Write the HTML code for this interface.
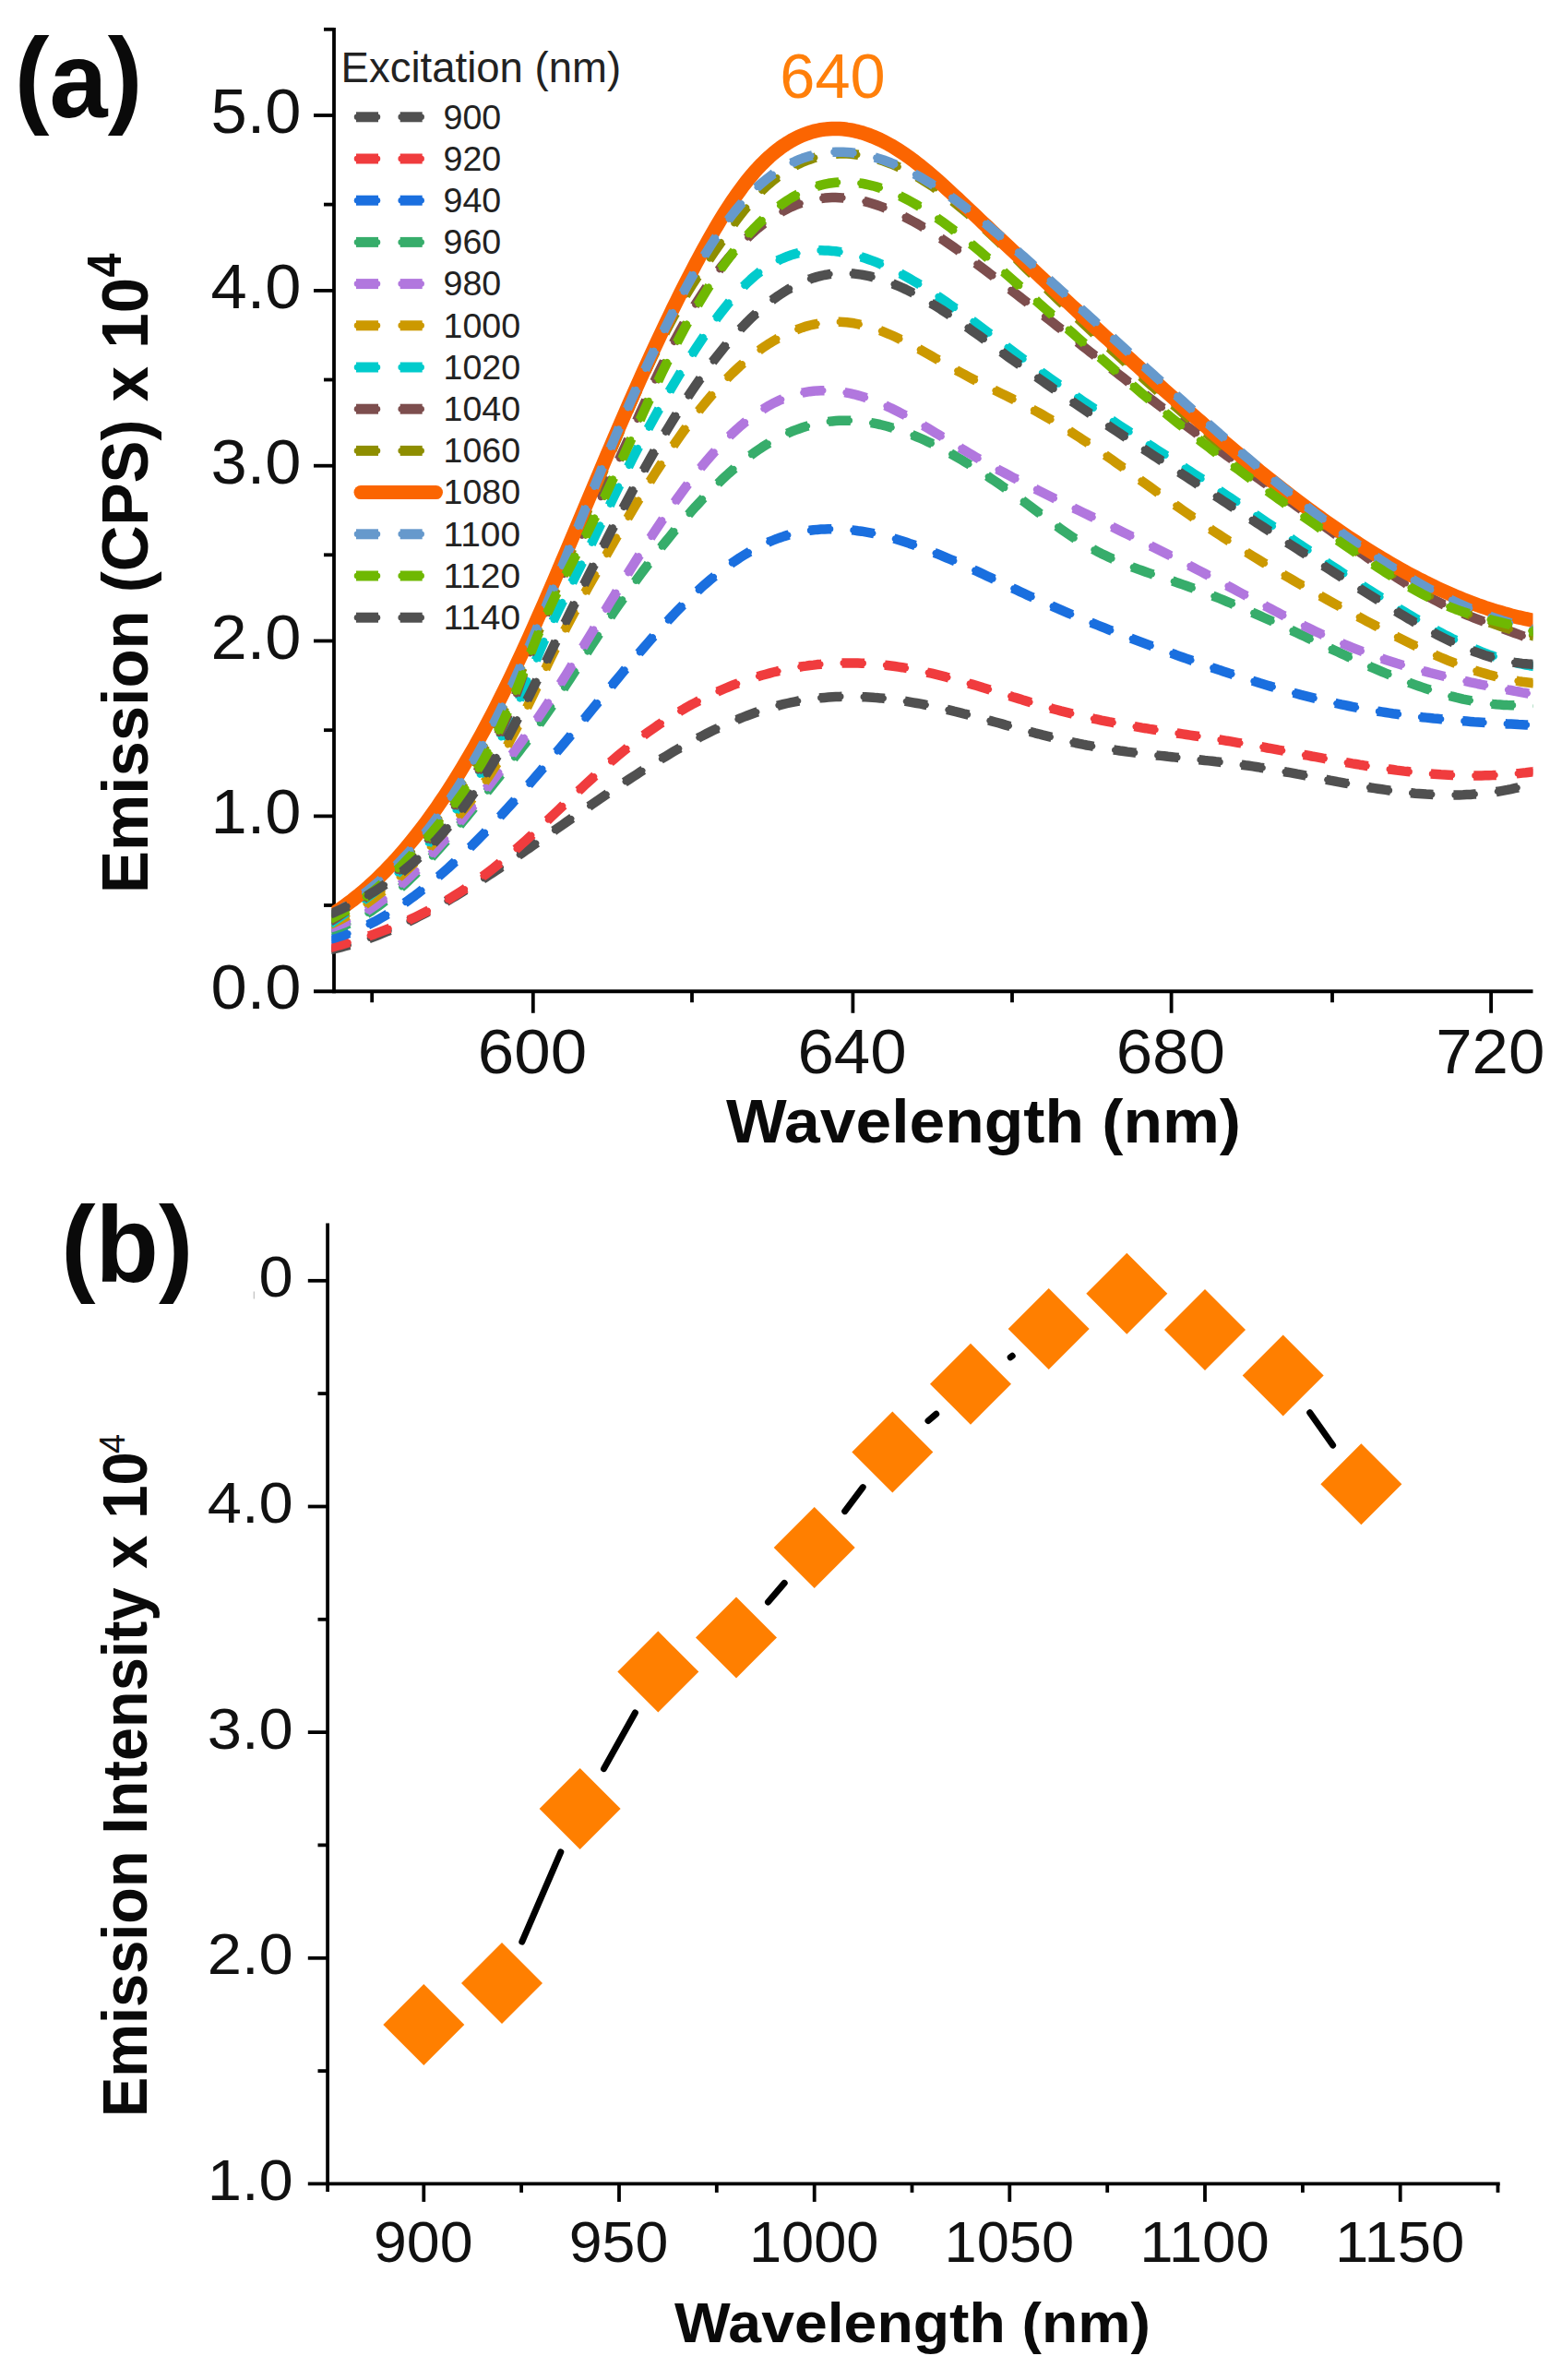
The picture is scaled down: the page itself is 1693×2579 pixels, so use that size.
<!DOCTYPE html>
<html lang="en">
<head>
<meta charset="utf-8">
<title>Emission spectra and excitation dependence</title>
<style>
html,body{margin:0;padding:0;background:#fff;}
body{width:1693px;height:2579px;overflow:hidden;}
svg{display:block;}
text{font-family:"Liberation Sans", sans-serif;}
.tk{font-size:69px;fill:#111;}
.tkb{font-size:63px;fill:#111;}
.lg{font-size:36px;fill:#222;}
.b{font-weight:bold;fill:#0a0a0a;}
.ax{stroke:#000;stroke-width:3.8;fill:none;stroke-linecap:butt;}
</style>
</head>
<body>
<svg width="1693" height="2579" viewBox="0 0 1693 2579">
<rect x="0" y="0" width="1693" height="2579" fill="#ffffff"/>

<defs><clipPath id="clipA"><rect x="359.4" y="20" width="1302.1" height="1055"/></clipPath></defs>
<path class="ax" d="M362.0 29.9 V1076.15"/>
<path class="ax" d="M340 1074.25 H1661.5"/>
<text class="tk" x="326.5" y="1093.2" text-anchor="end" textLength="98" lengthAdjust="spacingAndGlyphs">0.0</text>
<path class="ax" d="M340 884.4 H362.0"/>
<text class="tk" x="326.5" y="903.4" text-anchor="end" textLength="98" lengthAdjust="spacingAndGlyphs">1.0</text>
<path class="ax" d="M340 694.5 H362.0"/>
<text class="tk" x="326.5" y="713.5" text-anchor="end" textLength="98" lengthAdjust="spacingAndGlyphs">2.0</text>
<path class="ax" d="M340 504.7 H362.0"/>
<text class="tk" x="326.5" y="523.7" text-anchor="end" textLength="98" lengthAdjust="spacingAndGlyphs">3.0</text>
<path class="ax" d="M340 314.9 H362.0"/>
<text class="tk" x="326.5" y="333.9" text-anchor="end" textLength="98" lengthAdjust="spacingAndGlyphs">4.0</text>
<path class="ax" d="M340 125.0 H362.0"/>
<text class="tk" x="326.5" y="144.0" text-anchor="end" textLength="98" lengthAdjust="spacingAndGlyphs">5.0</text>
<path class="ax" d="M351 981.0 H362.0"/>
<path class="ax" d="M351 791.2 H362.0"/>
<path class="ax" d="M351 601.3 H362.0"/>
<path class="ax" d="M351 411.5 H362.0"/>
<path class="ax" d="M351 221.6 H362.0"/>
<path class="ax" d="M351 31.8 H362.0"/>
<path class="ax" d="M577.8 1074.25 V1097.75"/>
<text class="tk" x="577.0" y="1162.6" text-anchor="middle" textLength="118.3" lengthAdjust="spacingAndGlyphs">600</text>
<path class="ax" d="M924.4 1074.25 V1097.75"/>
<text class="tk" x="923.6" y="1162.6" text-anchor="middle" textLength="118.3" lengthAdjust="spacingAndGlyphs">640</text>
<path class="ax" d="M1269.6 1074.25 V1097.75"/>
<text class="tk" x="1268.8" y="1162.6" text-anchor="middle" textLength="118.3" lengthAdjust="spacingAndGlyphs">680</text>
<path class="ax" d="M1616.1 1074.25 V1097.75"/>
<text class="tk" x="1615.3" y="1162.6" text-anchor="middle" textLength="118.3" lengthAdjust="spacingAndGlyphs">720</text>
<path class="ax" d="M403.2 1074.25 V1086.25"/>
<path class="ax" d="M750.0 1074.25 V1086.25"/>
<path class="ax" d="M1097.0 1074.25 V1086.25"/>
<path class="ax" d="M1444.0 1074.25 V1086.25"/>
<g clip-path="url(#clipA)" fill="none" stroke-linejoin="round">
<path d="M357.8 1029.2 L361.8 1028.3 L365.8 1027.4 L369.8 1026.4 L373.8 1025.3 L377.8 1024.2 L381.8 1023.0 L385.8 1021.8 L389.8 1020.5 L393.8 1019.2 L397.8 1017.8 L401.8 1016.3 L405.8 1014.8 L409.8 1013.3 L413.8 1011.7 L417.8 1010.0 L421.8 1008.4 L425.8 1006.6 L429.8 1004.8 L433.8 1003.0 L437.8 1001.1 L441.8 999.2 L445.8 997.3 L449.8 995.3 L453.8 993.2 L457.8 991.1 L461.8 989.0 L465.8 986.9 L469.8 984.7 L473.8 982.5 L477.8 980.2 L481.8 977.9 L485.8 975.6 L489.8 973.3 L493.8 970.9 L497.8 968.5 L501.8 966.1 L505.8 963.6 L509.8 961.1 L513.8 958.6 L517.8 956.1 L521.8 953.5 L525.8 951.0 L529.8 948.4 L533.8 945.8 L537.8 943.1 L541.8 940.5 L545.8 937.8 L549.8 935.1 L553.8 932.4 L557.8 929.7 L561.8 927.0 L565.8 924.3 L569.8 921.5 L573.8 918.8 L577.8 916.0 L581.8 913.2 L585.8 910.4 L589.8 907.7 L593.8 904.9 L597.8 902.1 L601.8 899.3 L605.8 896.5 L609.8 893.7 L613.8 890.9 L617.8 888.1 L621.8 885.3 L625.8 882.5 L629.8 879.8 L633.8 877.0 L637.8 874.2 L641.8 871.5 L645.8 868.7 L649.8 866.0 L653.8 863.2 L657.8 860.5 L661.8 857.8 L665.8 855.1 L669.8 852.4 L673.8 849.8 L677.8 847.1 L681.8 844.5 L685.8 841.9 L689.8 839.3 L693.8 836.7 L697.8 834.1 L701.8 831.6 L705.8 829.1 L709.8 826.6 L713.8 824.2 L717.8 821.8 L721.8 819.4 L725.8 817.0 L729.8 814.6 L733.8 812.3 L737.8 810.0 L741.8 807.8 L745.8 805.6 L749.8 803.4 L753.8 801.3 L757.8 799.1 L761.8 797.1 L765.8 795.0 L769.8 793.0 L773.8 791.1 L777.8 789.2 L781.8 787.3 L785.8 785.5 L789.8 783.7 L793.8 782.0 L797.8 780.3 L801.8 778.6 L805.8 777.0 L809.8 775.5 L813.8 774.0 L817.8 772.5 L821.8 771.1 L825.8 769.8 L829.8 768.5 L833.8 767.3 L837.8 766.1 L841.8 765.0 L845.8 763.9 L849.8 762.9 L853.8 762.0 L857.8 761.1 L861.8 760.3 L865.8 759.5 L869.8 758.8 L873.8 758.2 L877.8 757.6 L881.8 757.1 L885.8 756.6 L889.8 756.2 L893.8 755.9 L897.8 755.6 L901.8 755.3 L905.8 755.1 L909.8 754.9 L913.8 754.8 L917.8 754.8 L921.8 754.8 L925.8 754.8 L929.8 754.9 L933.8 755.1 L937.8 755.3 L941.8 755.5 L945.8 755.7 L949.8 756.1 L953.8 756.4 L957.8 756.8 L961.8 757.2 L965.8 757.7 L969.8 758.2 L973.8 758.8 L977.8 759.3 L981.8 759.9 L985.8 760.6 L989.8 761.3 L993.8 762.0 L997.8 762.7 L1001.8 763.5 L1005.8 764.3 L1009.8 765.2 L1013.8 766.0 L1017.8 766.9 L1021.8 767.8 L1025.8 768.7 L1029.8 769.7 L1033.8 770.7 L1037.8 771.6 L1041.8 772.6 L1045.8 773.7 L1049.8 774.7 L1053.8 775.8 L1057.8 776.8 L1061.8 777.9 L1065.8 779.0 L1069.8 780.1 L1073.8 781.1 L1077.8 782.2 L1081.8 783.3 L1085.8 784.4 L1089.8 785.6 L1093.8 786.7 L1097.8 787.8 L1101.8 788.9 L1105.8 790.0 L1109.8 791.1 L1113.8 792.1 L1117.8 793.2 L1121.8 794.3 L1125.8 795.3 L1129.8 796.4 L1133.8 797.4 L1137.8 798.4 L1141.8 799.4 L1145.8 800.4 L1149.8 801.4 L1153.8 802.3 L1157.8 803.2 L1161.8 804.1 L1165.8 805.0 L1169.8 805.8 L1173.8 806.7 L1177.8 807.5 L1181.8 808.2 L1185.8 809.0 L1189.8 809.7 L1193.8 810.4 L1197.8 811.0 L1201.8 811.7 L1205.8 812.3 L1209.8 812.9 L1213.8 813.5 L1217.8 814.0 L1221.8 814.6 L1225.8 815.1 L1229.8 815.6 L1233.8 816.1 L1237.8 816.6 L1241.8 817.1 L1245.8 817.6 L1249.8 818.0 L1253.8 818.5 L1257.8 818.9 L1261.8 819.3 L1265.8 819.8 L1269.8 820.2 L1273.8 820.6 L1277.8 821.0 L1281.8 821.4 L1285.8 821.9 L1289.8 822.3 L1293.8 822.7 L1297.8 823.1 L1301.8 823.5 L1305.8 824.0 L1309.8 824.4 L1313.8 824.8 L1317.8 825.3 L1321.8 825.7 L1325.8 826.2 L1329.8 826.7 L1333.8 827.2 L1337.8 827.7 L1341.8 828.2 L1345.8 828.7 L1349.8 829.3 L1353.8 829.8 L1357.8 830.4 L1361.8 831.0 L1365.8 831.7 L1369.8 832.3 L1373.8 833.0 L1377.8 833.6 L1381.8 834.3 L1385.8 835.0 L1389.8 835.7 L1393.8 836.5 L1397.8 837.2 L1401.8 837.9 L1405.8 838.7 L1409.8 839.4 L1413.8 840.2 L1417.8 841.0 L1421.8 841.7 L1425.8 842.5 L1429.8 843.3 L1433.8 844.0 L1437.8 844.8 L1441.8 845.6 L1445.8 846.3 L1449.8 847.1 L1453.8 847.8 L1457.8 848.6 L1461.8 849.3 L1465.8 850.0 L1469.8 850.7 L1473.8 851.4 L1477.8 852.1 L1481.8 852.8 L1485.8 853.5 L1489.8 854.1 L1493.8 854.7 L1497.8 855.3 L1501.8 855.9 L1505.8 856.5 L1509.8 857.0 L1513.8 857.5 L1517.8 858.0 L1521.8 858.4 L1525.8 858.9 L1529.8 859.3 L1533.8 859.7 L1537.8 860.0 L1541.8 860.3 L1545.8 860.6 L1549.8 860.8 L1553.8 861.0 L1557.8 861.2 L1561.8 861.3 L1565.8 861.4 L1569.8 861.5 L1573.8 861.5 L1577.8 861.5 L1581.8 861.4 L1585.8 861.3 L1589.8 861.1 L1593.8 860.9 L1597.8 860.6 L1601.8 860.3 L1605.8 859.9 L1609.8 859.5 L1613.8 859.1 L1617.8 858.5 L1621.8 858.0 L1625.8 857.3 L1629.8 856.6 L1633.8 855.9 L1637.8 855.1 L1641.8 854.2 L1645.8 853.3 L1649.8 852.3 L1653.8 851.2 L1657.8 850.1 L1661.8 848.9 L1665.8 847.6" stroke="#505050" stroke-width="10.5" stroke-dasharray="24.4 22.1" stroke-dashoffset="2.7"/>
<path d="M357.8 1029.2 L361.8 1028.3 L365.8 1027.4 L369.8 1026.4 L373.8 1025.3 L377.8 1024.2 L381.8 1023.0 L385.8 1021.8 L389.8 1020.5 L393.8 1019.2 L397.8 1017.8 L401.8 1016.3 L405.8 1014.8 L409.8 1013.3 L413.8 1011.7 L417.8 1010.0 L421.8 1008.4 L425.8 1006.6 L429.8 1004.8 L433.8 1003.0 L437.8 1001.1 L441.8 999.2 L445.8 997.3 L449.8 995.3 L453.8 993.2 L457.8 991.1 L461.8 989.0 L465.8 986.9 L469.8 984.7 L473.8 982.5 L477.8 980.2 L481.8 977.9 L485.8 975.6 L489.8 973.3 L493.8 970.9 L497.8 968.5 L501.8 966.1 L505.8 963.6 L509.8 961.1 L513.8 958.6 L517.8 956.1 L521.8 953.5 L525.8 951.0 L529.8 948.4 L533.8 945.8 L537.8 943.1 L541.8 940.5 L545.8 937.8 L549.8 935.1 L553.8 932.4 L557.8 929.7 L561.8 927.0 L565.8 924.3 L569.8 921.5 L573.8 918.8 L577.8 916.0 L581.8 913.2 L585.8 910.4 L589.8 907.7 L593.8 904.9 L597.8 902.1 L601.8 899.3 L605.8 896.5 L609.8 893.7 L613.8 890.9 L617.8 888.1 L621.8 885.3 L625.8 882.5 L629.8 879.8 L633.8 877.0 L637.8 874.2 L641.8 871.5 L645.8 868.7 L649.8 866.0 L653.8 863.2 L657.8 860.5 L661.8 857.8 L665.8 855.1 L669.8 852.4 L673.8 849.8 L677.8 847.1 L681.8 844.5 L685.8 841.9 L689.8 839.3 L693.8 836.7 L697.8 834.1 L701.8 831.6 L705.8 829.1 L709.8 826.6 L713.8 824.2 L717.8 821.8 L721.8 819.4 L725.8 817.0 L729.8 814.6 L733.8 812.3 L737.8 810.0 L741.8 807.8 L745.8 805.6 L749.8 803.4 L753.8 801.3 L757.8 799.1 L761.8 797.1 L765.8 795.0 L769.8 793.0 L773.8 791.1 L777.8 789.2 L781.8 787.3 L785.8 785.5 L789.8 783.7 L793.8 782.0 L797.8 780.3 L801.8 778.6 L805.8 777.0 L809.8 775.5 L813.8 774.0 L817.8 772.5 L821.8 771.1 L825.8 769.8 L829.8 768.5 L833.8 767.3 L837.8 766.1 L841.8 765.0 L845.8 763.9 L849.8 762.9 L853.8 762.0 L857.8 761.1 L861.8 760.3 L865.8 759.5 L869.8 758.8 L873.8 758.2 L877.8 757.6 L881.8 757.1 L885.8 756.6 L889.8 756.2 L893.8 755.9 L897.8 755.6 L901.8 755.3 L905.8 755.1 L909.8 754.9 L913.8 754.8 L917.8 754.8 L921.8 754.8 L925.8 754.8 L929.8 754.9 L933.8 755.1 L937.8 755.3 L941.8 755.5 L945.8 755.7 L949.8 756.1 L953.8 756.4 L957.8 756.8 L961.8 757.2 L965.8 757.7 L969.8 758.2 L973.8 758.8 L977.8 759.3 L981.8 759.9 L985.8 760.6 L989.8 761.3 L993.8 762.0 L997.8 762.7 L1001.8 763.5 L1005.8 764.3 L1009.8 765.2 L1013.8 766.0 L1017.8 766.9 L1021.8 767.8 L1025.8 768.7 L1029.8 769.7 L1033.8 770.7 L1037.8 771.6 L1041.8 772.6 L1045.8 773.7 L1049.8 774.7 L1053.8 775.8 L1057.8 776.8 L1061.8 777.9 L1065.8 779.0 L1069.8 780.1 L1073.8 781.1 L1077.8 782.2 L1081.8 783.3 L1085.8 784.4 L1089.8 785.6 L1093.8 786.7 L1097.8 787.8 L1101.8 788.9 L1105.8 790.0 L1109.8 791.1 L1113.8 792.1 L1117.8 793.2 L1121.8 794.3 L1125.8 795.3 L1129.8 796.4 L1133.8 797.4 L1137.8 798.4 L1141.8 799.4 L1145.8 800.4 L1149.8 801.4 L1153.8 802.3 L1157.8 803.2 L1161.8 804.1 L1165.8 805.0 L1169.8 805.8 L1173.8 806.7 L1177.8 807.5 L1181.8 808.2 L1185.8 809.0 L1189.8 809.7 L1193.8 810.4 L1197.8 811.0 L1201.8 811.7 L1205.8 812.3 L1209.8 812.9 L1213.8 813.5 L1217.8 814.0 L1221.8 814.6 L1225.8 815.1 L1229.8 815.6 L1233.8 816.1 L1237.8 816.6 L1241.8 817.1 L1245.8 817.6 L1249.8 818.0 L1253.8 818.5 L1257.8 818.9 L1261.8 819.3 L1265.8 819.8 L1269.8 820.2 L1273.8 820.6 L1277.8 821.0 L1281.8 821.4 L1285.8 821.9 L1289.8 822.3 L1293.8 822.7 L1297.8 823.1 L1301.8 823.5 L1305.8 824.0 L1309.8 824.4 L1313.8 824.8 L1317.8 825.3 L1321.8 825.7 L1325.8 826.2 L1329.8 826.7 L1333.8 827.2 L1337.8 827.7 L1341.8 828.2 L1345.8 828.7 L1349.8 829.3 L1353.8 829.8 L1357.8 830.4 L1361.8 831.0 L1365.8 831.7 L1369.8 832.3 L1373.8 833.0 L1377.8 833.6 L1381.8 834.3 L1385.8 835.0 L1389.8 835.7 L1393.8 836.5 L1397.8 837.2 L1401.8 837.9 L1405.8 838.7 L1409.8 839.4 L1413.8 840.2 L1417.8 841.0 L1421.8 841.7 L1425.8 842.5 L1429.8 843.3 L1433.8 844.0 L1437.8 844.8 L1441.8 845.6 L1445.8 846.3 L1449.8 847.1 L1453.8 847.8 L1457.8 848.6 L1461.8 849.3 L1465.8 850.0 L1469.8 850.7 L1473.8 851.4 L1477.8 852.1 L1481.8 852.8 L1485.8 853.5 L1489.8 854.1 L1493.8 854.7 L1497.8 855.3 L1501.8 855.9 L1505.8 856.5 L1509.8 857.0 L1513.8 857.5 L1517.8 858.0 L1521.8 858.4 L1525.8 858.9 L1529.8 859.3 L1533.8 859.7 L1537.8 860.0 L1541.8 860.3 L1545.8 860.6 L1549.8 860.8 L1553.8 861.0 L1557.8 861.2 L1561.8 861.3 L1565.8 861.4 L1569.8 861.5 L1573.8 861.5 L1577.8 861.5 L1581.8 861.4 L1585.8 861.3 L1589.8 861.1 L1593.8 860.9 L1597.8 860.6 L1601.8 860.3 L1605.8 859.9 L1609.8 859.5 L1613.8 859.1 L1617.8 858.5 L1621.8 858.0 L1625.8 857.3 L1629.8 856.6 L1633.8 855.9 L1637.8 855.1 L1641.8 854.2 L1645.8 853.3 L1649.8 852.3 L1653.8 851.2 L1657.8 850.1 L1661.8 848.9 L1665.8 847.6" stroke="#505050" stroke-width="6.5" stroke-linecap="round" stroke-dasharray="22 24.5" stroke-dashoffset="1.5"/>
<path d="M357.8 1026.9 L361.8 1025.9 L365.8 1024.8 L369.8 1023.6 L373.8 1022.5 L377.8 1021.3 L381.8 1020.1 L385.8 1018.9 L389.8 1017.6 L393.8 1016.3 L397.8 1015.0 L401.8 1013.6 L405.8 1012.2 L409.8 1010.7 L413.8 1009.2 L417.8 1007.7 L421.8 1006.1 L425.8 1004.5 L429.8 1002.9 L433.8 1001.2 L437.8 999.4 L441.8 997.7 L445.8 995.8 L449.8 993.9 L453.8 992.0 L457.8 990.0 L461.8 988.0 L465.8 985.9 L469.8 983.8 L473.8 981.6 L477.8 979.4 L481.8 977.1 L485.8 974.7 L489.8 972.3 L493.8 969.8 L497.8 967.3 L501.8 964.7 L505.8 962.0 L509.8 959.3 L513.8 956.5 L517.8 953.7 L521.8 950.7 L525.8 947.7 L529.8 944.7 L533.8 941.6 L537.8 938.4 L541.8 935.1 L545.8 931.8 L549.8 928.4 L553.8 925.0 L557.8 921.5 L561.8 918.0 L565.8 914.4 L569.8 910.8 L573.8 907.2 L577.8 903.5 L581.8 899.8 L585.8 896.1 L589.8 892.3 L593.8 888.6 L597.8 884.8 L601.8 881.0 L605.8 877.2 L609.8 873.4 L613.8 869.6 L617.8 865.9 L621.8 862.1 L625.8 858.3 L629.8 854.6 L633.8 850.8 L637.8 847.1 L641.8 843.5 L645.8 839.8 L649.8 836.2 L653.8 832.6 L657.8 829.1 L661.8 825.6 L665.8 822.2 L669.8 818.8 L673.8 815.5 L677.8 812.2 L681.8 809.0 L685.8 805.8 L689.8 802.7 L693.8 799.7 L697.8 796.7 L701.8 793.8 L705.8 791.0 L709.8 788.2 L713.8 785.4 L717.8 782.8 L721.8 780.2 L725.8 777.6 L729.8 775.1 L733.8 772.7 L737.8 770.3 L741.8 767.9 L745.8 765.7 L749.8 763.4 L753.8 761.3 L757.8 759.2 L761.8 757.1 L765.8 755.1 L769.8 753.2 L773.8 751.3 L777.8 749.5 L781.8 747.7 L785.8 746.0 L789.8 744.3 L793.8 742.7 L797.8 741.2 L801.8 739.7 L805.8 738.2 L809.8 736.8 L813.8 735.5 L817.8 734.2 L821.8 733.0 L825.8 731.8 L829.8 730.7 L833.8 729.6 L837.8 728.5 L841.8 727.6 L845.8 726.6 L849.8 725.8 L853.8 724.9 L857.8 724.2 L861.8 723.4 L865.8 722.8 L869.8 722.1 L873.8 721.6 L877.8 721.0 L881.8 720.6 L885.8 720.1 L889.8 719.8 L893.8 719.4 L897.8 719.1 L901.8 718.9 L905.8 718.7 L909.8 718.6 L913.8 718.5 L917.8 718.4 L921.8 718.4 L925.8 718.5 L929.8 718.6 L933.8 718.7 L937.8 718.9 L941.8 719.1 L945.8 719.4 L949.8 719.7 L953.8 720.1 L957.8 720.5 L961.8 721.0 L965.8 721.5 L969.8 722.0 L973.8 722.6 L977.8 723.2 L981.8 723.9 L985.8 724.6 L989.8 725.4 L993.8 726.2 L997.8 727.0 L1001.8 727.9 L1005.8 728.8 L1009.8 729.7 L1013.8 730.7 L1017.8 731.7 L1021.8 732.7 L1025.8 733.7 L1029.8 734.8 L1033.8 735.9 L1037.8 737.0 L1041.8 738.1 L1045.8 739.3 L1049.8 740.5 L1053.8 741.6 L1057.8 742.8 L1061.8 744.0 L1065.8 745.3 L1069.8 746.5 L1073.8 747.7 L1077.8 748.9 L1081.8 750.2 L1085.8 751.4 L1089.8 752.7 L1093.8 753.9 L1097.8 755.2 L1101.8 756.4 L1105.8 757.6 L1109.8 758.9 L1113.8 760.1 L1117.8 761.3 L1121.8 762.5 L1125.8 763.7 L1129.8 764.8 L1133.8 766.0 L1137.8 767.1 L1141.8 768.2 L1145.8 769.3 L1149.8 770.4 L1153.8 771.4 L1157.8 772.4 L1161.8 773.4 L1165.8 774.4 L1169.8 775.3 L1173.8 776.3 L1177.8 777.2 L1181.8 778.0 L1185.8 778.9 L1189.8 779.7 L1193.8 780.6 L1197.8 781.4 L1201.8 782.2 L1205.8 782.9 L1209.8 783.7 L1213.8 784.4 L1217.8 785.1 L1221.8 785.8 L1225.8 786.5 L1229.8 787.2 L1233.8 787.9 L1237.8 788.6 L1241.8 789.2 L1245.8 789.9 L1249.8 790.5 L1253.8 791.1 L1257.8 791.7 L1261.8 792.4 L1265.8 793.0 L1269.8 793.6 L1273.8 794.2 L1277.8 794.8 L1281.8 795.4 L1285.8 796.0 L1289.8 796.6 L1293.8 797.2 L1297.8 797.8 L1301.8 798.4 L1305.8 799.0 L1309.8 799.6 L1313.8 800.3 L1317.8 800.9 L1321.8 801.5 L1325.8 802.1 L1329.8 802.8 L1333.8 803.4 L1337.8 804.1 L1341.8 804.8 L1345.8 805.5 L1349.8 806.2 L1353.8 806.9 L1357.8 807.6 L1361.8 808.3 L1365.8 809.0 L1369.8 809.7 L1373.8 810.5 L1377.8 811.2 L1381.8 811.9 L1385.8 812.7 L1389.8 813.4 L1393.8 814.2 L1397.8 814.9 L1401.8 815.7 L1405.8 816.5 L1409.8 817.2 L1413.8 818.0 L1417.8 818.7 L1421.8 819.5 L1425.8 820.2 L1429.8 820.9 L1433.8 821.7 L1437.8 822.4 L1441.8 823.1 L1445.8 823.9 L1449.8 824.6 L1453.8 825.3 L1457.8 826.0 L1461.8 826.7 L1465.8 827.4 L1469.8 828.0 L1473.8 828.7 L1477.8 829.3 L1481.8 830.0 L1485.8 830.6 L1489.8 831.2 L1493.8 831.8 L1497.8 832.4 L1501.8 833.0 L1505.8 833.5 L1509.8 834.0 L1513.8 834.6 L1517.8 835.1 L1521.8 835.6 L1525.8 836.0 L1529.8 836.5 L1533.8 836.9 L1537.8 837.3 L1541.8 837.7 L1545.8 838.0 L1549.8 838.4 L1553.8 838.7 L1557.8 839.0 L1561.8 839.3 L1565.8 839.5 L1569.8 839.7 L1573.8 839.9 L1577.8 840.1 L1581.8 840.2 L1585.8 840.3 L1589.8 840.4 L1593.8 840.4 L1597.8 840.5 L1601.8 840.4 L1605.8 840.4 L1609.8 840.3 L1613.8 840.2 L1617.8 840.1 L1621.8 839.9 L1625.8 839.7 L1629.8 839.4 L1633.8 839.2 L1637.8 838.8 L1641.8 838.5 L1645.8 838.1 L1649.8 837.6 L1653.8 837.2 L1657.8 836.7 L1661.8 836.2 L1665.8 835.6" stroke="#f03c3e" stroke-width="10.5" stroke-dasharray="24.4 22.1" stroke-dashoffset="2.7"/>
<path d="M357.8 1026.9 L361.8 1025.9 L365.8 1024.8 L369.8 1023.6 L373.8 1022.5 L377.8 1021.3 L381.8 1020.1 L385.8 1018.9 L389.8 1017.6 L393.8 1016.3 L397.8 1015.0 L401.8 1013.6 L405.8 1012.2 L409.8 1010.7 L413.8 1009.2 L417.8 1007.7 L421.8 1006.1 L425.8 1004.5 L429.8 1002.9 L433.8 1001.2 L437.8 999.4 L441.8 997.7 L445.8 995.8 L449.8 993.9 L453.8 992.0 L457.8 990.0 L461.8 988.0 L465.8 985.9 L469.8 983.8 L473.8 981.6 L477.8 979.4 L481.8 977.1 L485.8 974.7 L489.8 972.3 L493.8 969.8 L497.8 967.3 L501.8 964.7 L505.8 962.0 L509.8 959.3 L513.8 956.5 L517.8 953.7 L521.8 950.7 L525.8 947.7 L529.8 944.7 L533.8 941.6 L537.8 938.4 L541.8 935.1 L545.8 931.8 L549.8 928.4 L553.8 925.0 L557.8 921.5 L561.8 918.0 L565.8 914.4 L569.8 910.8 L573.8 907.2 L577.8 903.5 L581.8 899.8 L585.8 896.1 L589.8 892.3 L593.8 888.6 L597.8 884.8 L601.8 881.0 L605.8 877.2 L609.8 873.4 L613.8 869.6 L617.8 865.9 L621.8 862.1 L625.8 858.3 L629.8 854.6 L633.8 850.8 L637.8 847.1 L641.8 843.5 L645.8 839.8 L649.8 836.2 L653.8 832.6 L657.8 829.1 L661.8 825.6 L665.8 822.2 L669.8 818.8 L673.8 815.5 L677.8 812.2 L681.8 809.0 L685.8 805.8 L689.8 802.7 L693.8 799.7 L697.8 796.7 L701.8 793.8 L705.8 791.0 L709.8 788.2 L713.8 785.4 L717.8 782.8 L721.8 780.2 L725.8 777.6 L729.8 775.1 L733.8 772.7 L737.8 770.3 L741.8 767.9 L745.8 765.7 L749.8 763.4 L753.8 761.3 L757.8 759.2 L761.8 757.1 L765.8 755.1 L769.8 753.2 L773.8 751.3 L777.8 749.5 L781.8 747.7 L785.8 746.0 L789.8 744.3 L793.8 742.7 L797.8 741.2 L801.8 739.7 L805.8 738.2 L809.8 736.8 L813.8 735.5 L817.8 734.2 L821.8 733.0 L825.8 731.8 L829.8 730.7 L833.8 729.6 L837.8 728.5 L841.8 727.6 L845.8 726.6 L849.8 725.8 L853.8 724.9 L857.8 724.2 L861.8 723.4 L865.8 722.8 L869.8 722.1 L873.8 721.6 L877.8 721.0 L881.8 720.6 L885.8 720.1 L889.8 719.8 L893.8 719.4 L897.8 719.1 L901.8 718.9 L905.8 718.7 L909.8 718.6 L913.8 718.5 L917.8 718.4 L921.8 718.4 L925.8 718.5 L929.8 718.6 L933.8 718.7 L937.8 718.9 L941.8 719.1 L945.8 719.4 L949.8 719.7 L953.8 720.1 L957.8 720.5 L961.8 721.0 L965.8 721.5 L969.8 722.0 L973.8 722.6 L977.8 723.2 L981.8 723.9 L985.8 724.6 L989.8 725.4 L993.8 726.2 L997.8 727.0 L1001.8 727.9 L1005.8 728.8 L1009.8 729.7 L1013.8 730.7 L1017.8 731.7 L1021.8 732.7 L1025.8 733.7 L1029.8 734.8 L1033.8 735.9 L1037.8 737.0 L1041.8 738.1 L1045.8 739.3 L1049.8 740.5 L1053.8 741.6 L1057.8 742.8 L1061.8 744.0 L1065.8 745.3 L1069.8 746.5 L1073.8 747.7 L1077.8 748.9 L1081.8 750.2 L1085.8 751.4 L1089.8 752.7 L1093.8 753.9 L1097.8 755.2 L1101.8 756.4 L1105.8 757.6 L1109.8 758.9 L1113.8 760.1 L1117.8 761.3 L1121.8 762.5 L1125.8 763.7 L1129.8 764.8 L1133.8 766.0 L1137.8 767.1 L1141.8 768.2 L1145.8 769.3 L1149.8 770.4 L1153.8 771.4 L1157.8 772.4 L1161.8 773.4 L1165.8 774.4 L1169.8 775.3 L1173.8 776.3 L1177.8 777.2 L1181.8 778.0 L1185.8 778.9 L1189.8 779.7 L1193.8 780.6 L1197.8 781.4 L1201.8 782.2 L1205.8 782.9 L1209.8 783.7 L1213.8 784.4 L1217.8 785.1 L1221.8 785.8 L1225.8 786.5 L1229.8 787.2 L1233.8 787.9 L1237.8 788.6 L1241.8 789.2 L1245.8 789.9 L1249.8 790.5 L1253.8 791.1 L1257.8 791.7 L1261.8 792.4 L1265.8 793.0 L1269.8 793.6 L1273.8 794.2 L1277.8 794.8 L1281.8 795.4 L1285.8 796.0 L1289.8 796.6 L1293.8 797.2 L1297.8 797.8 L1301.8 798.4 L1305.8 799.0 L1309.8 799.6 L1313.8 800.3 L1317.8 800.9 L1321.8 801.5 L1325.8 802.1 L1329.8 802.8 L1333.8 803.4 L1337.8 804.1 L1341.8 804.8 L1345.8 805.5 L1349.8 806.2 L1353.8 806.9 L1357.8 807.6 L1361.8 808.3 L1365.8 809.0 L1369.8 809.7 L1373.8 810.5 L1377.8 811.2 L1381.8 811.9 L1385.8 812.7 L1389.8 813.4 L1393.8 814.2 L1397.8 814.9 L1401.8 815.7 L1405.8 816.5 L1409.8 817.2 L1413.8 818.0 L1417.8 818.7 L1421.8 819.5 L1425.8 820.2 L1429.8 820.9 L1433.8 821.7 L1437.8 822.4 L1441.8 823.1 L1445.8 823.9 L1449.8 824.6 L1453.8 825.3 L1457.8 826.0 L1461.8 826.7 L1465.8 827.4 L1469.8 828.0 L1473.8 828.7 L1477.8 829.3 L1481.8 830.0 L1485.8 830.6 L1489.8 831.2 L1493.8 831.8 L1497.8 832.4 L1501.8 833.0 L1505.8 833.5 L1509.8 834.0 L1513.8 834.6 L1517.8 835.1 L1521.8 835.6 L1525.8 836.0 L1529.8 836.5 L1533.8 836.9 L1537.8 837.3 L1541.8 837.7 L1545.8 838.0 L1549.8 838.4 L1553.8 838.7 L1557.8 839.0 L1561.8 839.3 L1565.8 839.5 L1569.8 839.7 L1573.8 839.9 L1577.8 840.1 L1581.8 840.2 L1585.8 840.3 L1589.8 840.4 L1593.8 840.4 L1597.8 840.5 L1601.8 840.4 L1605.8 840.4 L1609.8 840.3 L1613.8 840.2 L1617.8 840.1 L1621.8 839.9 L1625.8 839.7 L1629.8 839.4 L1633.8 839.2 L1637.8 838.8 L1641.8 838.5 L1645.8 838.1 L1649.8 837.6 L1653.8 837.2 L1657.8 836.7 L1661.8 836.2 L1665.8 835.6" stroke="#f03c3e" stroke-width="6.5" stroke-linecap="round" stroke-dasharray="22 24.5" stroke-dashoffset="1.5"/>
<path d="M357.8 1017.7 L361.8 1016.6 L365.8 1015.4 L369.8 1014.2 L373.8 1012.9 L377.8 1011.4 L381.8 1009.9 L385.8 1008.3 L389.8 1006.6 L393.8 1004.7 L397.8 1002.8 L401.8 1000.8 L405.8 998.8 L409.8 996.6 L413.8 994.3 L417.8 992.0 L421.8 989.6 L425.8 987.1 L429.8 984.5 L433.8 981.8 L437.8 979.1 L441.8 976.2 L445.8 973.3 L449.8 970.4 L453.8 967.3 L457.8 964.2 L461.8 961.0 L465.8 957.8 L469.8 954.5 L473.8 951.1 L477.8 947.6 L481.8 944.1 L485.8 940.6 L489.8 936.9 L493.8 933.2 L497.8 929.5 L501.8 925.7 L505.8 921.9 L509.8 918.0 L513.8 914.0 L517.8 910.0 L521.8 905.9 L525.8 901.8 L529.8 897.7 L533.8 893.5 L537.8 889.3 L541.8 885.0 L545.8 880.7 L549.8 876.3 L553.8 871.9 L557.8 867.5 L561.8 863.0 L565.8 858.6 L569.8 854.0 L573.8 849.5 L577.8 844.9 L581.8 840.3 L585.8 835.6 L589.8 831.0 L593.8 826.3 L597.8 821.6 L601.8 816.8 L605.8 812.1 L609.8 807.3 L613.8 802.6 L617.8 797.8 L621.8 792.9 L625.8 788.1 L629.8 783.3 L633.8 778.5 L637.8 773.6 L641.8 768.7 L645.8 763.9 L649.8 759.0 L653.8 754.2 L657.8 749.3 L661.8 744.5 L665.8 739.6 L669.8 734.8 L673.8 730.0 L677.8 725.2 L681.8 720.4 L685.8 715.7 L689.8 711.0 L693.8 706.3 L697.8 701.7 L701.8 697.1 L705.8 692.6 L709.8 688.1 L713.8 683.6 L717.8 679.2 L721.8 674.9 L725.8 670.6 L729.8 666.3 L733.8 662.2 L737.8 658.1 L741.8 654.1 L745.8 650.1 L749.8 646.3 L753.8 642.5 L757.8 638.8 L761.8 635.2 L765.8 631.7 L769.8 628.3 L773.8 625.0 L777.8 621.7 L781.8 618.6 L785.8 615.6 L789.8 612.6 L793.8 609.8 L797.8 607.1 L801.8 604.4 L805.8 601.9 L809.8 599.5 L813.8 597.1 L817.8 594.9 L821.8 592.8 L825.8 590.8 L829.8 588.9 L833.8 587.1 L837.8 585.5 L841.8 583.9 L845.8 582.5 L849.8 581.1 L853.8 579.9 L857.8 578.8 L861.8 577.8 L865.8 576.9 L869.8 576.1 L873.8 575.4 L877.8 574.8 L881.8 574.3 L885.8 573.9 L889.8 573.6 L893.8 573.4 L897.8 573.2 L901.8 573.2 L905.8 573.2 L909.8 573.4 L913.8 573.6 L917.8 573.8 L921.8 574.2 L925.8 574.6 L929.8 575.2 L933.8 575.7 L937.8 576.4 L941.8 577.1 L945.8 577.9 L949.8 578.7 L953.8 579.6 L957.8 580.6 L961.8 581.6 L965.8 582.7 L969.8 583.8 L973.8 585.0 L977.8 586.2 L981.8 587.5 L985.8 588.9 L989.8 590.2 L993.8 591.6 L997.8 593.1 L1001.8 594.6 L1005.8 596.1 L1009.8 597.7 L1013.8 599.3 L1017.8 600.9 L1021.8 602.6 L1025.8 604.3 L1029.8 606.0 L1033.8 607.7 L1037.8 609.5 L1041.8 611.3 L1045.8 613.1 L1049.8 614.9 L1053.8 616.7 L1057.8 618.6 L1061.8 620.4 L1065.8 622.3 L1069.8 624.2 L1073.8 626.1 L1077.8 628.0 L1081.8 629.9 L1085.8 631.8 L1089.8 633.6 L1093.8 635.5 L1097.8 637.4 L1101.8 639.3 L1105.8 641.2 L1109.8 643.0 L1113.8 644.9 L1117.8 646.7 L1121.8 648.5 L1125.8 650.3 L1129.8 652.1 L1133.8 653.9 L1137.8 655.6 L1141.8 657.4 L1145.8 659.1 L1149.8 660.9 L1153.8 662.6 L1157.8 664.3 L1161.8 666.0 L1165.8 667.6 L1169.8 669.3 L1173.8 671.0 L1177.8 672.6 L1181.8 674.3 L1185.8 675.9 L1189.8 677.5 L1193.8 679.1 L1197.8 680.7 L1201.8 682.3 L1205.8 683.9 L1209.8 685.4 L1213.8 687.0 L1217.8 688.5 L1221.8 690.1 L1225.8 691.6 L1229.8 693.1 L1233.8 694.6 L1237.8 696.1 L1241.8 697.6 L1245.8 699.1 L1249.8 700.6 L1253.8 702.1 L1257.8 703.5 L1261.8 705.0 L1265.8 706.4 L1269.8 707.9 L1273.8 709.3 L1277.8 710.8 L1281.8 712.2 L1285.8 713.6 L1289.8 715.0 L1293.8 716.4 L1297.8 717.8 L1301.8 719.2 L1305.8 720.6 L1309.8 722.0 L1313.8 723.4 L1317.8 724.7 L1321.8 726.1 L1325.8 727.4 L1329.8 728.7 L1333.8 730.1 L1337.8 731.4 L1341.8 732.7 L1345.8 734.0 L1349.8 735.3 L1353.8 736.5 L1357.8 737.8 L1361.8 739.0 L1365.8 740.3 L1369.8 741.5 L1373.8 742.7 L1377.8 743.9 L1381.8 745.0 L1385.8 746.2 L1389.8 747.4 L1393.8 748.5 L1397.8 749.6 L1401.8 750.7 L1405.8 751.8 L1409.8 752.9 L1413.8 753.9 L1417.8 754.9 L1421.8 755.9 L1425.8 756.9 L1429.8 757.9 L1433.8 758.9 L1437.8 759.8 L1441.8 760.7 L1445.8 761.6 L1449.8 762.5 L1453.8 763.4 L1457.8 764.2 L1461.8 765.0 L1465.8 765.8 L1469.8 766.6 L1473.8 767.3 L1477.8 768.1 L1481.8 768.8 L1485.8 769.5 L1489.8 770.1 L1493.8 770.8 L1497.8 771.4 L1501.8 772.0 L1505.8 772.6 L1509.8 773.2 L1513.8 773.7 L1517.8 774.3 L1521.8 774.8 L1525.8 775.3 L1529.8 775.8 L1533.8 776.3 L1537.8 776.7 L1541.8 777.2 L1545.8 777.6 L1549.8 778.0 L1553.8 778.5 L1557.8 778.8 L1561.8 779.2 L1565.8 779.6 L1569.8 780.0 L1573.8 780.3 L1577.8 780.6 L1581.8 781.0 L1585.8 781.3 L1589.8 781.6 L1593.8 781.9 L1597.8 782.2 L1601.8 782.4 L1605.8 782.7 L1609.8 783.0 L1613.8 783.2 L1617.8 783.5 L1621.8 783.7 L1625.8 784.0 L1629.8 784.2 L1633.8 784.4 L1637.8 784.6 L1641.8 784.8 L1645.8 785.1 L1649.8 785.3 L1653.8 785.5 L1657.8 785.7 L1661.8 785.9 L1665.8 786.1" stroke="#1a6fdf" stroke-width="10.5" stroke-dasharray="24.4 22.1" stroke-dashoffset="2.7"/>
<path d="M357.8 1017.7 L361.8 1016.6 L365.8 1015.4 L369.8 1014.2 L373.8 1012.9 L377.8 1011.4 L381.8 1009.9 L385.8 1008.3 L389.8 1006.6 L393.8 1004.7 L397.8 1002.8 L401.8 1000.8 L405.8 998.8 L409.8 996.6 L413.8 994.3 L417.8 992.0 L421.8 989.6 L425.8 987.1 L429.8 984.5 L433.8 981.8 L437.8 979.1 L441.8 976.2 L445.8 973.3 L449.8 970.4 L453.8 967.3 L457.8 964.2 L461.8 961.0 L465.8 957.8 L469.8 954.5 L473.8 951.1 L477.8 947.6 L481.8 944.1 L485.8 940.6 L489.8 936.9 L493.8 933.2 L497.8 929.5 L501.8 925.7 L505.8 921.9 L509.8 918.0 L513.8 914.0 L517.8 910.0 L521.8 905.9 L525.8 901.8 L529.8 897.7 L533.8 893.5 L537.8 889.3 L541.8 885.0 L545.8 880.7 L549.8 876.3 L553.8 871.9 L557.8 867.5 L561.8 863.0 L565.8 858.6 L569.8 854.0 L573.8 849.5 L577.8 844.9 L581.8 840.3 L585.8 835.6 L589.8 831.0 L593.8 826.3 L597.8 821.6 L601.8 816.8 L605.8 812.1 L609.8 807.3 L613.8 802.6 L617.8 797.8 L621.8 792.9 L625.8 788.1 L629.8 783.3 L633.8 778.5 L637.8 773.6 L641.8 768.7 L645.8 763.9 L649.8 759.0 L653.8 754.2 L657.8 749.3 L661.8 744.5 L665.8 739.6 L669.8 734.8 L673.8 730.0 L677.8 725.2 L681.8 720.4 L685.8 715.7 L689.8 711.0 L693.8 706.3 L697.8 701.7 L701.8 697.1 L705.8 692.6 L709.8 688.1 L713.8 683.6 L717.8 679.2 L721.8 674.9 L725.8 670.6 L729.8 666.3 L733.8 662.2 L737.8 658.1 L741.8 654.1 L745.8 650.1 L749.8 646.3 L753.8 642.5 L757.8 638.8 L761.8 635.2 L765.8 631.7 L769.8 628.3 L773.8 625.0 L777.8 621.7 L781.8 618.6 L785.8 615.6 L789.8 612.6 L793.8 609.8 L797.8 607.1 L801.8 604.4 L805.8 601.9 L809.8 599.5 L813.8 597.1 L817.8 594.9 L821.8 592.8 L825.8 590.8 L829.8 588.9 L833.8 587.1 L837.8 585.5 L841.8 583.9 L845.8 582.5 L849.8 581.1 L853.8 579.9 L857.8 578.8 L861.8 577.8 L865.8 576.9 L869.8 576.1 L873.8 575.4 L877.8 574.8 L881.8 574.3 L885.8 573.9 L889.8 573.6 L893.8 573.4 L897.8 573.2 L901.8 573.2 L905.8 573.2 L909.8 573.4 L913.8 573.6 L917.8 573.8 L921.8 574.2 L925.8 574.6 L929.8 575.2 L933.8 575.7 L937.8 576.4 L941.8 577.1 L945.8 577.9 L949.8 578.7 L953.8 579.6 L957.8 580.6 L961.8 581.6 L965.8 582.7 L969.8 583.8 L973.8 585.0 L977.8 586.2 L981.8 587.5 L985.8 588.9 L989.8 590.2 L993.8 591.6 L997.8 593.1 L1001.8 594.6 L1005.8 596.1 L1009.8 597.7 L1013.8 599.3 L1017.8 600.9 L1021.8 602.6 L1025.8 604.3 L1029.8 606.0 L1033.8 607.7 L1037.8 609.5 L1041.8 611.3 L1045.8 613.1 L1049.8 614.9 L1053.8 616.7 L1057.8 618.6 L1061.8 620.4 L1065.8 622.3 L1069.8 624.2 L1073.8 626.1 L1077.8 628.0 L1081.8 629.9 L1085.8 631.8 L1089.8 633.6 L1093.8 635.5 L1097.8 637.4 L1101.8 639.3 L1105.8 641.2 L1109.8 643.0 L1113.8 644.9 L1117.8 646.7 L1121.8 648.5 L1125.8 650.3 L1129.8 652.1 L1133.8 653.9 L1137.8 655.6 L1141.8 657.4 L1145.8 659.1 L1149.8 660.9 L1153.8 662.6 L1157.8 664.3 L1161.8 666.0 L1165.8 667.6 L1169.8 669.3 L1173.8 671.0 L1177.8 672.6 L1181.8 674.3 L1185.8 675.9 L1189.8 677.5 L1193.8 679.1 L1197.8 680.7 L1201.8 682.3 L1205.8 683.9 L1209.8 685.4 L1213.8 687.0 L1217.8 688.5 L1221.8 690.1 L1225.8 691.6 L1229.8 693.1 L1233.8 694.6 L1237.8 696.1 L1241.8 697.6 L1245.8 699.1 L1249.8 700.6 L1253.8 702.1 L1257.8 703.5 L1261.8 705.0 L1265.8 706.4 L1269.8 707.9 L1273.8 709.3 L1277.8 710.8 L1281.8 712.2 L1285.8 713.6 L1289.8 715.0 L1293.8 716.4 L1297.8 717.8 L1301.8 719.2 L1305.8 720.6 L1309.8 722.0 L1313.8 723.4 L1317.8 724.7 L1321.8 726.1 L1325.8 727.4 L1329.8 728.7 L1333.8 730.1 L1337.8 731.4 L1341.8 732.7 L1345.8 734.0 L1349.8 735.3 L1353.8 736.5 L1357.8 737.8 L1361.8 739.0 L1365.8 740.3 L1369.8 741.5 L1373.8 742.7 L1377.8 743.9 L1381.8 745.0 L1385.8 746.2 L1389.8 747.4 L1393.8 748.5 L1397.8 749.6 L1401.8 750.7 L1405.8 751.8 L1409.8 752.9 L1413.8 753.9 L1417.8 754.9 L1421.8 755.9 L1425.8 756.9 L1429.8 757.9 L1433.8 758.9 L1437.8 759.8 L1441.8 760.7 L1445.8 761.6 L1449.8 762.5 L1453.8 763.4 L1457.8 764.2 L1461.8 765.0 L1465.8 765.8 L1469.8 766.6 L1473.8 767.3 L1477.8 768.1 L1481.8 768.8 L1485.8 769.5 L1489.8 770.1 L1493.8 770.8 L1497.8 771.4 L1501.8 772.0 L1505.8 772.6 L1509.8 773.2 L1513.8 773.7 L1517.8 774.3 L1521.8 774.8 L1525.8 775.3 L1529.8 775.8 L1533.8 776.3 L1537.8 776.7 L1541.8 777.2 L1545.8 777.6 L1549.8 778.0 L1553.8 778.5 L1557.8 778.8 L1561.8 779.2 L1565.8 779.6 L1569.8 780.0 L1573.8 780.3 L1577.8 780.6 L1581.8 781.0 L1585.8 781.3 L1589.8 781.6 L1593.8 781.9 L1597.8 782.2 L1601.8 782.4 L1605.8 782.7 L1609.8 783.0 L1613.8 783.2 L1617.8 783.5 L1621.8 783.7 L1625.8 784.0 L1629.8 784.2 L1633.8 784.4 L1637.8 784.6 L1641.8 784.8 L1645.8 785.1 L1649.8 785.3 L1653.8 785.5 L1657.8 785.7 L1661.8 785.9 L1665.8 786.1" stroke="#1a6fdf" stroke-width="6.5" stroke-linecap="round" stroke-dasharray="22 24.5" stroke-dashoffset="1.5"/>
<path d="M357.8 1008.0 L361.8 1006.9 L365.8 1005.6 L369.8 1004.2 L373.8 1002.7 L377.8 1001.0 L381.8 999.1 L385.8 997.1 L389.8 994.9 L393.8 992.6 L397.8 990.1 L401.8 987.6 L405.8 984.8 L409.8 982.0 L413.8 979.0 L417.8 976.0 L421.8 972.8 L425.8 969.4 L429.8 966.0 L433.8 962.5 L437.8 958.9 L441.8 955.1 L445.8 951.3 L449.8 947.4 L453.8 943.4 L457.8 939.3 L461.8 935.2 L465.8 930.9 L469.8 926.6 L473.8 922.2 L477.8 917.8 L481.8 913.3 L485.8 908.7 L489.8 904.1 L493.8 899.4 L497.8 894.7 L501.8 889.9 L505.8 885.1 L509.8 880.2 L513.8 875.4 L517.8 870.5 L521.8 865.5 L525.8 860.6 L529.8 855.6 L533.8 850.6 L537.8 845.6 L541.8 840.6 L545.8 835.6 L549.8 830.5 L553.8 825.4 L557.8 820.3 L561.8 815.2 L565.8 809.9 L569.8 804.7 L573.8 799.4 L577.8 794.0 L581.8 788.5 L585.8 783.0 L589.8 777.3 L593.8 771.6 L597.8 765.8 L601.8 759.9 L605.8 753.9 L609.8 747.8 L613.8 741.7 L617.8 735.6 L621.8 729.4 L625.8 723.2 L629.8 717.0 L633.8 710.7 L637.8 704.6 L641.8 698.4 L645.8 692.3 L649.8 686.2 L653.8 680.2 L657.8 674.2 L661.8 668.3 L665.8 662.4 L669.8 656.6 L673.8 650.9 L677.8 645.2 L681.8 639.5 L685.8 634.0 L689.8 628.5 L693.8 623.0 L697.8 617.6 L701.8 612.3 L705.8 607.0 L709.8 601.8 L713.8 596.7 L717.8 591.6 L721.8 586.6 L725.8 581.7 L729.8 576.8 L733.8 572.0 L737.8 567.3 L741.8 562.6 L745.8 558.1 L749.8 553.6 L753.8 549.1 L757.8 544.8 L761.8 540.5 L765.8 536.3 L769.8 532.2 L773.8 528.2 L777.8 524.3 L781.8 520.4 L785.8 516.7 L789.8 513.0 L793.8 509.5 L797.8 506.0 L801.8 502.6 L805.8 499.4 L809.8 496.3 L813.8 493.2 L817.8 490.3 L821.8 487.5 L825.8 484.8 L829.8 482.3 L833.8 479.9 L837.8 477.5 L841.8 475.3 L845.8 473.3 L849.8 471.3 L853.8 469.5 L857.8 467.7 L861.8 466.1 L865.8 464.7 L869.8 463.3 L873.8 462.0 L877.8 460.9 L881.8 459.9 L885.8 458.9 L889.8 458.1 L893.8 457.5 L897.8 456.9 L901.8 456.4 L905.8 456.1 L909.8 455.8 L913.8 455.7 L917.8 455.7 L921.8 455.7 L925.8 455.9 L929.8 456.2 L933.8 456.6 L937.8 457.1 L941.8 457.7 L945.8 458.4 L949.8 459.2 L953.8 460.0 L957.8 461.0 L961.8 462.0 L965.8 463.2 L969.8 464.4 L973.8 465.7 L977.8 467.0 L981.8 468.5 L985.8 470.0 L989.8 471.6 L993.8 473.3 L997.8 475.0 L1001.8 476.8 L1005.8 478.7 L1009.8 480.6 L1013.8 482.6 L1017.8 484.6 L1021.8 486.7 L1025.8 488.9 L1029.8 491.1 L1033.8 493.4 L1037.8 495.7 L1041.8 498.0 L1045.8 500.4 L1049.8 502.9 L1053.8 505.3 L1057.8 507.9 L1061.8 510.4 L1065.8 513.0 L1069.8 515.6 L1073.8 518.3 L1077.8 521.0 L1081.8 523.7 L1085.8 526.5 L1089.8 529.3 L1093.8 532.1 L1097.8 534.9 L1101.8 537.8 L1105.8 540.7 L1109.8 543.6 L1113.8 546.5 L1117.8 549.5 L1121.8 552.5 L1125.8 555.5 L1129.8 558.5 L1133.8 561.5 L1137.8 564.5 L1141.8 567.4 L1145.8 570.3 L1149.8 573.2 L1153.8 576.0 L1157.8 578.8 L1161.8 581.5 L1165.8 584.1 L1169.8 586.6 L1173.8 589.0 L1177.8 591.3 L1181.8 593.6 L1185.8 595.7 L1189.8 597.8 L1193.8 599.9 L1197.8 601.8 L1201.8 603.7 L1205.8 605.6 L1209.8 607.3 L1213.8 609.0 L1217.8 610.7 L1221.8 612.3 L1225.8 613.9 L1229.8 615.4 L1233.8 616.9 L1237.8 618.3 L1241.8 619.7 L1245.8 621.1 L1249.8 622.5 L1253.8 623.9 L1257.8 625.2 L1261.8 626.6 L1265.8 627.9 L1269.8 629.3 L1273.8 630.6 L1277.8 632.0 L1281.8 633.4 L1285.8 634.8 L1289.8 636.2 L1293.8 637.7 L1297.8 639.1 L1301.8 640.6 L1305.8 642.2 L1309.8 643.7 L1313.8 645.3 L1317.8 646.9 L1321.8 648.5 L1325.8 650.1 L1329.8 651.8 L1333.8 653.5 L1337.8 655.2 L1341.8 656.9 L1345.8 658.6 L1349.8 660.3 L1353.8 662.1 L1357.8 663.8 L1361.8 665.6 L1365.8 667.4 L1369.8 669.2 L1373.8 671.0 L1377.8 672.8 L1381.8 674.7 L1385.8 676.5 L1389.8 678.4 L1393.8 680.2 L1397.8 682.1 L1401.8 683.9 L1405.8 685.8 L1409.8 687.7 L1413.8 689.5 L1417.8 691.4 L1421.8 693.3 L1425.8 695.2 L1429.8 697.0 L1433.8 698.9 L1437.8 700.8 L1441.8 702.6 L1445.8 704.5 L1449.8 706.3 L1453.8 708.2 L1457.8 710.0 L1461.8 711.9 L1465.8 713.7 L1469.8 715.5 L1473.8 717.3 L1477.8 719.1 L1481.8 720.9 L1485.8 722.7 L1489.8 724.4 L1493.8 726.1 L1497.8 727.8 L1501.8 729.5 L1505.8 731.2 L1509.8 732.8 L1513.8 734.4 L1517.8 736.0 L1521.8 737.6 L1525.8 739.1 L1529.8 740.6 L1533.8 742.1 L1537.8 743.5 L1541.8 744.9 L1545.8 746.3 L1549.8 747.6 L1553.8 748.9 L1557.8 750.1 L1561.8 751.3 L1565.8 752.5 L1569.8 753.6 L1573.8 754.7 L1577.8 755.7 L1581.8 756.6 L1585.8 757.6 L1589.8 758.4 L1593.8 759.2 L1597.8 760.0 L1601.8 760.7 L1605.8 761.3 L1609.8 761.9 L1613.8 762.4 L1617.8 762.9 L1621.8 763.3 L1625.8 763.6 L1629.8 763.9 L1633.8 764.1 L1637.8 764.2 L1641.8 764.4 L1645.8 764.5 L1649.8 764.6 L1653.8 764.8 L1657.8 764.9 L1661.8 765.0 L1665.8 765.1" stroke="#37ad6b" stroke-width="10.5" stroke-dasharray="24.4 22.1" stroke-dashoffset="2.7"/>
<path d="M357.8 1008.0 L361.8 1006.9 L365.8 1005.6 L369.8 1004.2 L373.8 1002.7 L377.8 1001.0 L381.8 999.1 L385.8 997.1 L389.8 994.9 L393.8 992.6 L397.8 990.1 L401.8 987.6 L405.8 984.8 L409.8 982.0 L413.8 979.0 L417.8 976.0 L421.8 972.8 L425.8 969.4 L429.8 966.0 L433.8 962.5 L437.8 958.9 L441.8 955.1 L445.8 951.3 L449.8 947.4 L453.8 943.4 L457.8 939.3 L461.8 935.2 L465.8 930.9 L469.8 926.6 L473.8 922.2 L477.8 917.8 L481.8 913.3 L485.8 908.7 L489.8 904.1 L493.8 899.4 L497.8 894.7 L501.8 889.9 L505.8 885.1 L509.8 880.2 L513.8 875.4 L517.8 870.5 L521.8 865.5 L525.8 860.6 L529.8 855.6 L533.8 850.6 L537.8 845.6 L541.8 840.6 L545.8 835.6 L549.8 830.5 L553.8 825.4 L557.8 820.3 L561.8 815.2 L565.8 809.9 L569.8 804.7 L573.8 799.4 L577.8 794.0 L581.8 788.5 L585.8 783.0 L589.8 777.3 L593.8 771.6 L597.8 765.8 L601.8 759.9 L605.8 753.9 L609.8 747.8 L613.8 741.7 L617.8 735.6 L621.8 729.4 L625.8 723.2 L629.8 717.0 L633.8 710.7 L637.8 704.6 L641.8 698.4 L645.8 692.3 L649.8 686.2 L653.8 680.2 L657.8 674.2 L661.8 668.3 L665.8 662.4 L669.8 656.6 L673.8 650.9 L677.8 645.2 L681.8 639.5 L685.8 634.0 L689.8 628.5 L693.8 623.0 L697.8 617.6 L701.8 612.3 L705.8 607.0 L709.8 601.8 L713.8 596.7 L717.8 591.6 L721.8 586.6 L725.8 581.7 L729.8 576.8 L733.8 572.0 L737.8 567.3 L741.8 562.6 L745.8 558.1 L749.8 553.6 L753.8 549.1 L757.8 544.8 L761.8 540.5 L765.8 536.3 L769.8 532.2 L773.8 528.2 L777.8 524.3 L781.8 520.4 L785.8 516.7 L789.8 513.0 L793.8 509.5 L797.8 506.0 L801.8 502.6 L805.8 499.4 L809.8 496.3 L813.8 493.2 L817.8 490.3 L821.8 487.5 L825.8 484.8 L829.8 482.3 L833.8 479.9 L837.8 477.5 L841.8 475.3 L845.8 473.3 L849.8 471.3 L853.8 469.5 L857.8 467.7 L861.8 466.1 L865.8 464.7 L869.8 463.3 L873.8 462.0 L877.8 460.9 L881.8 459.9 L885.8 458.9 L889.8 458.1 L893.8 457.5 L897.8 456.9 L901.8 456.4 L905.8 456.1 L909.8 455.8 L913.8 455.7 L917.8 455.7 L921.8 455.7 L925.8 455.9 L929.8 456.2 L933.8 456.6 L937.8 457.1 L941.8 457.7 L945.8 458.4 L949.8 459.2 L953.8 460.0 L957.8 461.0 L961.8 462.0 L965.8 463.2 L969.8 464.4 L973.8 465.7 L977.8 467.0 L981.8 468.5 L985.8 470.0 L989.8 471.6 L993.8 473.3 L997.8 475.0 L1001.8 476.8 L1005.8 478.7 L1009.8 480.6 L1013.8 482.6 L1017.8 484.6 L1021.8 486.7 L1025.8 488.9 L1029.8 491.1 L1033.8 493.4 L1037.8 495.7 L1041.8 498.0 L1045.8 500.4 L1049.8 502.9 L1053.8 505.3 L1057.8 507.9 L1061.8 510.4 L1065.8 513.0 L1069.8 515.6 L1073.8 518.3 L1077.8 521.0 L1081.8 523.7 L1085.8 526.5 L1089.8 529.3 L1093.8 532.1 L1097.8 534.9 L1101.8 537.8 L1105.8 540.7 L1109.8 543.6 L1113.8 546.5 L1117.8 549.5 L1121.8 552.5 L1125.8 555.5 L1129.8 558.5 L1133.8 561.5 L1137.8 564.5 L1141.8 567.4 L1145.8 570.3 L1149.8 573.2 L1153.8 576.0 L1157.8 578.8 L1161.8 581.5 L1165.8 584.1 L1169.8 586.6 L1173.8 589.0 L1177.8 591.3 L1181.8 593.6 L1185.8 595.7 L1189.8 597.8 L1193.8 599.9 L1197.8 601.8 L1201.8 603.7 L1205.8 605.6 L1209.8 607.3 L1213.8 609.0 L1217.8 610.7 L1221.8 612.3 L1225.8 613.9 L1229.8 615.4 L1233.8 616.9 L1237.8 618.3 L1241.8 619.7 L1245.8 621.1 L1249.8 622.5 L1253.8 623.9 L1257.8 625.2 L1261.8 626.6 L1265.8 627.9 L1269.8 629.3 L1273.8 630.6 L1277.8 632.0 L1281.8 633.4 L1285.8 634.8 L1289.8 636.2 L1293.8 637.7 L1297.8 639.1 L1301.8 640.6 L1305.8 642.2 L1309.8 643.7 L1313.8 645.3 L1317.8 646.9 L1321.8 648.5 L1325.8 650.1 L1329.8 651.8 L1333.8 653.5 L1337.8 655.2 L1341.8 656.9 L1345.8 658.6 L1349.8 660.3 L1353.8 662.1 L1357.8 663.8 L1361.8 665.6 L1365.8 667.4 L1369.8 669.2 L1373.8 671.0 L1377.8 672.8 L1381.8 674.7 L1385.8 676.5 L1389.8 678.4 L1393.8 680.2 L1397.8 682.1 L1401.8 683.9 L1405.8 685.8 L1409.8 687.7 L1413.8 689.5 L1417.8 691.4 L1421.8 693.3 L1425.8 695.2 L1429.8 697.0 L1433.8 698.9 L1437.8 700.8 L1441.8 702.6 L1445.8 704.5 L1449.8 706.3 L1453.8 708.2 L1457.8 710.0 L1461.8 711.9 L1465.8 713.7 L1469.8 715.5 L1473.8 717.3 L1477.8 719.1 L1481.8 720.9 L1485.8 722.7 L1489.8 724.4 L1493.8 726.1 L1497.8 727.8 L1501.8 729.5 L1505.8 731.2 L1509.8 732.8 L1513.8 734.4 L1517.8 736.0 L1521.8 737.6 L1525.8 739.1 L1529.8 740.6 L1533.8 742.1 L1537.8 743.5 L1541.8 744.9 L1545.8 746.3 L1549.8 747.6 L1553.8 748.9 L1557.8 750.1 L1561.8 751.3 L1565.8 752.5 L1569.8 753.6 L1573.8 754.7 L1577.8 755.7 L1581.8 756.6 L1585.8 757.6 L1589.8 758.4 L1593.8 759.2 L1597.8 760.0 L1601.8 760.7 L1605.8 761.3 L1609.8 761.9 L1613.8 762.4 L1617.8 762.9 L1621.8 763.3 L1625.8 763.6 L1629.8 763.9 L1633.8 764.1 L1637.8 764.2 L1641.8 764.4 L1645.8 764.5 L1649.8 764.6 L1653.8 764.8 L1657.8 764.9 L1661.8 765.0 L1665.8 765.1" stroke="#37ad6b" stroke-width="6.5" stroke-linecap="round" stroke-dasharray="22 24.5" stroke-dashoffset="1.5"/>
<path d="M357.8 1005.5 L361.8 1004.3 L365.8 1002.9 L369.8 1001.4 L373.8 999.8 L377.8 998.0 L381.8 996.1 L385.8 994.0 L389.8 991.8 L393.8 989.5 L397.8 987.0 L401.8 984.4 L405.8 981.7 L409.8 978.9 L413.8 975.9 L417.8 972.9 L421.8 969.7 L425.8 966.4 L429.8 963.0 L433.8 959.5 L437.8 955.9 L441.8 952.2 L445.8 948.4 L449.8 944.5 L453.8 940.5 L457.8 936.4 L461.8 932.3 L465.8 928.0 L469.8 923.7 L473.8 919.3 L477.8 914.8 L481.8 910.3 L485.8 905.7 L489.8 901.0 L493.8 896.3 L497.8 891.5 L501.8 886.6 L505.8 881.7 L509.8 876.7 L513.8 871.7 L517.8 866.7 L521.8 861.6 L525.8 856.4 L529.8 851.2 L533.8 846.0 L537.8 840.8 L541.8 835.5 L545.8 830.2 L549.8 824.8 L553.8 819.4 L557.8 813.9 L561.8 808.4 L565.8 802.9 L569.8 797.3 L573.8 791.6 L577.8 785.8 L581.8 780.0 L585.8 774.1 L589.8 768.1 L593.8 762.1 L597.8 755.9 L601.8 749.7 L605.8 743.4 L609.8 737.1 L613.8 730.7 L617.8 724.2 L621.8 717.7 L625.8 711.2 L629.8 704.6 L633.8 698.1 L637.8 691.5 L641.8 684.9 L645.8 678.3 L649.8 671.7 L653.8 665.1 L657.8 658.5 L661.8 651.9 L665.8 645.4 L669.8 638.8 L673.8 632.3 L677.8 625.8 L681.8 619.4 L685.8 613.0 L689.8 606.6 L693.8 600.3 L697.8 594.0 L701.8 587.8 L705.8 581.7 L709.8 575.6 L713.8 569.6 L717.8 563.6 L721.8 557.8 L725.8 552.0 L729.8 546.2 L733.8 540.6 L737.8 535.1 L741.8 529.7 L745.8 524.3 L749.8 519.1 L753.8 514.0 L757.8 509.0 L761.8 504.1 L765.8 499.3 L769.8 494.7 L773.8 490.2 L777.8 485.8 L781.8 481.5 L785.8 477.4 L789.8 473.4 L793.8 469.6 L797.8 465.9 L801.8 462.3 L805.8 458.9 L809.8 455.7 L813.8 452.6 L817.8 449.6 L821.8 446.8 L825.8 444.1 L829.8 441.7 L833.8 439.3 L837.8 437.2 L841.8 435.2 L845.8 433.3 L849.8 431.6 L853.8 430.1 L857.8 428.8 L861.8 427.6 L865.8 426.5 L869.8 425.6 L873.8 424.9 L877.8 424.2 L881.8 423.8 L885.8 423.4 L889.8 423.3 L893.8 423.2 L897.8 423.3 L901.8 423.5 L905.8 423.8 L909.8 424.3 L913.8 424.9 L917.8 425.6 L921.8 426.4 L925.8 427.3 L929.8 428.4 L933.8 429.5 L937.8 430.8 L941.8 432.2 L945.8 433.6 L949.8 435.2 L953.8 436.8 L957.8 438.5 L961.8 440.4 L965.8 442.2 L969.8 444.2 L973.8 446.2 L977.8 448.3 L981.8 450.4 L985.8 452.6 L989.8 454.8 L993.8 457.1 L997.8 459.4 L1001.8 461.7 L1005.8 464.1 L1009.8 466.5 L1013.8 468.9 L1017.8 471.3 L1021.8 473.8 L1025.8 476.2 L1029.8 478.6 L1033.8 481.1 L1037.8 483.5 L1041.8 485.9 L1045.8 488.3 L1049.8 490.7 L1053.8 493.0 L1057.8 495.4 L1061.8 497.7 L1065.8 499.9 L1069.8 502.2 L1073.8 504.4 L1077.8 506.6 L1081.8 508.8 L1085.8 510.9 L1089.8 513.0 L1093.8 515.2 L1097.8 517.3 L1101.8 519.3 L1105.8 521.4 L1109.8 523.5 L1113.8 525.5 L1117.8 527.6 L1121.8 529.6 L1125.8 531.6 L1129.8 533.6 L1133.8 535.6 L1137.8 537.6 L1141.8 539.6 L1145.8 541.6 L1149.8 543.5 L1153.8 545.5 L1157.8 547.5 L1161.8 549.5 L1165.8 551.4 L1169.8 553.4 L1173.8 555.4 L1177.8 557.3 L1181.8 559.3 L1185.8 561.2 L1189.8 563.2 L1193.8 565.2 L1197.8 567.1 L1201.8 569.1 L1205.8 571.0 L1209.8 573.0 L1213.8 575.0 L1217.8 576.9 L1221.8 578.9 L1225.8 580.9 L1229.8 582.8 L1233.8 584.8 L1237.8 586.8 L1241.8 588.8 L1245.8 590.8 L1249.8 592.8 L1253.8 594.8 L1257.8 596.8 L1261.8 598.8 L1265.8 600.8 L1269.8 602.9 L1273.8 604.9 L1277.8 607.0 L1281.8 609.0 L1285.8 611.1 L1289.8 613.2 L1293.8 615.2 L1297.8 617.3 L1301.8 619.4 L1305.8 621.5 L1309.8 623.7 L1313.8 625.8 L1317.8 627.9 L1321.8 630.1 L1325.8 632.2 L1329.8 634.4 L1333.8 636.5 L1337.8 638.7 L1341.8 640.8 L1345.8 643.0 L1349.8 645.1 L1353.8 647.3 L1357.8 649.4 L1361.8 651.5 L1365.8 653.7 L1369.8 655.8 L1373.8 657.9 L1377.8 660.0 L1381.8 662.1 L1385.8 664.2 L1389.8 666.3 L1393.8 668.3 L1397.8 670.4 L1401.8 672.4 L1405.8 674.4 L1409.8 676.4 L1413.8 678.4 L1417.8 680.3 L1421.8 682.3 L1425.8 684.2 L1429.8 686.0 L1433.8 687.9 L1437.8 689.7 L1441.8 691.5 L1445.8 693.3 L1449.8 695.1 L1453.8 696.8 L1457.8 698.5 L1461.8 700.1 L1465.8 701.8 L1469.8 703.4 L1473.8 704.9 L1477.8 706.4 L1481.8 707.9 L1485.8 709.4 L1489.8 710.8 L1493.8 712.2 L1497.8 713.6 L1501.8 714.9 L1505.8 716.2 L1509.8 717.5 L1513.8 718.8 L1517.8 720.0 L1521.8 721.2 L1525.8 722.4 L1529.8 723.5 L1533.8 724.7 L1537.8 725.8 L1541.8 726.9 L1545.8 727.9 L1549.8 729.0 L1553.8 730.0 L1557.8 731.0 L1561.8 732.0 L1565.8 733.0 L1569.8 733.9 L1573.8 734.8 L1577.8 735.8 L1581.8 736.7 L1585.8 737.5 L1589.8 738.4 L1593.8 739.3 L1597.8 740.1 L1601.8 741.0 L1605.8 741.8 L1609.8 742.6 L1613.8 743.4 L1617.8 744.2 L1621.8 745.0 L1625.8 745.8 L1629.8 746.5 L1633.8 747.3 L1637.8 748.0 L1641.8 748.8 L1645.8 749.5 L1649.8 750.3 L1653.8 751.0 L1657.8 751.8 L1661.8 752.5 L1665.8 753.3" stroke="#b177de" stroke-width="10.5" stroke-dasharray="24.4 22.1" stroke-dashoffset="2.7"/>
<path d="M357.8 1005.5 L361.8 1004.3 L365.8 1002.9 L369.8 1001.4 L373.8 999.8 L377.8 998.0 L381.8 996.1 L385.8 994.0 L389.8 991.8 L393.8 989.5 L397.8 987.0 L401.8 984.4 L405.8 981.7 L409.8 978.9 L413.8 975.9 L417.8 972.9 L421.8 969.7 L425.8 966.4 L429.8 963.0 L433.8 959.5 L437.8 955.9 L441.8 952.2 L445.8 948.4 L449.8 944.5 L453.8 940.5 L457.8 936.4 L461.8 932.3 L465.8 928.0 L469.8 923.7 L473.8 919.3 L477.8 914.8 L481.8 910.3 L485.8 905.7 L489.8 901.0 L493.8 896.3 L497.8 891.5 L501.8 886.6 L505.8 881.7 L509.8 876.7 L513.8 871.7 L517.8 866.7 L521.8 861.6 L525.8 856.4 L529.8 851.2 L533.8 846.0 L537.8 840.8 L541.8 835.5 L545.8 830.2 L549.8 824.8 L553.8 819.4 L557.8 813.9 L561.8 808.4 L565.8 802.9 L569.8 797.3 L573.8 791.6 L577.8 785.8 L581.8 780.0 L585.8 774.1 L589.8 768.1 L593.8 762.1 L597.8 755.9 L601.8 749.7 L605.8 743.4 L609.8 737.1 L613.8 730.7 L617.8 724.2 L621.8 717.7 L625.8 711.2 L629.8 704.6 L633.8 698.1 L637.8 691.5 L641.8 684.9 L645.8 678.3 L649.8 671.7 L653.8 665.1 L657.8 658.5 L661.8 651.9 L665.8 645.4 L669.8 638.8 L673.8 632.3 L677.8 625.8 L681.8 619.4 L685.8 613.0 L689.8 606.6 L693.8 600.3 L697.8 594.0 L701.8 587.8 L705.8 581.7 L709.8 575.6 L713.8 569.6 L717.8 563.6 L721.8 557.8 L725.8 552.0 L729.8 546.2 L733.8 540.6 L737.8 535.1 L741.8 529.7 L745.8 524.3 L749.8 519.1 L753.8 514.0 L757.8 509.0 L761.8 504.1 L765.8 499.3 L769.8 494.7 L773.8 490.2 L777.8 485.8 L781.8 481.5 L785.8 477.4 L789.8 473.4 L793.8 469.6 L797.8 465.9 L801.8 462.3 L805.8 458.9 L809.8 455.7 L813.8 452.6 L817.8 449.6 L821.8 446.8 L825.8 444.1 L829.8 441.7 L833.8 439.3 L837.8 437.2 L841.8 435.2 L845.8 433.3 L849.8 431.6 L853.8 430.1 L857.8 428.8 L861.8 427.6 L865.8 426.5 L869.8 425.6 L873.8 424.9 L877.8 424.2 L881.8 423.8 L885.8 423.4 L889.8 423.3 L893.8 423.2 L897.8 423.3 L901.8 423.5 L905.8 423.8 L909.8 424.3 L913.8 424.9 L917.8 425.6 L921.8 426.4 L925.8 427.3 L929.8 428.4 L933.8 429.5 L937.8 430.8 L941.8 432.2 L945.8 433.6 L949.8 435.2 L953.8 436.8 L957.8 438.5 L961.8 440.4 L965.8 442.2 L969.8 444.2 L973.8 446.2 L977.8 448.3 L981.8 450.4 L985.8 452.6 L989.8 454.8 L993.8 457.1 L997.8 459.4 L1001.8 461.7 L1005.8 464.1 L1009.8 466.5 L1013.8 468.9 L1017.8 471.3 L1021.8 473.8 L1025.8 476.2 L1029.8 478.6 L1033.8 481.1 L1037.8 483.5 L1041.8 485.9 L1045.8 488.3 L1049.8 490.7 L1053.8 493.0 L1057.8 495.4 L1061.8 497.7 L1065.8 499.9 L1069.8 502.2 L1073.8 504.4 L1077.8 506.6 L1081.8 508.8 L1085.8 510.9 L1089.8 513.0 L1093.8 515.2 L1097.8 517.3 L1101.8 519.3 L1105.8 521.4 L1109.8 523.5 L1113.8 525.5 L1117.8 527.6 L1121.8 529.6 L1125.8 531.6 L1129.8 533.6 L1133.8 535.6 L1137.8 537.6 L1141.8 539.6 L1145.8 541.6 L1149.8 543.5 L1153.8 545.5 L1157.8 547.5 L1161.8 549.5 L1165.8 551.4 L1169.8 553.4 L1173.8 555.4 L1177.8 557.3 L1181.8 559.3 L1185.8 561.2 L1189.8 563.2 L1193.8 565.2 L1197.8 567.1 L1201.8 569.1 L1205.8 571.0 L1209.8 573.0 L1213.8 575.0 L1217.8 576.9 L1221.8 578.9 L1225.8 580.9 L1229.8 582.8 L1233.8 584.8 L1237.8 586.8 L1241.8 588.8 L1245.8 590.8 L1249.8 592.8 L1253.8 594.8 L1257.8 596.8 L1261.8 598.8 L1265.8 600.8 L1269.8 602.9 L1273.8 604.9 L1277.8 607.0 L1281.8 609.0 L1285.8 611.1 L1289.8 613.2 L1293.8 615.2 L1297.8 617.3 L1301.8 619.4 L1305.8 621.5 L1309.8 623.7 L1313.8 625.8 L1317.8 627.9 L1321.8 630.1 L1325.8 632.2 L1329.8 634.4 L1333.8 636.5 L1337.8 638.7 L1341.8 640.8 L1345.8 643.0 L1349.8 645.1 L1353.8 647.3 L1357.8 649.4 L1361.8 651.5 L1365.8 653.7 L1369.8 655.8 L1373.8 657.9 L1377.8 660.0 L1381.8 662.1 L1385.8 664.2 L1389.8 666.3 L1393.8 668.3 L1397.8 670.4 L1401.8 672.4 L1405.8 674.4 L1409.8 676.4 L1413.8 678.4 L1417.8 680.3 L1421.8 682.3 L1425.8 684.2 L1429.8 686.0 L1433.8 687.9 L1437.8 689.7 L1441.8 691.5 L1445.8 693.3 L1449.8 695.1 L1453.8 696.8 L1457.8 698.5 L1461.8 700.1 L1465.8 701.8 L1469.8 703.4 L1473.8 704.9 L1477.8 706.4 L1481.8 707.9 L1485.8 709.4 L1489.8 710.8 L1493.8 712.2 L1497.8 713.6 L1501.8 714.9 L1505.8 716.2 L1509.8 717.5 L1513.8 718.8 L1517.8 720.0 L1521.8 721.2 L1525.8 722.4 L1529.8 723.5 L1533.8 724.7 L1537.8 725.8 L1541.8 726.9 L1545.8 727.9 L1549.8 729.0 L1553.8 730.0 L1557.8 731.0 L1561.8 732.0 L1565.8 733.0 L1569.8 733.9 L1573.8 734.8 L1577.8 735.8 L1581.8 736.7 L1585.8 737.5 L1589.8 738.4 L1593.8 739.3 L1597.8 740.1 L1601.8 741.0 L1605.8 741.8 L1609.8 742.6 L1613.8 743.4 L1617.8 744.2 L1621.8 745.0 L1625.8 745.8 L1629.8 746.5 L1633.8 747.3 L1637.8 748.0 L1641.8 748.8 L1645.8 749.5 L1649.8 750.3 L1653.8 751.0 L1657.8 751.8 L1661.8 752.5 L1665.8 753.3" stroke="#b177de" stroke-width="6.5" stroke-linecap="round" stroke-dasharray="22 24.5" stroke-dashoffset="1.5"/>
<path d="M357.8 1001.8 L361.8 999.9 L365.8 998.0 L369.8 996.0 L373.8 993.9 L377.8 991.6 L381.8 989.3 L385.8 986.8 L389.8 984.2 L393.8 981.5 L397.8 978.7 L401.8 975.8 L405.8 972.8 L409.8 969.7 L413.8 966.6 L417.8 963.3 L421.8 959.9 L425.8 956.5 L429.8 953.0 L433.8 949.3 L437.8 945.7 L441.8 941.9 L445.8 938.1 L449.8 934.2 L453.8 930.2 L457.8 926.2 L461.8 922.1 L465.8 917.9 L469.8 913.7 L473.8 909.5 L477.8 905.2 L481.8 900.8 L485.8 896.4 L489.8 892.0 L493.8 887.5 L497.8 882.8 L501.8 878.1 L505.8 873.3 L509.8 868.3 L513.8 863.2 L517.8 858.0 L521.8 852.5 L525.8 846.9 L529.8 841.0 L533.8 834.9 L537.8 828.6 L541.8 822.0 L545.8 815.1 L549.8 808.0 L553.8 800.6 L557.8 793.1 L561.8 785.3 L565.8 777.4 L569.8 769.4 L573.8 761.2 L577.8 752.9 L581.8 744.6 L585.8 736.2 L589.8 727.8 L593.8 719.5 L597.8 711.3 L601.8 703.2 L605.8 695.3 L609.8 687.5 L613.8 679.8 L617.8 672.3 L621.8 664.8 L625.8 657.5 L629.8 650.2 L633.8 643.0 L637.8 635.8 L641.8 628.7 L645.8 621.6 L649.8 614.5 L653.8 607.4 L657.8 600.4 L661.8 593.4 L665.8 586.4 L669.8 579.5 L673.8 572.6 L677.8 565.8 L681.8 559.0 L685.8 552.3 L689.8 545.6 L693.8 539.0 L697.8 532.5 L701.8 526.0 L705.8 519.6 L709.8 513.3 L713.8 507.1 L717.8 500.9 L721.8 494.8 L725.8 488.9 L729.8 483.0 L733.8 477.2 L737.8 471.5 L741.8 465.9 L745.8 460.5 L749.8 455.1 L753.8 449.9 L757.8 444.7 L761.8 439.7 L765.8 434.9 L769.8 430.1 L773.8 425.5 L777.8 421.0 L781.8 416.7 L785.8 412.5 L789.8 408.4 L793.8 404.4 L797.8 400.6 L801.8 396.9 L805.8 393.4 L809.8 389.9 L813.8 386.6 L817.8 383.5 L821.8 380.5 L825.8 377.6 L829.8 374.8 L833.8 372.2 L837.8 369.8 L841.8 367.4 L845.8 365.2 L849.8 363.1 L853.8 361.2 L857.8 359.4 L861.8 357.8 L865.8 356.3 L869.8 354.9 L873.8 353.6 L877.8 352.5 L881.8 351.6 L885.8 350.8 L889.8 350.1 L893.8 349.5 L897.8 349.2 L901.8 348.9 L905.8 348.8 L909.8 348.8 L913.8 349.0 L917.8 349.3 L921.8 349.7 L925.8 350.3 L929.8 351.1 L933.8 352.0 L937.8 353.0 L941.8 354.1 L945.8 355.3 L949.8 356.7 L953.8 358.1 L957.8 359.7 L961.8 361.3 L965.8 363.0 L969.8 364.8 L973.8 366.7 L977.8 368.6 L981.8 370.6 L985.8 372.7 L989.8 374.8 L993.8 377.0 L997.8 379.2 L1001.8 381.4 L1005.8 383.6 L1009.8 385.9 L1013.8 388.2 L1017.8 390.5 L1021.8 392.8 L1025.8 395.1 L1029.8 397.3 L1033.8 399.6 L1037.8 401.8 L1041.8 404.0 L1045.8 406.2 L1049.8 408.4 L1053.8 410.5 L1057.8 412.5 L1061.8 414.6 L1065.8 416.6 L1069.8 418.6 L1073.8 420.6 L1077.8 422.6 L1081.8 424.6 L1085.8 426.6 L1089.8 428.5 L1093.8 430.5 L1097.8 432.5 L1101.8 434.5 L1105.8 436.6 L1109.8 438.6 L1113.8 440.7 L1117.8 442.8 L1121.8 445.0 L1125.8 447.1 L1129.8 449.4 L1133.8 451.7 L1137.8 454.0 L1141.8 456.3 L1145.8 458.7 L1149.8 461.2 L1153.8 463.7 L1157.8 466.2 L1161.8 468.7 L1165.8 471.3 L1169.8 473.9 L1173.8 476.6 L1177.8 479.2 L1181.8 481.9 L1185.8 484.6 L1189.8 487.4 L1193.8 490.1 L1197.8 492.9 L1201.8 495.7 L1205.8 498.5 L1209.8 501.4 L1213.8 504.2 L1217.8 507.0 L1221.8 509.9 L1225.8 512.8 L1229.8 515.6 L1233.8 518.5 L1237.8 521.4 L1241.8 524.3 L1245.8 527.1 L1249.8 530.0 L1253.8 532.9 L1257.8 535.8 L1261.8 538.6 L1265.8 541.5 L1269.8 544.3 L1273.8 547.1 L1277.8 549.9 L1281.8 552.7 L1285.8 555.5 L1289.8 558.3 L1293.8 561.0 L1297.8 563.7 L1301.8 566.4 L1305.8 569.1 L1309.8 571.8 L1313.8 574.5 L1317.8 577.1 L1321.8 579.7 L1325.8 582.3 L1329.8 584.9 L1333.8 587.5 L1337.8 590.0 L1341.8 592.6 L1345.8 595.1 L1349.8 597.6 L1353.8 600.1 L1357.8 602.6 L1361.8 605.0 L1365.8 607.5 L1369.8 609.9 L1373.8 612.3 L1377.8 614.7 L1381.8 617.1 L1385.8 619.5 L1389.8 621.9 L1393.8 624.2 L1397.8 626.6 L1401.8 628.9 L1405.8 631.2 L1409.8 633.5 L1413.8 635.8 L1417.8 638.1 L1421.8 640.4 L1425.8 642.7 L1429.8 644.9 L1433.8 647.1 L1437.8 649.4 L1441.8 651.6 L1445.8 653.8 L1449.8 656.0 L1453.8 658.2 L1457.8 660.4 L1461.8 662.5 L1465.8 664.7 L1469.8 666.9 L1473.8 669.0 L1477.8 671.1 L1481.8 673.3 L1485.8 675.4 L1489.8 677.5 L1493.8 679.6 L1497.8 681.7 L1501.8 683.8 L1505.8 685.8 L1509.8 687.9 L1513.8 689.9 L1517.8 691.9 L1521.8 693.9 L1525.8 695.9 L1529.8 697.9 L1533.8 699.8 L1537.8 701.7 L1541.8 703.6 L1545.8 705.4 L1549.8 707.2 L1553.8 709.0 L1557.8 710.8 L1561.8 712.5 L1565.8 714.2 L1569.8 715.8 L1573.8 717.4 L1577.8 719.0 L1581.8 720.5 L1585.8 722.0 L1589.8 723.4 L1593.8 724.8 L1597.8 726.2 L1601.8 727.5 L1605.8 728.7 L1609.8 729.9 L1613.8 731.1 L1617.8 732.1 L1621.8 733.2 L1625.8 734.2 L1629.8 735.1 L1633.8 735.9 L1637.8 736.7 L1641.8 737.4 L1645.8 738.1 L1649.8 738.7 L1653.8 739.2 L1657.8 739.7 L1661.8 740.3 L1665.8 740.8" stroke="#cc9900" stroke-width="10.5" stroke-dasharray="24.4 22.1" stroke-dashoffset="2.7"/>
<path d="M357.8 1001.8 L361.8 999.9 L365.8 998.0 L369.8 996.0 L373.8 993.9 L377.8 991.6 L381.8 989.3 L385.8 986.8 L389.8 984.2 L393.8 981.5 L397.8 978.7 L401.8 975.8 L405.8 972.8 L409.8 969.7 L413.8 966.6 L417.8 963.3 L421.8 959.9 L425.8 956.5 L429.8 953.0 L433.8 949.3 L437.8 945.7 L441.8 941.9 L445.8 938.1 L449.8 934.2 L453.8 930.2 L457.8 926.2 L461.8 922.1 L465.8 917.9 L469.8 913.7 L473.8 909.5 L477.8 905.2 L481.8 900.8 L485.8 896.4 L489.8 892.0 L493.8 887.5 L497.8 882.8 L501.8 878.1 L505.8 873.3 L509.8 868.3 L513.8 863.2 L517.8 858.0 L521.8 852.5 L525.8 846.9 L529.8 841.0 L533.8 834.9 L537.8 828.6 L541.8 822.0 L545.8 815.1 L549.8 808.0 L553.8 800.6 L557.8 793.1 L561.8 785.3 L565.8 777.4 L569.8 769.4 L573.8 761.2 L577.8 752.9 L581.8 744.6 L585.8 736.2 L589.8 727.8 L593.8 719.5 L597.8 711.3 L601.8 703.2 L605.8 695.3 L609.8 687.5 L613.8 679.8 L617.8 672.3 L621.8 664.8 L625.8 657.5 L629.8 650.2 L633.8 643.0 L637.8 635.8 L641.8 628.7 L645.8 621.6 L649.8 614.5 L653.8 607.4 L657.8 600.4 L661.8 593.4 L665.8 586.4 L669.8 579.5 L673.8 572.6 L677.8 565.8 L681.8 559.0 L685.8 552.3 L689.8 545.6 L693.8 539.0 L697.8 532.5 L701.8 526.0 L705.8 519.6 L709.8 513.3 L713.8 507.1 L717.8 500.9 L721.8 494.8 L725.8 488.9 L729.8 483.0 L733.8 477.2 L737.8 471.5 L741.8 465.9 L745.8 460.5 L749.8 455.1 L753.8 449.9 L757.8 444.7 L761.8 439.7 L765.8 434.9 L769.8 430.1 L773.8 425.5 L777.8 421.0 L781.8 416.7 L785.8 412.5 L789.8 408.4 L793.8 404.4 L797.8 400.6 L801.8 396.9 L805.8 393.4 L809.8 389.9 L813.8 386.6 L817.8 383.5 L821.8 380.5 L825.8 377.6 L829.8 374.8 L833.8 372.2 L837.8 369.8 L841.8 367.4 L845.8 365.2 L849.8 363.1 L853.8 361.2 L857.8 359.4 L861.8 357.8 L865.8 356.3 L869.8 354.9 L873.8 353.6 L877.8 352.5 L881.8 351.6 L885.8 350.8 L889.8 350.1 L893.8 349.5 L897.8 349.2 L901.8 348.9 L905.8 348.8 L909.8 348.8 L913.8 349.0 L917.8 349.3 L921.8 349.7 L925.8 350.3 L929.8 351.1 L933.8 352.0 L937.8 353.0 L941.8 354.1 L945.8 355.3 L949.8 356.7 L953.8 358.1 L957.8 359.7 L961.8 361.3 L965.8 363.0 L969.8 364.8 L973.8 366.7 L977.8 368.6 L981.8 370.6 L985.8 372.7 L989.8 374.8 L993.8 377.0 L997.8 379.2 L1001.8 381.4 L1005.8 383.6 L1009.8 385.9 L1013.8 388.2 L1017.8 390.5 L1021.8 392.8 L1025.8 395.1 L1029.8 397.3 L1033.8 399.6 L1037.8 401.8 L1041.8 404.0 L1045.8 406.2 L1049.8 408.4 L1053.8 410.5 L1057.8 412.5 L1061.8 414.6 L1065.8 416.6 L1069.8 418.6 L1073.8 420.6 L1077.8 422.6 L1081.8 424.6 L1085.8 426.6 L1089.8 428.5 L1093.8 430.5 L1097.8 432.5 L1101.8 434.5 L1105.8 436.6 L1109.8 438.6 L1113.8 440.7 L1117.8 442.8 L1121.8 445.0 L1125.8 447.1 L1129.8 449.4 L1133.8 451.7 L1137.8 454.0 L1141.8 456.3 L1145.8 458.7 L1149.8 461.2 L1153.8 463.7 L1157.8 466.2 L1161.8 468.7 L1165.8 471.3 L1169.8 473.9 L1173.8 476.6 L1177.8 479.2 L1181.8 481.9 L1185.8 484.6 L1189.8 487.4 L1193.8 490.1 L1197.8 492.9 L1201.8 495.7 L1205.8 498.5 L1209.8 501.4 L1213.8 504.2 L1217.8 507.0 L1221.8 509.9 L1225.8 512.8 L1229.8 515.6 L1233.8 518.5 L1237.8 521.4 L1241.8 524.3 L1245.8 527.1 L1249.8 530.0 L1253.8 532.9 L1257.8 535.8 L1261.8 538.6 L1265.8 541.5 L1269.8 544.3 L1273.8 547.1 L1277.8 549.9 L1281.8 552.7 L1285.8 555.5 L1289.8 558.3 L1293.8 561.0 L1297.8 563.7 L1301.8 566.4 L1305.8 569.1 L1309.8 571.8 L1313.8 574.5 L1317.8 577.1 L1321.8 579.7 L1325.8 582.3 L1329.8 584.9 L1333.8 587.5 L1337.8 590.0 L1341.8 592.6 L1345.8 595.1 L1349.8 597.6 L1353.8 600.1 L1357.8 602.6 L1361.8 605.0 L1365.8 607.5 L1369.8 609.9 L1373.8 612.3 L1377.8 614.7 L1381.8 617.1 L1385.8 619.5 L1389.8 621.9 L1393.8 624.2 L1397.8 626.6 L1401.8 628.9 L1405.8 631.2 L1409.8 633.5 L1413.8 635.8 L1417.8 638.1 L1421.8 640.4 L1425.8 642.7 L1429.8 644.9 L1433.8 647.1 L1437.8 649.4 L1441.8 651.6 L1445.8 653.8 L1449.8 656.0 L1453.8 658.2 L1457.8 660.4 L1461.8 662.5 L1465.8 664.7 L1469.8 666.9 L1473.8 669.0 L1477.8 671.1 L1481.8 673.3 L1485.8 675.4 L1489.8 677.5 L1493.8 679.6 L1497.8 681.7 L1501.8 683.8 L1505.8 685.8 L1509.8 687.9 L1513.8 689.9 L1517.8 691.9 L1521.8 693.9 L1525.8 695.9 L1529.8 697.9 L1533.8 699.8 L1537.8 701.7 L1541.8 703.6 L1545.8 705.4 L1549.8 707.2 L1553.8 709.0 L1557.8 710.8 L1561.8 712.5 L1565.8 714.2 L1569.8 715.8 L1573.8 717.4 L1577.8 719.0 L1581.8 720.5 L1585.8 722.0 L1589.8 723.4 L1593.8 724.8 L1597.8 726.2 L1601.8 727.5 L1605.8 728.7 L1609.8 729.9 L1613.8 731.1 L1617.8 732.1 L1621.8 733.2 L1625.8 734.2 L1629.8 735.1 L1633.8 735.9 L1637.8 736.7 L1641.8 737.4 L1645.8 738.1 L1649.8 738.7 L1653.8 739.2 L1657.8 739.7 L1661.8 740.3 L1665.8 740.8" stroke="#cc9900" stroke-width="6.5" stroke-linecap="round" stroke-dasharray="22 24.5" stroke-dashoffset="1.5"/>
<path d="M357.8 1001.2 L361.8 998.3 L365.8 995.5 L369.8 992.7 L373.8 989.9 L377.8 987.0 L381.8 984.2 L385.8 981.3 L389.8 978.4 L393.8 975.5 L397.8 972.5 L401.8 969.5 L405.8 966.4 L409.8 963.3 L413.8 960.2 L417.8 956.9 L421.8 953.7 L425.8 950.3 L429.8 946.9 L433.8 943.4 L437.8 939.8 L441.8 936.1 L445.8 932.3 L449.8 928.4 L453.8 924.5 L457.8 920.4 L461.8 916.2 L465.8 911.9 L469.8 907.5 L473.8 902.9 L477.8 898.2 L481.8 893.4 L485.8 888.4 L489.8 883.3 L493.8 878.1 L497.8 872.7 L501.8 867.1 L505.8 861.3 L509.8 855.4 L513.8 849.4 L517.8 843.1 L521.8 836.7 L525.8 830.0 L529.8 823.2 L533.8 816.2 L537.8 809.0 L541.8 801.6 L545.8 793.9 L549.8 786.0 L553.8 777.8 L557.8 769.4 L561.8 760.7 L565.8 751.7 L569.8 742.5 L573.8 732.9 L577.8 723.1 L581.8 713.3 L585.8 703.6 L589.8 694.3 L593.8 685.3 L597.8 676.6 L601.8 668.2 L605.8 659.9 L609.8 651.9 L613.8 643.9 L617.8 636.0 L621.8 628.1 L625.8 620.1 L629.8 612.1 L633.8 604.0 L637.8 595.7 L641.8 587.5 L645.8 579.1 L649.8 570.7 L653.8 562.3 L657.8 553.9 L661.8 545.5 L665.8 537.2 L669.8 528.9 L673.8 520.6 L677.8 512.4 L681.8 504.4 L685.8 496.4 L689.8 488.6 L693.8 480.9 L697.8 473.3 L701.8 465.9 L705.8 458.5 L709.8 451.3 L713.8 444.2 L717.8 437.2 L721.8 430.3 L725.8 423.5 L729.8 416.8 L733.8 410.1 L737.8 403.6 L741.8 397.1 L745.8 390.7 L749.8 384.4 L753.8 378.2 L757.8 372.1 L761.8 366.1 L765.8 360.2 L769.8 354.5 L773.8 349.0 L777.8 343.5 L781.8 338.3 L785.8 333.2 L789.8 328.2 L793.8 323.5 L797.8 318.9 L801.8 314.6 L805.8 310.4 L809.8 306.5 L813.8 302.8 L817.8 299.3 L821.8 296.0 L825.8 293.0 L829.8 290.1 L833.8 287.6 L837.8 285.2 L841.8 283.0 L845.8 281.0 L849.8 279.3 L853.8 277.7 L857.8 276.3 L861.8 275.1 L865.8 274.1 L869.8 273.2 L873.8 272.5 L877.8 272.0 L881.8 271.6 L885.8 271.4 L889.8 271.3 L893.8 271.4 L897.8 271.6 L901.8 271.9 L905.8 272.3 L909.8 272.9 L913.8 273.6 L917.8 274.3 L921.8 275.2 L925.8 276.2 L929.8 277.3 L933.8 278.5 L937.8 279.8 L941.8 281.2 L945.8 282.6 L949.8 284.2 L953.8 285.9 L957.8 287.6 L961.8 289.4 L965.8 291.3 L969.8 293.3 L973.8 295.3 L977.8 297.4 L981.8 299.6 L985.8 301.9 L989.8 304.2 L993.8 306.6 L997.8 309.0 L1001.8 311.5 L1005.8 314.0 L1009.8 316.6 L1013.8 319.2 L1017.8 321.9 L1021.8 324.6 L1025.8 327.4 L1029.8 330.2 L1033.8 333.0 L1037.8 335.8 L1041.8 338.7 L1045.8 341.6 L1049.8 344.6 L1053.8 347.5 L1057.8 350.5 L1061.8 353.5 L1065.8 356.5 L1069.8 359.5 L1073.8 362.5 L1077.8 365.5 L1081.8 368.6 L1085.8 371.6 L1089.8 374.6 L1093.8 377.6 L1097.8 380.6 L1101.8 383.6 L1105.8 386.6 L1109.8 389.6 L1113.8 392.5 L1117.8 395.4 L1121.8 398.3 L1125.8 401.2 L1129.8 404.1 L1133.8 406.9 L1137.8 409.8 L1141.8 412.6 L1145.8 415.4 L1149.8 418.2 L1153.8 421.0 L1157.8 423.7 L1161.8 426.5 L1165.8 429.2 L1169.8 431.9 L1173.8 434.7 L1177.8 437.4 L1181.8 440.1 L1185.8 442.7 L1189.8 445.4 L1193.8 448.1 L1197.8 450.7 L1201.8 453.4 L1205.8 456.0 L1209.8 458.6 L1213.8 461.3 L1217.8 463.9 L1221.8 466.5 L1225.8 469.1 L1229.8 471.7 L1233.8 474.3 L1237.8 476.9 L1241.8 479.5 L1245.8 482.1 L1249.8 484.7 L1253.8 487.3 L1257.8 489.9 L1261.8 492.5 L1265.8 495.1 L1269.8 497.7 L1273.8 500.3 L1277.8 502.9 L1281.8 505.5 L1285.8 508.1 L1289.8 510.7 L1293.8 513.3 L1297.8 515.9 L1301.8 518.5 L1305.8 521.1 L1309.8 523.8 L1313.8 526.4 L1317.8 529.0 L1321.8 531.7 L1325.8 534.3 L1329.8 537.0 L1333.8 539.7 L1337.8 542.3 L1341.8 545.0 L1345.8 547.7 L1349.8 550.4 L1353.8 553.1 L1357.8 555.7 L1361.8 558.4 L1365.8 561.1 L1369.8 563.8 L1373.8 566.5 L1377.8 569.2 L1381.8 571.9 L1385.8 574.6 L1389.8 577.3 L1393.8 580.0 L1397.8 582.6 L1401.8 585.3 L1405.8 588.0 L1409.8 590.7 L1413.8 593.4 L1417.8 596.0 L1421.8 598.7 L1425.8 601.4 L1429.8 604.0 L1433.8 606.7 L1437.8 609.3 L1441.8 612.0 L1445.8 614.6 L1449.8 617.2 L1453.8 619.8 L1457.8 622.5 L1461.8 625.1 L1465.8 627.7 L1469.8 630.2 L1473.8 632.8 L1477.8 635.4 L1481.8 637.9 L1485.8 640.5 L1489.8 643.0 L1493.8 645.5 L1497.8 648.0 L1501.8 650.5 L1505.8 653.0 L1509.8 655.5 L1513.8 657.9 L1517.8 660.4 L1521.8 662.8 L1525.8 665.2 L1529.8 667.6 L1533.8 670.0 L1537.8 672.3 L1541.8 674.6 L1545.8 676.9 L1549.8 679.1 L1553.8 681.3 L1557.8 683.5 L1561.8 685.7 L1565.8 687.8 L1569.8 689.8 L1573.8 691.9 L1577.8 693.8 L1581.8 695.8 L1585.8 697.7 L1589.8 699.5 L1593.8 701.3 L1597.8 703.0 L1601.8 704.7 L1605.8 706.3 L1609.8 707.9 L1613.8 709.4 L1617.8 710.8 L1621.8 712.2 L1625.8 713.5 L1629.8 714.7 L1633.8 715.8 L1637.8 716.9 L1641.8 717.9 L1645.8 718.9 L1649.8 719.7 L1653.8 720.5 L1657.8 721.2 L1661.8 721.8 L1665.8 722.4" stroke="#00cbcc" stroke-width="10.5" stroke-dasharray="24.4 22.1" stroke-dashoffset="2.7"/>
<path d="M357.8 1001.2 L361.8 998.3 L365.8 995.5 L369.8 992.7 L373.8 989.9 L377.8 987.0 L381.8 984.2 L385.8 981.3 L389.8 978.4 L393.8 975.5 L397.8 972.5 L401.8 969.5 L405.8 966.4 L409.8 963.3 L413.8 960.2 L417.8 956.9 L421.8 953.7 L425.8 950.3 L429.8 946.9 L433.8 943.4 L437.8 939.8 L441.8 936.1 L445.8 932.3 L449.8 928.4 L453.8 924.5 L457.8 920.4 L461.8 916.2 L465.8 911.9 L469.8 907.5 L473.8 902.9 L477.8 898.2 L481.8 893.4 L485.8 888.4 L489.8 883.3 L493.8 878.1 L497.8 872.7 L501.8 867.1 L505.8 861.3 L509.8 855.4 L513.8 849.4 L517.8 843.1 L521.8 836.7 L525.8 830.0 L529.8 823.2 L533.8 816.2 L537.8 809.0 L541.8 801.6 L545.8 793.9 L549.8 786.0 L553.8 777.8 L557.8 769.4 L561.8 760.7 L565.8 751.7 L569.8 742.5 L573.8 732.9 L577.8 723.1 L581.8 713.3 L585.8 703.6 L589.8 694.3 L593.8 685.3 L597.8 676.6 L601.8 668.2 L605.8 659.9 L609.8 651.9 L613.8 643.9 L617.8 636.0 L621.8 628.1 L625.8 620.1 L629.8 612.1 L633.8 604.0 L637.8 595.7 L641.8 587.5 L645.8 579.1 L649.8 570.7 L653.8 562.3 L657.8 553.9 L661.8 545.5 L665.8 537.2 L669.8 528.9 L673.8 520.6 L677.8 512.4 L681.8 504.4 L685.8 496.4 L689.8 488.6 L693.8 480.9 L697.8 473.3 L701.8 465.9 L705.8 458.5 L709.8 451.3 L713.8 444.2 L717.8 437.2 L721.8 430.3 L725.8 423.5 L729.8 416.8 L733.8 410.1 L737.8 403.6 L741.8 397.1 L745.8 390.7 L749.8 384.4 L753.8 378.2 L757.8 372.1 L761.8 366.1 L765.8 360.2 L769.8 354.5 L773.8 349.0 L777.8 343.5 L781.8 338.3 L785.8 333.2 L789.8 328.2 L793.8 323.5 L797.8 318.9 L801.8 314.6 L805.8 310.4 L809.8 306.5 L813.8 302.8 L817.8 299.3 L821.8 296.0 L825.8 293.0 L829.8 290.1 L833.8 287.6 L837.8 285.2 L841.8 283.0 L845.8 281.0 L849.8 279.3 L853.8 277.7 L857.8 276.3 L861.8 275.1 L865.8 274.1 L869.8 273.2 L873.8 272.5 L877.8 272.0 L881.8 271.6 L885.8 271.4 L889.8 271.3 L893.8 271.4 L897.8 271.6 L901.8 271.9 L905.8 272.3 L909.8 272.9 L913.8 273.6 L917.8 274.3 L921.8 275.2 L925.8 276.2 L929.8 277.3 L933.8 278.5 L937.8 279.8 L941.8 281.2 L945.8 282.6 L949.8 284.2 L953.8 285.9 L957.8 287.6 L961.8 289.4 L965.8 291.3 L969.8 293.3 L973.8 295.3 L977.8 297.4 L981.8 299.6 L985.8 301.9 L989.8 304.2 L993.8 306.6 L997.8 309.0 L1001.8 311.5 L1005.8 314.0 L1009.8 316.6 L1013.8 319.2 L1017.8 321.9 L1021.8 324.6 L1025.8 327.4 L1029.8 330.2 L1033.8 333.0 L1037.8 335.8 L1041.8 338.7 L1045.8 341.6 L1049.8 344.6 L1053.8 347.5 L1057.8 350.5 L1061.8 353.5 L1065.8 356.5 L1069.8 359.5 L1073.8 362.5 L1077.8 365.5 L1081.8 368.6 L1085.8 371.6 L1089.8 374.6 L1093.8 377.6 L1097.8 380.6 L1101.8 383.6 L1105.8 386.6 L1109.8 389.6 L1113.8 392.5 L1117.8 395.4 L1121.8 398.3 L1125.8 401.2 L1129.8 404.1 L1133.8 406.9 L1137.8 409.8 L1141.8 412.6 L1145.8 415.4 L1149.8 418.2 L1153.8 421.0 L1157.8 423.7 L1161.8 426.5 L1165.8 429.2 L1169.8 431.9 L1173.8 434.7 L1177.8 437.4 L1181.8 440.1 L1185.8 442.7 L1189.8 445.4 L1193.8 448.1 L1197.8 450.7 L1201.8 453.4 L1205.8 456.0 L1209.8 458.6 L1213.8 461.3 L1217.8 463.9 L1221.8 466.5 L1225.8 469.1 L1229.8 471.7 L1233.8 474.3 L1237.8 476.9 L1241.8 479.5 L1245.8 482.1 L1249.8 484.7 L1253.8 487.3 L1257.8 489.9 L1261.8 492.5 L1265.8 495.1 L1269.8 497.7 L1273.8 500.3 L1277.8 502.9 L1281.8 505.5 L1285.8 508.1 L1289.8 510.7 L1293.8 513.3 L1297.8 515.9 L1301.8 518.5 L1305.8 521.1 L1309.8 523.8 L1313.8 526.4 L1317.8 529.0 L1321.8 531.7 L1325.8 534.3 L1329.8 537.0 L1333.8 539.7 L1337.8 542.3 L1341.8 545.0 L1345.8 547.7 L1349.8 550.4 L1353.8 553.1 L1357.8 555.7 L1361.8 558.4 L1365.8 561.1 L1369.8 563.8 L1373.8 566.5 L1377.8 569.2 L1381.8 571.9 L1385.8 574.6 L1389.8 577.3 L1393.8 580.0 L1397.8 582.6 L1401.8 585.3 L1405.8 588.0 L1409.8 590.7 L1413.8 593.4 L1417.8 596.0 L1421.8 598.7 L1425.8 601.4 L1429.8 604.0 L1433.8 606.7 L1437.8 609.3 L1441.8 612.0 L1445.8 614.6 L1449.8 617.2 L1453.8 619.8 L1457.8 622.5 L1461.8 625.1 L1465.8 627.7 L1469.8 630.2 L1473.8 632.8 L1477.8 635.4 L1481.8 637.9 L1485.8 640.5 L1489.8 643.0 L1493.8 645.5 L1497.8 648.0 L1501.8 650.5 L1505.8 653.0 L1509.8 655.5 L1513.8 657.9 L1517.8 660.4 L1521.8 662.8 L1525.8 665.2 L1529.8 667.6 L1533.8 670.0 L1537.8 672.3 L1541.8 674.6 L1545.8 676.9 L1549.8 679.1 L1553.8 681.3 L1557.8 683.5 L1561.8 685.7 L1565.8 687.8 L1569.8 689.8 L1573.8 691.9 L1577.8 693.8 L1581.8 695.8 L1585.8 697.7 L1589.8 699.5 L1593.8 701.3 L1597.8 703.0 L1601.8 704.7 L1605.8 706.3 L1609.8 707.9 L1613.8 709.4 L1617.8 710.8 L1621.8 712.2 L1625.8 713.5 L1629.8 714.7 L1633.8 715.8 L1637.8 716.9 L1641.8 717.9 L1645.8 718.9 L1649.8 719.7 L1653.8 720.5 L1657.8 721.2 L1661.8 721.8 L1665.8 722.4" stroke="#00cbcc" stroke-width="6.5" stroke-linecap="round" stroke-dasharray="22 24.5" stroke-dashoffset="1.5"/>
<path d="M357.8 998.7 L361.8 996.1 L365.8 993.5 L369.8 990.9 L373.8 988.2 L377.8 985.5 L381.8 982.7 L385.8 979.9 L389.8 977.0 L393.8 974.1 L397.8 971.1 L401.8 968.0 L405.8 964.9 L409.8 961.7 L413.8 958.4 L417.8 955.0 L421.8 951.6 L425.8 948.0 L429.8 944.4 L433.8 940.7 L437.8 936.9 L441.8 933.0 L445.8 929.0 L449.8 924.9 L453.8 920.6 L457.8 916.3 L461.8 911.9 L465.8 907.3 L469.8 902.6 L473.8 897.8 L477.8 892.8 L481.8 887.7 L485.8 882.5 L489.8 877.2 L493.8 871.7 L497.8 866.0 L501.8 860.3 L505.8 854.3 L509.8 848.2 L513.8 842.0 L517.8 835.6 L521.8 829.0 L525.8 822.3 L529.8 815.3 L533.8 808.2 L537.8 800.8 L541.8 793.0 L545.8 784.7 L549.8 776.0 L553.8 766.7 L557.8 756.7 L561.8 745.9 L565.8 734.4 L569.8 722.3 L573.8 710.0 L577.8 698.2 L581.8 687.4 L585.8 677.6 L589.8 668.7 L593.8 660.2 L597.8 651.7 L601.8 643.1 L605.8 634.3 L609.8 625.4 L613.8 616.5 L617.8 607.8 L621.8 599.2 L625.8 590.7 L629.8 582.4 L633.8 574.2 L637.8 566.0 L641.8 557.9 L645.8 549.8 L649.8 541.7 L653.8 533.6 L657.8 525.5 L661.8 517.3 L665.8 509.0 L669.8 500.6 L673.8 492.0 L677.8 483.3 L681.8 474.5 L685.8 465.6 L689.8 456.7 L693.8 447.7 L697.8 438.8 L701.8 429.9 L705.8 421.1 L709.8 412.5 L713.8 404.0 L717.8 395.7 L721.8 387.6 L725.8 379.6 L729.8 371.9 L733.8 364.4 L737.8 357.1 L741.8 350.0 L745.8 343.1 L749.8 336.3 L753.8 329.8 L757.8 323.5 L761.8 317.3 L765.8 311.3 L769.8 305.5 L773.8 300.0 L777.8 294.5 L781.8 289.3 L785.8 284.3 L789.8 279.4 L793.8 274.8 L797.8 270.3 L801.8 266.0 L805.8 261.8 L809.8 257.9 L813.8 254.1 L817.8 250.5 L821.8 247.1 L825.8 243.9 L829.8 240.8 L833.8 237.9 L837.8 235.2 L841.8 232.6 L845.8 230.3 L849.8 228.1 L853.8 226.0 L857.8 224.1 L861.8 222.4 L865.8 220.9 L869.8 219.5 L873.8 218.3 L877.8 217.3 L881.8 216.4 L885.8 215.6 L889.8 215.0 L893.8 214.6 L897.8 214.3 L901.8 214.1 L905.8 214.1 L909.8 214.2 L913.8 214.4 L917.8 214.8 L921.8 215.3 L925.8 215.9 L929.8 216.6 L933.8 217.5 L937.8 218.4 L941.8 219.5 L945.8 220.7 L949.8 222.0 L953.8 223.4 L957.8 224.9 L961.8 226.4 L965.8 228.1 L969.8 229.9 L973.8 231.7 L977.8 233.7 L981.8 235.7 L985.8 237.8 L989.8 240.0 L993.8 242.2 L997.8 244.5 L1001.8 246.9 L1005.8 249.3 L1009.8 251.8 L1013.8 254.4 L1017.8 257.0 L1021.8 259.6 L1025.8 262.3 L1029.8 265.1 L1033.8 267.9 L1037.8 270.7 L1041.8 273.6 L1045.8 276.5 L1049.8 279.4 L1053.8 282.3 L1057.8 285.3 L1061.8 288.3 L1065.8 291.3 L1069.8 294.3 L1073.8 297.4 L1077.8 300.4 L1081.8 303.5 L1085.8 306.6 L1089.8 309.6 L1093.8 312.7 L1097.8 315.8 L1101.8 318.9 L1105.8 322.0 L1109.8 325.1 L1113.8 328.2 L1117.8 331.3 L1121.8 334.5 L1125.8 337.6 L1129.8 340.7 L1133.8 343.8 L1137.8 347.0 L1141.8 350.1 L1145.8 353.3 L1149.8 356.4 L1153.8 359.5 L1157.8 362.7 L1161.8 365.8 L1165.8 369.0 L1169.8 372.1 L1173.8 375.3 L1177.8 378.4 L1181.8 381.6 L1185.8 384.7 L1189.8 387.8 L1193.8 391.0 L1197.8 394.1 L1201.8 397.2 L1205.8 400.3 L1209.8 403.5 L1213.8 406.6 L1217.8 409.7 L1221.8 412.8 L1225.8 415.9 L1229.8 419.0 L1233.8 422.1 L1237.8 425.2 L1241.8 428.2 L1245.8 431.3 L1249.8 434.3 L1253.8 437.4 L1257.8 440.4 L1261.8 443.4 L1265.8 446.5 L1269.8 449.5 L1273.8 452.5 L1277.8 455.5 L1281.8 458.4 L1285.8 461.4 L1289.8 464.4 L1293.8 467.3 L1297.8 470.3 L1301.8 473.3 L1305.8 476.2 L1309.8 479.1 L1313.8 482.1 L1317.8 485.0 L1321.8 487.9 L1325.8 490.8 L1329.8 493.7 L1333.8 496.6 L1337.8 499.6 L1341.8 502.5 L1345.8 505.4 L1349.8 508.2 L1353.8 511.1 L1357.8 514.0 L1361.8 516.9 L1365.8 519.8 L1369.8 522.7 L1373.8 525.6 L1377.8 528.5 L1381.8 531.4 L1385.8 534.2 L1389.8 537.1 L1393.8 540.0 L1397.8 542.9 L1401.8 545.8 L1405.8 548.7 L1409.8 551.6 L1413.8 554.5 L1417.8 557.4 L1421.8 560.3 L1425.8 563.2 L1429.8 566.1 L1433.8 569.0 L1437.8 571.9 L1441.8 574.9 L1445.8 577.8 L1449.8 580.7 L1453.8 583.6 L1457.8 586.6 L1461.8 589.5 L1465.8 592.4 L1469.8 595.3 L1473.8 598.2 L1477.8 601.0 L1481.8 603.9 L1485.8 606.7 L1489.8 609.5 L1493.8 612.3 L1497.8 615.1 L1501.8 617.8 L1505.8 620.5 L1509.8 623.2 L1513.8 625.8 L1517.8 628.4 L1521.8 630.9 L1525.8 633.5 L1529.8 635.9 L1533.8 638.3 L1537.8 640.7 L1541.8 643.0 L1545.8 645.3 L1549.8 647.5 L1553.8 649.6 L1557.8 651.7 L1561.8 653.7 L1565.8 655.7 L1569.8 657.6 L1573.8 659.4 L1577.8 661.3 L1581.8 663.0 L1585.8 664.7 L1589.8 666.4 L1593.8 668.0 L1597.8 669.6 L1601.8 671.2 L1605.8 672.7 L1609.8 674.3 L1613.8 675.8 L1617.8 677.2 L1621.8 678.7 L1625.8 680.2 L1629.8 681.6 L1633.8 683.1 L1637.8 684.5 L1641.8 686.0 L1645.8 687.4 L1649.8 688.9 L1653.8 690.4 L1657.8 691.9 L1661.8 693.4 L1665.8 694.9" stroke="#7d4e4e" stroke-width="10.5" stroke-dasharray="24.4 22.1" stroke-dashoffset="2.7"/>
<path d="M357.8 998.7 L361.8 996.1 L365.8 993.5 L369.8 990.9 L373.8 988.2 L377.8 985.5 L381.8 982.7 L385.8 979.9 L389.8 977.0 L393.8 974.1 L397.8 971.1 L401.8 968.0 L405.8 964.9 L409.8 961.7 L413.8 958.4 L417.8 955.0 L421.8 951.6 L425.8 948.0 L429.8 944.4 L433.8 940.7 L437.8 936.9 L441.8 933.0 L445.8 929.0 L449.8 924.9 L453.8 920.6 L457.8 916.3 L461.8 911.9 L465.8 907.3 L469.8 902.6 L473.8 897.8 L477.8 892.8 L481.8 887.7 L485.8 882.5 L489.8 877.2 L493.8 871.7 L497.8 866.0 L501.8 860.3 L505.8 854.3 L509.8 848.2 L513.8 842.0 L517.8 835.6 L521.8 829.0 L525.8 822.3 L529.8 815.3 L533.8 808.2 L537.8 800.8 L541.8 793.0 L545.8 784.7 L549.8 776.0 L553.8 766.7 L557.8 756.7 L561.8 745.9 L565.8 734.4 L569.8 722.3 L573.8 710.0 L577.8 698.2 L581.8 687.4 L585.8 677.6 L589.8 668.7 L593.8 660.2 L597.8 651.7 L601.8 643.1 L605.8 634.3 L609.8 625.4 L613.8 616.5 L617.8 607.8 L621.8 599.2 L625.8 590.7 L629.8 582.4 L633.8 574.2 L637.8 566.0 L641.8 557.9 L645.8 549.8 L649.8 541.7 L653.8 533.6 L657.8 525.5 L661.8 517.3 L665.8 509.0 L669.8 500.6 L673.8 492.0 L677.8 483.3 L681.8 474.5 L685.8 465.6 L689.8 456.7 L693.8 447.7 L697.8 438.8 L701.8 429.9 L705.8 421.1 L709.8 412.5 L713.8 404.0 L717.8 395.7 L721.8 387.6 L725.8 379.6 L729.8 371.9 L733.8 364.4 L737.8 357.1 L741.8 350.0 L745.8 343.1 L749.8 336.3 L753.8 329.8 L757.8 323.5 L761.8 317.3 L765.8 311.3 L769.8 305.5 L773.8 300.0 L777.8 294.5 L781.8 289.3 L785.8 284.3 L789.8 279.4 L793.8 274.8 L797.8 270.3 L801.8 266.0 L805.8 261.8 L809.8 257.9 L813.8 254.1 L817.8 250.5 L821.8 247.1 L825.8 243.9 L829.8 240.8 L833.8 237.9 L837.8 235.2 L841.8 232.6 L845.8 230.3 L849.8 228.1 L853.8 226.0 L857.8 224.1 L861.8 222.4 L865.8 220.9 L869.8 219.5 L873.8 218.3 L877.8 217.3 L881.8 216.4 L885.8 215.6 L889.8 215.0 L893.8 214.6 L897.8 214.3 L901.8 214.1 L905.8 214.1 L909.8 214.2 L913.8 214.4 L917.8 214.8 L921.8 215.3 L925.8 215.9 L929.8 216.6 L933.8 217.5 L937.8 218.4 L941.8 219.5 L945.8 220.7 L949.8 222.0 L953.8 223.4 L957.8 224.9 L961.8 226.4 L965.8 228.1 L969.8 229.9 L973.8 231.7 L977.8 233.7 L981.8 235.7 L985.8 237.8 L989.8 240.0 L993.8 242.2 L997.8 244.5 L1001.8 246.9 L1005.8 249.3 L1009.8 251.8 L1013.8 254.4 L1017.8 257.0 L1021.8 259.6 L1025.8 262.3 L1029.8 265.1 L1033.8 267.9 L1037.8 270.7 L1041.8 273.6 L1045.8 276.5 L1049.8 279.4 L1053.8 282.3 L1057.8 285.3 L1061.8 288.3 L1065.8 291.3 L1069.8 294.3 L1073.8 297.4 L1077.8 300.4 L1081.8 303.5 L1085.8 306.6 L1089.8 309.6 L1093.8 312.7 L1097.8 315.8 L1101.8 318.9 L1105.8 322.0 L1109.8 325.1 L1113.8 328.2 L1117.8 331.3 L1121.8 334.5 L1125.8 337.6 L1129.8 340.7 L1133.8 343.8 L1137.8 347.0 L1141.8 350.1 L1145.8 353.3 L1149.8 356.4 L1153.8 359.5 L1157.8 362.7 L1161.8 365.8 L1165.8 369.0 L1169.8 372.1 L1173.8 375.3 L1177.8 378.4 L1181.8 381.6 L1185.8 384.7 L1189.8 387.8 L1193.8 391.0 L1197.8 394.1 L1201.8 397.2 L1205.8 400.3 L1209.8 403.5 L1213.8 406.6 L1217.8 409.7 L1221.8 412.8 L1225.8 415.9 L1229.8 419.0 L1233.8 422.1 L1237.8 425.2 L1241.8 428.2 L1245.8 431.3 L1249.8 434.3 L1253.8 437.4 L1257.8 440.4 L1261.8 443.4 L1265.8 446.5 L1269.8 449.5 L1273.8 452.5 L1277.8 455.5 L1281.8 458.4 L1285.8 461.4 L1289.8 464.4 L1293.8 467.3 L1297.8 470.3 L1301.8 473.3 L1305.8 476.2 L1309.8 479.1 L1313.8 482.1 L1317.8 485.0 L1321.8 487.9 L1325.8 490.8 L1329.8 493.7 L1333.8 496.6 L1337.8 499.6 L1341.8 502.5 L1345.8 505.4 L1349.8 508.2 L1353.8 511.1 L1357.8 514.0 L1361.8 516.9 L1365.8 519.8 L1369.8 522.7 L1373.8 525.6 L1377.8 528.5 L1381.8 531.4 L1385.8 534.2 L1389.8 537.1 L1393.8 540.0 L1397.8 542.9 L1401.8 545.8 L1405.8 548.7 L1409.8 551.6 L1413.8 554.5 L1417.8 557.4 L1421.8 560.3 L1425.8 563.2 L1429.8 566.1 L1433.8 569.0 L1437.8 571.9 L1441.8 574.9 L1445.8 577.8 L1449.8 580.7 L1453.8 583.6 L1457.8 586.6 L1461.8 589.5 L1465.8 592.4 L1469.8 595.3 L1473.8 598.2 L1477.8 601.0 L1481.8 603.9 L1485.8 606.7 L1489.8 609.5 L1493.8 612.3 L1497.8 615.1 L1501.8 617.8 L1505.8 620.5 L1509.8 623.2 L1513.8 625.8 L1517.8 628.4 L1521.8 630.9 L1525.8 633.5 L1529.8 635.9 L1533.8 638.3 L1537.8 640.7 L1541.8 643.0 L1545.8 645.3 L1549.8 647.5 L1553.8 649.6 L1557.8 651.7 L1561.8 653.7 L1565.8 655.7 L1569.8 657.6 L1573.8 659.4 L1577.8 661.3 L1581.8 663.0 L1585.8 664.7 L1589.8 666.4 L1593.8 668.0 L1597.8 669.6 L1601.8 671.2 L1605.8 672.7 L1609.8 674.3 L1613.8 675.8 L1617.8 677.2 L1621.8 678.7 L1625.8 680.2 L1629.8 681.6 L1633.8 683.1 L1637.8 684.5 L1641.8 686.0 L1645.8 687.4 L1649.8 688.9 L1653.8 690.4 L1657.8 691.9 L1661.8 693.4 L1665.8 694.9" stroke="#7d4e4e" stroke-width="6.5" stroke-linecap="round" stroke-dasharray="22 24.5" stroke-dashoffset="1.5"/>
<path d="M357.8 992.6 L361.8 990.6 L365.8 988.5 L369.8 986.3 L373.8 984.0 L377.8 981.6 L381.8 979.1 L385.8 976.5 L389.8 973.8 L393.8 971.0 L397.8 968.1 L401.8 965.1 L405.8 962.0 L409.8 958.8 L413.8 955.4 L417.8 952.0 L421.8 948.4 L425.8 944.7 L429.8 940.9 L433.8 936.9 L437.8 932.9 L441.8 928.7 L445.8 924.4 L449.8 919.9 L453.8 915.3 L457.8 910.6 L461.8 905.7 L465.8 900.7 L469.8 895.6 L473.8 890.3 L477.8 884.9 L481.8 879.3 L485.8 873.6 L489.8 867.7 L493.8 861.7 L497.8 855.5 L501.8 849.1 L505.8 842.7 L509.8 836.0 L513.8 829.2 L517.8 822.2 L521.8 815.0 L525.8 807.7 L529.8 800.2 L533.8 792.6 L537.8 784.7 L541.8 776.7 L545.8 768.5 L549.8 760.2 L553.8 751.7 L557.8 743.0 L561.8 734.2 L565.8 725.2 L569.8 716.2 L573.8 707.0 L577.8 697.7 L581.8 688.3 L585.8 678.8 L589.8 669.2 L593.8 659.6 L597.8 649.9 L601.8 640.1 L605.8 630.2 L609.8 620.4 L613.8 610.4 L617.8 600.5 L621.8 590.5 L625.8 580.6 L629.8 570.6 L633.8 560.6 L637.8 550.6 L641.8 540.7 L645.8 530.8 L649.8 520.9 L653.8 511.1 L657.8 501.3 L661.8 491.6 L665.8 482.0 L669.8 472.4 L673.8 462.9 L677.8 453.5 L681.8 444.2 L685.8 435.1 L689.8 426.0 L693.8 417.1 L697.8 408.3 L701.8 399.6 L705.8 391.1 L709.8 382.7 L713.8 374.5 L717.8 366.5 L721.8 358.7 L725.8 351.0 L729.8 343.6 L733.8 336.3 L737.8 329.3 L741.8 322.4 L745.8 315.8 L749.8 309.3 L753.8 303.1 L757.8 297.0 L761.8 291.1 L765.8 285.2 L769.8 279.4 L773.8 273.6 L777.8 267.7 L781.8 261.9 L785.8 256.1 L789.8 250.3 L793.8 244.6 L797.8 239.1 L801.8 233.8 L805.8 228.7 L809.8 223.8 L813.8 219.2 L817.8 214.7 L821.8 210.5 L825.8 206.5 L829.8 202.7 L833.8 199.1 L837.8 195.8 L841.8 192.6 L845.8 189.6 L849.8 186.9 L853.8 184.3 L857.8 181.9 L861.8 179.7 L865.8 177.6 L869.8 175.8 L873.8 174.1 L877.8 172.7 L881.8 171.3 L885.8 170.2 L889.8 169.2 L893.8 168.4 L897.8 167.7 L901.8 167.2 L905.8 166.8 L909.8 166.6 L913.8 166.6 L917.8 166.6 L921.8 166.8 L925.8 167.2 L929.8 167.7 L933.8 168.3 L937.8 169.0 L941.8 169.9 L945.8 170.9 L949.8 172.0 L953.8 173.2 L957.8 174.5 L961.8 176.0 L965.8 177.5 L969.8 179.2 L973.8 181.0 L977.8 182.8 L981.8 184.8 L985.8 186.9 L989.8 189.1 L993.8 191.3 L997.8 193.7 L1001.8 196.2 L1005.8 198.7 L1009.8 201.3 L1013.8 204.1 L1017.8 206.9 L1021.8 209.8 L1025.8 212.7 L1029.8 215.8 L1033.8 218.9 L1037.8 222.1 L1041.8 225.4 L1045.8 228.7 L1049.8 232.1 L1053.8 235.6 L1057.8 239.1 L1061.8 242.7 L1065.8 246.3 L1069.8 250.0 L1073.8 253.7 L1077.8 257.5 L1081.8 261.3 L1085.8 265.1 L1089.8 268.9 L1093.8 272.8 L1097.8 276.7 L1101.8 280.6 L1105.8 284.5 L1109.8 288.5 L1113.8 292.4 L1117.8 296.3 L1121.8 300.3 L1125.8 304.2 L1129.8 308.1 L1133.8 312.0 L1137.8 315.9 L1141.8 319.8 L1145.8 323.6 L1149.8 327.5 L1153.8 331.3 L1157.8 335.1 L1161.8 338.9 L1165.8 342.7 L1169.8 346.4 L1173.8 350.2 L1177.8 353.9 L1181.8 357.7 L1185.8 361.4 L1189.8 365.1 L1193.8 368.8 L1197.8 372.5 L1201.8 376.2 L1205.8 379.8 L1209.8 383.5 L1213.8 387.1 L1217.8 390.7 L1221.8 394.3 L1225.8 397.9 L1229.8 401.5 L1233.8 405.1 L1237.8 408.7 L1241.8 412.2 L1245.8 415.8 L1249.8 419.3 L1253.8 422.8 L1257.8 426.4 L1261.8 429.9 L1265.8 433.4 L1269.8 436.9 L1273.8 440.4 L1277.8 443.8 L1281.8 447.3 L1285.8 450.8 L1289.8 454.2 L1293.8 457.7 L1297.8 461.1 L1301.8 464.5 L1305.8 467.9 L1309.8 471.3 L1313.8 474.8 L1317.8 478.2 L1321.8 481.5 L1325.8 484.9 L1329.8 488.3 L1333.8 491.7 L1337.8 495.0 L1341.8 498.4 L1345.8 501.7 L1349.8 505.0 L1353.8 508.3 L1357.8 511.6 L1361.8 514.9 L1365.8 518.2 L1369.8 521.4 L1373.8 524.7 L1377.8 527.9 L1381.8 531.1 L1385.8 534.3 L1389.8 537.5 L1393.8 540.7 L1397.8 543.8 L1401.8 546.9 L1405.8 550.0 L1409.8 553.1 L1413.8 556.2 L1417.8 559.3 L1421.8 562.3 L1425.8 565.3 L1429.8 568.3 L1433.8 571.3 L1437.8 574.2 L1441.8 577.1 L1445.8 580.0 L1449.8 582.9 L1453.8 585.7 L1457.8 588.6 L1461.8 591.4 L1465.8 594.1 L1469.8 596.9 L1473.8 599.6 L1477.8 602.3 L1481.8 605.0 L1485.8 607.6 L1489.8 610.2 L1493.8 612.8 L1497.8 615.4 L1501.8 617.9 L1505.8 620.4 L1509.8 622.8 L1513.8 625.3 L1517.8 627.7 L1521.8 630.0 L1525.8 632.4 L1529.8 634.7 L1533.8 636.9 L1537.8 639.1 L1541.8 641.3 L1545.8 643.5 L1549.8 645.6 L1553.8 647.7 L1557.8 649.7 L1561.8 651.8 L1565.8 653.7 L1569.8 655.7 L1573.8 657.6 L1577.8 659.4 L1581.8 661.2 L1585.8 663.0 L1589.8 664.7 L1593.8 666.4 L1597.8 668.1 L1601.8 669.7 L1605.8 671.2 L1609.8 672.8 L1613.8 674.2 L1617.8 675.7 L1621.8 677.1 L1625.8 678.4 L1629.8 679.7 L1633.8 680.9 L1637.8 682.1 L1641.8 683.3 L1645.8 684.5 L1649.8 685.6 L1653.8 686.8 L1657.8 687.9 L1661.8 689.1 L1665.8 690.2" stroke="#8e8e00" stroke-width="10.5" stroke-dasharray="24.4 22.1" stroke-dashoffset="2.7"/>
<path d="M357.8 992.6 L361.8 990.6 L365.8 988.5 L369.8 986.3 L373.8 984.0 L377.8 981.6 L381.8 979.1 L385.8 976.5 L389.8 973.8 L393.8 971.0 L397.8 968.1 L401.8 965.1 L405.8 962.0 L409.8 958.8 L413.8 955.4 L417.8 952.0 L421.8 948.4 L425.8 944.7 L429.8 940.9 L433.8 936.9 L437.8 932.9 L441.8 928.7 L445.8 924.4 L449.8 919.9 L453.8 915.3 L457.8 910.6 L461.8 905.7 L465.8 900.7 L469.8 895.6 L473.8 890.3 L477.8 884.9 L481.8 879.3 L485.8 873.6 L489.8 867.7 L493.8 861.7 L497.8 855.5 L501.8 849.1 L505.8 842.7 L509.8 836.0 L513.8 829.2 L517.8 822.2 L521.8 815.0 L525.8 807.7 L529.8 800.2 L533.8 792.6 L537.8 784.7 L541.8 776.7 L545.8 768.5 L549.8 760.2 L553.8 751.7 L557.8 743.0 L561.8 734.2 L565.8 725.2 L569.8 716.2 L573.8 707.0 L577.8 697.7 L581.8 688.3 L585.8 678.8 L589.8 669.2 L593.8 659.6 L597.8 649.9 L601.8 640.1 L605.8 630.2 L609.8 620.4 L613.8 610.4 L617.8 600.5 L621.8 590.5 L625.8 580.6 L629.8 570.6 L633.8 560.6 L637.8 550.6 L641.8 540.7 L645.8 530.8 L649.8 520.9 L653.8 511.1 L657.8 501.3 L661.8 491.6 L665.8 482.0 L669.8 472.4 L673.8 462.9 L677.8 453.5 L681.8 444.2 L685.8 435.1 L689.8 426.0 L693.8 417.1 L697.8 408.3 L701.8 399.6 L705.8 391.1 L709.8 382.7 L713.8 374.5 L717.8 366.5 L721.8 358.7 L725.8 351.0 L729.8 343.6 L733.8 336.3 L737.8 329.3 L741.8 322.4 L745.8 315.8 L749.8 309.3 L753.8 303.1 L757.8 297.0 L761.8 291.1 L765.8 285.2 L769.8 279.4 L773.8 273.6 L777.8 267.7 L781.8 261.9 L785.8 256.1 L789.8 250.3 L793.8 244.6 L797.8 239.1 L801.8 233.8 L805.8 228.7 L809.8 223.8 L813.8 219.2 L817.8 214.7 L821.8 210.5 L825.8 206.5 L829.8 202.7 L833.8 199.1 L837.8 195.8 L841.8 192.6 L845.8 189.6 L849.8 186.9 L853.8 184.3 L857.8 181.9 L861.8 179.7 L865.8 177.6 L869.8 175.8 L873.8 174.1 L877.8 172.7 L881.8 171.3 L885.8 170.2 L889.8 169.2 L893.8 168.4 L897.8 167.7 L901.8 167.2 L905.8 166.8 L909.8 166.6 L913.8 166.6 L917.8 166.6 L921.8 166.8 L925.8 167.2 L929.8 167.7 L933.8 168.3 L937.8 169.0 L941.8 169.9 L945.8 170.9 L949.8 172.0 L953.8 173.2 L957.8 174.5 L961.8 176.0 L965.8 177.5 L969.8 179.2 L973.8 181.0 L977.8 182.8 L981.8 184.8 L985.8 186.9 L989.8 189.1 L993.8 191.3 L997.8 193.7 L1001.8 196.2 L1005.8 198.7 L1009.8 201.3 L1013.8 204.1 L1017.8 206.9 L1021.8 209.8 L1025.8 212.7 L1029.8 215.8 L1033.8 218.9 L1037.8 222.1 L1041.8 225.4 L1045.8 228.7 L1049.8 232.1 L1053.8 235.6 L1057.8 239.1 L1061.8 242.7 L1065.8 246.3 L1069.8 250.0 L1073.8 253.7 L1077.8 257.5 L1081.8 261.3 L1085.8 265.1 L1089.8 268.9 L1093.8 272.8 L1097.8 276.7 L1101.8 280.6 L1105.8 284.5 L1109.8 288.5 L1113.8 292.4 L1117.8 296.3 L1121.8 300.3 L1125.8 304.2 L1129.8 308.1 L1133.8 312.0 L1137.8 315.9 L1141.8 319.8 L1145.8 323.6 L1149.8 327.5 L1153.8 331.3 L1157.8 335.1 L1161.8 338.9 L1165.8 342.7 L1169.8 346.4 L1173.8 350.2 L1177.8 353.9 L1181.8 357.7 L1185.8 361.4 L1189.8 365.1 L1193.8 368.8 L1197.8 372.5 L1201.8 376.2 L1205.8 379.8 L1209.8 383.5 L1213.8 387.1 L1217.8 390.7 L1221.8 394.3 L1225.8 397.9 L1229.8 401.5 L1233.8 405.1 L1237.8 408.7 L1241.8 412.2 L1245.8 415.8 L1249.8 419.3 L1253.8 422.8 L1257.8 426.4 L1261.8 429.9 L1265.8 433.4 L1269.8 436.9 L1273.8 440.4 L1277.8 443.8 L1281.8 447.3 L1285.8 450.8 L1289.8 454.2 L1293.8 457.7 L1297.8 461.1 L1301.8 464.5 L1305.8 467.9 L1309.8 471.3 L1313.8 474.8 L1317.8 478.2 L1321.8 481.5 L1325.8 484.9 L1329.8 488.3 L1333.8 491.7 L1337.8 495.0 L1341.8 498.4 L1345.8 501.7 L1349.8 505.0 L1353.8 508.3 L1357.8 511.6 L1361.8 514.9 L1365.8 518.2 L1369.8 521.4 L1373.8 524.7 L1377.8 527.9 L1381.8 531.1 L1385.8 534.3 L1389.8 537.5 L1393.8 540.7 L1397.8 543.8 L1401.8 546.9 L1405.8 550.0 L1409.8 553.1 L1413.8 556.2 L1417.8 559.3 L1421.8 562.3 L1425.8 565.3 L1429.8 568.3 L1433.8 571.3 L1437.8 574.2 L1441.8 577.1 L1445.8 580.0 L1449.8 582.9 L1453.8 585.7 L1457.8 588.6 L1461.8 591.4 L1465.8 594.1 L1469.8 596.9 L1473.8 599.6 L1477.8 602.3 L1481.8 605.0 L1485.8 607.6 L1489.8 610.2 L1493.8 612.8 L1497.8 615.4 L1501.8 617.9 L1505.8 620.4 L1509.8 622.8 L1513.8 625.3 L1517.8 627.7 L1521.8 630.0 L1525.8 632.4 L1529.8 634.7 L1533.8 636.9 L1537.8 639.1 L1541.8 641.3 L1545.8 643.5 L1549.8 645.6 L1553.8 647.7 L1557.8 649.7 L1561.8 651.8 L1565.8 653.7 L1569.8 655.7 L1573.8 657.6 L1577.8 659.4 L1581.8 661.2 L1585.8 663.0 L1589.8 664.7 L1593.8 666.4 L1597.8 668.1 L1601.8 669.7 L1605.8 671.2 L1609.8 672.8 L1613.8 674.2 L1617.8 675.7 L1621.8 677.1 L1625.8 678.4 L1629.8 679.7 L1633.8 680.9 L1637.8 682.1 L1641.8 683.3 L1645.8 684.5 L1649.8 685.6 L1653.8 686.8 L1657.8 687.9 L1661.8 689.1 L1665.8 690.2" stroke="#8e8e00" stroke-width="6.5" stroke-linecap="round" stroke-dasharray="22 24.5" stroke-dashoffset="1.5"/>
<path d="M357.8 992.2 L361.8 989.6 L365.8 987.0 L369.8 984.3 L373.8 981.5 L377.8 978.6 L381.8 975.6 L385.8 972.4 L389.8 969.2 L393.8 965.8 L397.8 962.4 L401.8 958.8 L405.8 955.1 L409.8 951.3 L413.8 947.4 L417.8 943.4 L421.8 939.2 L425.8 935.0 L429.8 930.6 L433.8 926.1 L437.8 921.5 L441.8 916.8 L445.8 911.9 L449.8 907.0 L453.8 901.9 L457.8 896.6 L461.8 891.3 L465.8 885.9 L469.8 880.3 L473.8 874.6 L477.8 868.7 L481.8 862.8 L485.8 856.7 L489.8 850.5 L493.8 844.1 L497.8 837.7 L501.8 831.1 L505.8 824.3 L509.8 817.5 L513.8 810.5 L517.8 803.4 L521.8 796.1 L525.8 788.7 L529.8 781.2 L533.8 773.6 L537.8 765.8 L541.8 757.8 L545.8 749.8 L549.8 741.6 L553.8 733.3 L557.8 724.9 L561.8 716.3 L565.8 707.7 L569.8 698.9 L573.8 690.1 L577.8 681.2 L581.8 672.2 L585.8 663.1 L589.8 654.0 L593.8 644.8 L597.8 635.5 L601.8 626.2 L605.8 616.8 L609.8 607.4 L613.8 598.0 L617.8 588.5 L621.8 579.0 L625.8 569.5 L629.8 560.0 L633.8 550.5 L637.8 540.9 L641.8 531.4 L645.8 521.9 L649.8 512.4 L653.8 503.0 L657.8 493.5 L661.8 484.2 L665.8 474.8 L669.8 465.5 L673.8 456.2 L677.8 447.1 L681.8 437.9 L685.8 428.8 L689.8 419.8 L693.8 410.9 L697.8 402.0 L701.8 393.2 L705.8 384.4 L709.8 375.8 L713.8 367.2 L717.8 358.7 L721.8 350.3 L725.8 342.0 L729.8 333.7 L733.8 325.6 L737.8 317.5 L741.8 309.6 L745.8 301.7 L749.8 294.0 L753.8 286.3 L757.8 278.8 L761.8 271.4 L765.8 264.1 L769.8 257.0 L773.8 250.0 L777.8 243.2 L781.8 236.6 L785.8 230.1 L789.8 223.9 L793.8 217.9 L797.8 212.0 L801.8 206.4 L805.8 201.0 L809.8 195.9 L813.8 191.0 L817.8 186.3 L821.8 181.9 L825.8 177.7 L829.8 173.7 L833.8 170.0 L837.8 166.5 L841.8 163.2 L845.8 160.2 L849.8 157.4 L853.8 154.8 L857.8 152.4 L861.8 150.2 L865.8 148.3 L869.8 146.5 L873.8 145.0 L877.8 143.6 L881.8 142.4 L885.8 141.5 L889.8 140.7 L893.8 140.1 L897.8 139.7 L901.8 139.4 L905.8 139.4 L909.8 139.5 L913.8 139.8 L917.8 140.3 L921.8 140.9 L925.8 141.7 L929.8 142.6 L933.8 143.7 L937.8 145.0 L941.8 146.4 L945.8 147.9 L949.8 149.6 L953.8 151.4 L957.8 153.4 L961.8 155.5 L965.8 157.7 L969.8 160.1 L973.8 162.6 L977.8 165.2 L981.8 167.9 L985.8 170.8 L989.8 173.7 L993.8 176.8 L997.8 179.9 L1001.8 183.2 L1005.8 186.5 L1009.8 189.9 L1013.8 193.4 L1017.8 196.9 L1021.8 200.5 L1025.8 204.2 L1029.8 207.9 L1033.8 211.6 L1037.8 215.3 L1041.8 219.1 L1045.8 222.9 L1049.8 226.6 L1053.8 230.4 L1057.8 234.2 L1061.8 238.0 L1065.8 241.8 L1069.8 245.5 L1073.8 249.3 L1077.8 253.1 L1081.8 256.9 L1085.8 260.6 L1089.8 264.4 L1093.8 268.2 L1097.8 271.9 L1101.8 275.7 L1105.8 279.4 L1109.8 283.2 L1113.8 286.9 L1117.8 290.7 L1121.8 294.4 L1125.8 298.1 L1129.8 301.9 L1133.8 305.6 L1137.8 309.3 L1141.8 313.0 L1145.8 316.8 L1149.8 320.5 L1153.8 324.2 L1157.8 327.9 L1161.8 331.6 L1165.8 335.3 L1169.8 339.0 L1173.8 342.7 L1177.8 346.3 L1181.8 350.0 L1185.8 353.7 L1189.8 357.3 L1193.8 361.0 L1197.8 364.7 L1201.8 368.3 L1205.8 372.0 L1209.8 375.6 L1213.8 379.2 L1217.8 382.9 L1221.8 386.5 L1225.8 390.1 L1229.8 393.7 L1233.8 397.3 L1237.8 400.9 L1241.8 404.5 L1245.8 408.1 L1249.8 411.7 L1253.8 415.3 L1257.8 418.8 L1261.8 422.4 L1265.8 426.0 L1269.8 429.5 L1273.8 433.0 L1277.8 436.6 L1281.8 440.1 L1285.8 443.6 L1289.8 447.1 L1293.8 450.6 L1297.8 454.1 L1301.8 457.5 L1305.8 461.0 L1309.8 464.4 L1313.8 467.9 L1317.8 471.3 L1321.8 474.7 L1325.8 478.1 L1329.8 481.5 L1333.8 484.8 L1337.8 488.2 L1341.8 491.5 L1345.8 494.8 L1349.8 498.1 L1353.8 501.4 L1357.8 504.7 L1361.8 507.9 L1365.8 511.2 L1369.8 514.4 L1373.8 517.6 L1377.8 520.7 L1381.8 523.9 L1385.8 527.0 L1389.8 530.1 L1393.8 533.2 L1397.8 536.3 L1401.8 539.4 L1405.8 542.4 L1409.8 545.4 L1413.8 548.4 L1417.8 551.4 L1421.8 554.3 L1425.8 557.2 L1429.8 560.1 L1433.8 563.0 L1437.8 565.8 L1441.8 568.6 L1445.8 571.4 L1449.8 574.2 L1453.8 576.9 L1457.8 579.6 L1461.8 582.3 L1465.8 585.0 L1469.8 587.6 L1473.8 590.2 L1477.8 592.8 L1481.8 595.3 L1485.8 597.8 L1489.8 600.3 L1493.8 602.7 L1497.8 605.1 L1501.8 607.5 L1505.8 609.9 L1509.8 612.2 L1513.8 614.5 L1517.8 616.7 L1521.8 619.0 L1525.8 621.2 L1529.8 623.3 L1533.8 625.4 L1537.8 627.5 L1541.8 629.5 L1545.8 631.6 L1549.8 633.5 L1553.8 635.5 L1557.8 637.4 L1561.8 639.2 L1565.8 641.0 L1569.8 642.8 L1573.8 644.6 L1577.8 646.3 L1581.8 648.0 L1585.8 649.6 L1589.8 651.2 L1593.8 652.7 L1597.8 654.2 L1601.8 655.7 L1605.8 657.1 L1609.8 658.5 L1613.8 659.8 L1617.8 661.1 L1621.8 662.3 L1625.8 663.5 L1629.8 664.7 L1633.8 665.8 L1637.8 666.9 L1641.8 667.9 L1645.8 668.9 L1649.8 669.8 L1653.8 670.7 L1657.8 671.5 L1661.8 672.3 L1665.8 673.1" stroke="#fb6501" stroke-width="15.5"/>
<path d="M357.8 992.7 L361.8 990.4 L365.8 988.0 L369.8 985.5 L373.8 982.9 L377.8 980.3 L381.8 977.6 L385.8 974.8 L389.8 971.9 L393.8 968.9 L397.8 965.8 L401.8 962.6 L405.8 959.3 L409.8 955.9 L413.8 952.4 L417.8 948.8 L421.8 945.1 L425.8 941.3 L429.8 937.4 L433.8 933.3 L437.8 929.1 L441.8 924.9 L445.8 920.4 L449.8 915.9 L453.8 911.2 L457.8 906.4 L461.8 901.5 L465.8 896.4 L469.8 891.2 L473.8 885.8 L477.8 880.3 L481.8 874.7 L485.8 868.9 L489.8 863.0 L493.8 856.9 L497.8 850.6 L501.8 844.2 L505.8 837.6 L509.8 830.9 L513.8 823.9 L517.8 816.9 L521.8 809.6 L525.8 802.2 L529.8 794.6 L533.8 786.8 L537.8 778.9 L541.8 770.7 L545.8 762.4 L549.8 753.9 L553.8 745.3 L557.8 736.5 L561.8 727.5 L565.8 718.5 L569.8 709.3 L573.8 700.0 L577.8 690.6 L581.8 681.1 L585.8 671.5 L589.8 661.8 L593.8 652.1 L597.8 642.3 L601.8 632.5 L605.8 622.6 L609.8 612.7 L613.8 602.8 L617.8 592.8 L621.8 582.9 L625.8 572.9 L629.8 563.0 L633.8 553.1 L637.8 543.2 L641.8 533.4 L645.8 523.6 L649.8 513.9 L653.8 504.2 L657.8 494.6 L661.8 485.1 L665.8 475.7 L669.8 466.4 L673.8 457.1 L677.8 448.0 L681.8 438.9 L685.8 429.9 L689.8 421.1 L693.8 412.3 L697.8 403.6 L701.8 395.0 L705.8 386.5 L709.8 378.1 L713.8 369.8 L717.8 361.6 L721.8 353.6 L725.8 345.6 L729.8 337.7 L733.8 330.0 L737.8 322.4 L741.8 314.9 L745.8 307.6 L749.8 300.4 L753.8 293.3 L757.8 286.4 L761.8 279.7 L765.8 273.2 L769.8 266.8 L773.8 260.5 L777.8 254.5 L781.8 248.7 L785.8 243.1 L789.8 237.6 L793.8 232.4 L797.8 227.4 L801.8 222.6 L805.8 218.0 L809.8 213.7 L813.8 209.5 L817.8 205.6 L821.8 201.8 L825.8 198.3 L829.8 194.9 L833.8 191.8 L837.8 188.8 L841.8 186.0 L845.8 183.5 L849.8 181.1 L853.8 178.8 L857.8 176.8 L861.8 174.9 L865.8 173.2 L869.8 171.6 L873.8 170.3 L877.8 169.0 L881.8 168.0 L885.8 167.1 L889.8 166.3 L893.8 165.7 L897.8 165.2 L901.8 164.9 L905.8 164.7 L909.8 164.7 L913.8 164.8 L917.8 165.0 L921.8 165.3 L925.8 165.8 L929.8 166.4 L933.8 167.1 L937.8 167.9 L941.8 168.8 L945.8 169.8 L949.8 171.0 L953.8 172.2 L957.8 173.5 L961.8 175.0 L965.8 176.5 L969.8 178.2 L973.8 179.9 L977.8 181.7 L981.8 183.6 L985.8 185.6 L989.8 187.7 L993.8 189.9 L997.8 192.1 L1001.8 194.5 L1005.8 196.9 L1009.8 199.3 L1013.8 201.9 L1017.8 204.5 L1021.8 207.2 L1025.8 209.9 L1029.8 212.7 L1033.8 215.6 L1037.8 218.5 L1041.8 221.5 L1045.8 224.5 L1049.8 227.6 L1053.8 230.7 L1057.8 233.9 L1061.8 237.1 L1065.8 240.3 L1069.8 243.6 L1073.8 247.0 L1077.8 250.4 L1081.8 253.8 L1085.8 257.2 L1089.8 260.7 L1093.8 264.2 L1097.8 267.7 L1101.8 271.2 L1105.8 274.8 L1109.8 278.3 L1113.8 281.9 L1117.8 285.5 L1121.8 289.1 L1125.8 292.8 L1129.8 296.4 L1133.8 300.0 L1137.8 303.6 L1141.8 307.3 L1145.8 310.9 L1149.8 314.6 L1153.8 318.2 L1157.8 321.8 L1161.8 325.5 L1165.8 329.1 L1169.8 332.8 L1173.8 336.5 L1177.8 340.1 L1181.8 343.8 L1185.8 347.4 L1189.8 351.1 L1193.8 354.7 L1197.8 358.4 L1201.8 362.0 L1205.8 365.7 L1209.8 369.3 L1213.8 373.0 L1217.8 376.6 L1221.8 380.3 L1225.8 383.9 L1229.8 387.6 L1233.8 391.2 L1237.8 394.8 L1241.8 398.5 L1245.8 402.1 L1249.8 405.7 L1253.8 409.3 L1257.8 412.9 L1261.8 416.5 L1265.8 420.2 L1269.8 423.7 L1273.8 427.3 L1277.8 430.9 L1281.8 434.5 L1285.8 438.1 L1289.8 441.7 L1293.8 445.2 L1297.8 448.8 L1301.8 452.3 L1305.8 455.9 L1309.8 459.4 L1313.8 462.9 L1317.8 466.4 L1321.8 470.0 L1325.8 473.4 L1329.8 476.9 L1333.8 480.4 L1337.8 483.9 L1341.8 487.3 L1345.8 490.8 L1349.8 494.2 L1353.8 497.6 L1357.8 501.0 L1361.8 504.4 L1365.8 507.8 L1369.8 511.1 L1373.8 514.5 L1377.8 517.8 L1381.8 521.1 L1385.8 524.4 L1389.8 527.7 L1393.8 531.0 L1397.8 534.2 L1401.8 537.4 L1405.8 540.6 L1409.8 543.8 L1413.8 547.0 L1417.8 550.1 L1421.8 553.2 L1425.8 556.3 L1429.8 559.4 L1433.8 562.4 L1437.8 565.4 L1441.8 568.4 L1445.8 571.4 L1449.8 574.4 L1453.8 577.3 L1457.8 580.2 L1461.8 583.1 L1465.8 585.9 L1469.8 588.7 L1473.8 591.5 L1477.8 594.3 L1481.8 597.0 L1485.8 599.7 L1489.8 602.4 L1493.8 605.0 L1497.8 607.6 L1501.8 610.2 L1505.8 612.8 L1509.8 615.3 L1513.8 617.7 L1517.8 620.2 L1521.8 622.6 L1525.8 625.0 L1529.8 627.3 L1533.8 629.6 L1537.8 631.9 L1541.8 634.1 L1545.8 636.3 L1549.8 638.5 L1553.8 640.6 L1557.8 642.7 L1561.8 644.7 L1565.8 646.7 L1569.8 648.7 L1573.8 650.6 L1577.8 652.5 L1581.8 654.3 L1585.8 656.1 L1589.8 657.9 L1593.8 659.6 L1597.8 661.2 L1601.8 662.8 L1605.8 664.4 L1609.8 665.9 L1613.8 667.4 L1617.8 668.9 L1621.8 670.3 L1625.8 671.6 L1629.8 672.9 L1633.8 674.1 L1637.8 675.3 L1641.8 676.5 L1645.8 677.6 L1649.8 678.8 L1653.8 679.9 L1657.8 681.1 L1661.8 682.2 L1665.8 683.4" stroke="#6699cc" stroke-width="10.5" stroke-dasharray="24.4 22.1" stroke-dashoffset="2.7"/>
<path d="M357.8 992.7 L361.8 990.4 L365.8 988.0 L369.8 985.5 L373.8 982.9 L377.8 980.3 L381.8 977.6 L385.8 974.8 L389.8 971.9 L393.8 968.9 L397.8 965.8 L401.8 962.6 L405.8 959.3 L409.8 955.9 L413.8 952.4 L417.8 948.8 L421.8 945.1 L425.8 941.3 L429.8 937.4 L433.8 933.3 L437.8 929.1 L441.8 924.9 L445.8 920.4 L449.8 915.9 L453.8 911.2 L457.8 906.4 L461.8 901.5 L465.8 896.4 L469.8 891.2 L473.8 885.8 L477.8 880.3 L481.8 874.7 L485.8 868.9 L489.8 863.0 L493.8 856.9 L497.8 850.6 L501.8 844.2 L505.8 837.6 L509.8 830.9 L513.8 823.9 L517.8 816.9 L521.8 809.6 L525.8 802.2 L529.8 794.6 L533.8 786.8 L537.8 778.9 L541.8 770.7 L545.8 762.4 L549.8 753.9 L553.8 745.3 L557.8 736.5 L561.8 727.5 L565.8 718.5 L569.8 709.3 L573.8 700.0 L577.8 690.6 L581.8 681.1 L585.8 671.5 L589.8 661.8 L593.8 652.1 L597.8 642.3 L601.8 632.5 L605.8 622.6 L609.8 612.7 L613.8 602.8 L617.8 592.8 L621.8 582.9 L625.8 572.9 L629.8 563.0 L633.8 553.1 L637.8 543.2 L641.8 533.4 L645.8 523.6 L649.8 513.9 L653.8 504.2 L657.8 494.6 L661.8 485.1 L665.8 475.7 L669.8 466.4 L673.8 457.1 L677.8 448.0 L681.8 438.9 L685.8 429.9 L689.8 421.1 L693.8 412.3 L697.8 403.6 L701.8 395.0 L705.8 386.5 L709.8 378.1 L713.8 369.8 L717.8 361.6 L721.8 353.6 L725.8 345.6 L729.8 337.7 L733.8 330.0 L737.8 322.4 L741.8 314.9 L745.8 307.6 L749.8 300.4 L753.8 293.3 L757.8 286.4 L761.8 279.7 L765.8 273.2 L769.8 266.8 L773.8 260.5 L777.8 254.5 L781.8 248.7 L785.8 243.1 L789.8 237.6 L793.8 232.4 L797.8 227.4 L801.8 222.6 L805.8 218.0 L809.8 213.7 L813.8 209.5 L817.8 205.6 L821.8 201.8 L825.8 198.3 L829.8 194.9 L833.8 191.8 L837.8 188.8 L841.8 186.0 L845.8 183.5 L849.8 181.1 L853.8 178.8 L857.8 176.8 L861.8 174.9 L865.8 173.2 L869.8 171.6 L873.8 170.3 L877.8 169.0 L881.8 168.0 L885.8 167.1 L889.8 166.3 L893.8 165.7 L897.8 165.2 L901.8 164.9 L905.8 164.7 L909.8 164.7 L913.8 164.8 L917.8 165.0 L921.8 165.3 L925.8 165.8 L929.8 166.4 L933.8 167.1 L937.8 167.9 L941.8 168.8 L945.8 169.8 L949.8 171.0 L953.8 172.2 L957.8 173.5 L961.8 175.0 L965.8 176.5 L969.8 178.2 L973.8 179.9 L977.8 181.7 L981.8 183.6 L985.8 185.6 L989.8 187.7 L993.8 189.9 L997.8 192.1 L1001.8 194.5 L1005.8 196.9 L1009.8 199.3 L1013.8 201.9 L1017.8 204.5 L1021.8 207.2 L1025.8 209.9 L1029.8 212.7 L1033.8 215.6 L1037.8 218.5 L1041.8 221.5 L1045.8 224.5 L1049.8 227.6 L1053.8 230.7 L1057.8 233.9 L1061.8 237.1 L1065.8 240.3 L1069.8 243.6 L1073.8 247.0 L1077.8 250.4 L1081.8 253.8 L1085.8 257.2 L1089.8 260.7 L1093.8 264.2 L1097.8 267.7 L1101.8 271.2 L1105.8 274.8 L1109.8 278.3 L1113.8 281.9 L1117.8 285.5 L1121.8 289.1 L1125.8 292.8 L1129.8 296.4 L1133.8 300.0 L1137.8 303.6 L1141.8 307.3 L1145.8 310.9 L1149.8 314.6 L1153.8 318.2 L1157.8 321.8 L1161.8 325.5 L1165.8 329.1 L1169.8 332.8 L1173.8 336.5 L1177.8 340.1 L1181.8 343.8 L1185.8 347.4 L1189.8 351.1 L1193.8 354.7 L1197.8 358.4 L1201.8 362.0 L1205.8 365.7 L1209.8 369.3 L1213.8 373.0 L1217.8 376.6 L1221.8 380.3 L1225.8 383.9 L1229.8 387.6 L1233.8 391.2 L1237.8 394.8 L1241.8 398.5 L1245.8 402.1 L1249.8 405.7 L1253.8 409.3 L1257.8 412.9 L1261.8 416.5 L1265.8 420.2 L1269.8 423.7 L1273.8 427.3 L1277.8 430.9 L1281.8 434.5 L1285.8 438.1 L1289.8 441.7 L1293.8 445.2 L1297.8 448.8 L1301.8 452.3 L1305.8 455.9 L1309.8 459.4 L1313.8 462.9 L1317.8 466.4 L1321.8 470.0 L1325.8 473.4 L1329.8 476.9 L1333.8 480.4 L1337.8 483.9 L1341.8 487.3 L1345.8 490.8 L1349.8 494.2 L1353.8 497.6 L1357.8 501.0 L1361.8 504.4 L1365.8 507.8 L1369.8 511.1 L1373.8 514.5 L1377.8 517.8 L1381.8 521.1 L1385.8 524.4 L1389.8 527.7 L1393.8 531.0 L1397.8 534.2 L1401.8 537.4 L1405.8 540.6 L1409.8 543.8 L1413.8 547.0 L1417.8 550.1 L1421.8 553.2 L1425.8 556.3 L1429.8 559.4 L1433.8 562.4 L1437.8 565.4 L1441.8 568.4 L1445.8 571.4 L1449.8 574.4 L1453.8 577.3 L1457.8 580.2 L1461.8 583.1 L1465.8 585.9 L1469.8 588.7 L1473.8 591.5 L1477.8 594.3 L1481.8 597.0 L1485.8 599.7 L1489.8 602.4 L1493.8 605.0 L1497.8 607.6 L1501.8 610.2 L1505.8 612.8 L1509.8 615.3 L1513.8 617.7 L1517.8 620.2 L1521.8 622.6 L1525.8 625.0 L1529.8 627.3 L1533.8 629.6 L1537.8 631.9 L1541.8 634.1 L1545.8 636.3 L1549.8 638.5 L1553.8 640.6 L1557.8 642.7 L1561.8 644.7 L1565.8 646.7 L1569.8 648.7 L1573.8 650.6 L1577.8 652.5 L1581.8 654.3 L1585.8 656.1 L1589.8 657.9 L1593.8 659.6 L1597.8 661.2 L1601.8 662.8 L1605.8 664.4 L1609.8 665.9 L1613.8 667.4 L1617.8 668.9 L1621.8 670.3 L1625.8 671.6 L1629.8 672.9 L1633.8 674.1 L1637.8 675.3 L1641.8 676.5 L1645.8 677.6 L1649.8 678.8 L1653.8 679.9 L1657.8 681.1 L1661.8 682.2 L1665.8 683.4" stroke="#6699cc" stroke-width="6.5" stroke-linecap="round" stroke-dasharray="22 24.5" stroke-dashoffset="1.5"/>
<path d="M357.8 995.9 L361.8 994.0 L365.8 991.9 L369.8 989.7 L373.8 987.4 L377.8 985.0 L381.8 982.5 L385.8 979.8 L389.8 977.0 L393.8 974.1 L397.8 971.1 L401.8 968.0 L405.8 964.8 L409.8 961.5 L413.8 958.0 L417.8 954.5 L421.8 950.8 L425.8 947.1 L429.8 943.3 L433.8 939.4 L437.8 935.3 L441.8 931.2 L445.8 927.0 L449.8 922.8 L453.8 918.4 L457.8 914.0 L461.8 909.5 L465.8 904.9 L469.8 900.2 L473.8 895.5 L477.8 890.6 L481.8 885.7 L485.8 880.7 L489.8 875.5 L493.8 870.2 L497.8 864.7 L501.8 859.1 L505.8 853.2 L509.8 847.2 L513.8 840.9 L517.8 834.4 L521.8 827.6 L525.8 820.5 L529.8 813.2 L533.8 805.6 L537.8 797.6 L541.8 789.4 L545.8 780.7 L549.8 771.8 L553.8 762.4 L557.8 752.7 L561.8 742.7 L565.8 732.4 L569.8 721.9 L573.8 711.3 L577.8 700.9 L581.8 690.9 L585.8 681.2 L589.8 672.0 L593.8 663.1 L597.8 654.5 L601.8 646.1 L605.8 637.9 L609.8 629.9 L613.8 621.9 L617.8 614.1 L621.8 606.3 L625.8 598.5 L629.8 590.7 L633.8 582.8 L637.8 574.8 L641.8 566.7 L645.8 558.5 L649.8 550.2 L653.8 541.8 L657.8 533.2 L661.8 524.6 L665.8 516.0 L669.8 507.3 L673.8 498.5 L677.8 489.8 L681.8 481.0 L685.8 472.2 L689.8 463.4 L693.8 454.7 L697.8 445.9 L701.8 437.3 L705.8 428.7 L709.8 420.1 L713.8 411.7 L717.8 403.3 L721.8 395.1 L725.8 387.0 L729.8 379.0 L733.8 371.2 L737.8 363.5 L741.8 356.1 L745.8 348.7 L749.8 341.6 L753.8 334.6 L757.8 327.9 L761.8 321.2 L765.8 314.8 L769.8 308.5 L773.8 302.5 L777.8 296.5 L781.8 290.8 L785.8 285.2 L789.8 279.8 L793.8 274.6 L797.8 269.6 L801.8 264.7 L805.8 260.0 L809.8 255.5 L813.8 251.1 L817.8 246.9 L821.8 242.9 L825.8 239.1 L829.8 235.4 L833.8 231.9 L837.8 228.5 L841.8 225.4 L845.8 222.4 L849.8 219.6 L853.8 216.9 L857.8 214.4 L861.8 212.1 L865.8 210.0 L869.8 208.0 L873.8 206.2 L877.8 204.5 L881.8 203.1 L885.8 201.8 L889.8 200.6 L893.8 199.7 L897.8 198.8 L901.8 198.2 L905.8 197.7 L909.8 197.4 L913.8 197.3 L917.8 197.3 L921.8 197.4 L925.8 197.7 L929.8 198.2 L933.8 198.7 L937.8 199.5 L941.8 200.3 L945.8 201.3 L949.8 202.4 L953.8 203.6 L957.8 205.0 L961.8 206.5 L965.8 208.1 L969.8 209.8 L973.8 211.6 L977.8 213.5 L981.8 215.5 L985.8 217.6 L989.8 219.8 L993.8 222.1 L997.8 224.5 L1001.8 227.0 L1005.8 229.5 L1009.8 232.2 L1013.8 234.9 L1017.8 237.7 L1021.8 240.5 L1025.8 243.4 L1029.8 246.4 L1033.8 249.5 L1037.8 252.5 L1041.8 255.7 L1045.8 258.9 L1049.8 262.1 L1053.8 265.4 L1057.8 268.7 L1061.8 272.1 L1065.8 275.5 L1069.8 278.9 L1073.8 282.4 L1077.8 285.8 L1081.8 289.3 L1085.8 292.8 L1089.8 296.4 L1093.8 299.9 L1097.8 303.4 L1101.8 307.0 L1105.8 310.5 L1109.8 314.1 L1113.8 317.6 L1117.8 321.2 L1121.8 324.7 L1125.8 328.3 L1129.8 331.9 L1133.8 335.4 L1137.8 339.0 L1141.8 342.5 L1145.8 346.1 L1149.8 349.7 L1153.8 353.2 L1157.8 356.8 L1161.8 360.3 L1165.8 363.9 L1169.8 367.4 L1173.8 370.9 L1177.8 374.5 L1181.8 378.0 L1185.8 381.5 L1189.8 385.0 L1193.8 388.5 L1197.8 392.0 L1201.8 395.5 L1205.8 399.0 L1209.8 402.4 L1213.8 405.9 L1217.8 409.3 L1221.8 412.8 L1225.8 416.2 L1229.8 419.6 L1233.8 423.0 L1237.8 426.4 L1241.8 429.7 L1245.8 433.1 L1249.8 436.4 L1253.8 439.7 L1257.8 443.0 L1261.8 446.3 L1265.8 449.6 L1269.8 452.8 L1273.8 456.1 L1277.8 459.3 L1281.8 462.5 L1285.8 465.7 L1289.8 468.8 L1293.8 472.0 L1297.8 475.1 L1301.8 478.3 L1305.8 481.4 L1309.8 484.4 L1313.8 487.5 L1317.8 490.6 L1321.8 493.6 L1325.8 496.7 L1329.8 499.7 L1333.8 502.7 L1337.8 505.7 L1341.8 508.6 L1345.8 511.6 L1349.8 514.6 L1353.8 517.5 L1357.8 520.4 L1361.8 523.4 L1365.8 526.3 L1369.8 529.2 L1373.8 532.1 L1377.8 534.9 L1381.8 537.8 L1385.8 540.7 L1389.8 543.5 L1393.8 546.4 L1397.8 549.2 L1401.8 552.0 L1405.8 554.8 L1409.8 557.6 L1413.8 560.4 L1417.8 563.2 L1421.8 566.0 L1425.8 568.8 L1429.8 571.6 L1433.8 574.4 L1437.8 577.1 L1441.8 579.9 L1445.8 582.6 L1449.8 585.4 L1453.8 588.1 L1457.8 590.9 L1461.8 593.6 L1465.8 596.3 L1469.8 599.1 L1473.8 601.8 L1477.8 604.5 L1481.8 607.2 L1485.8 609.8 L1489.8 612.5 L1493.8 615.1 L1497.8 617.7 L1501.8 620.3 L1505.8 622.8 L1509.8 625.3 L1513.8 627.8 L1517.8 630.2 L1521.8 632.6 L1525.8 634.9 L1529.8 637.2 L1533.8 639.5 L1537.8 641.7 L1541.8 643.8 L1545.8 645.9 L1549.8 647.9 L1553.8 649.9 L1557.8 651.7 L1561.8 653.6 L1565.8 655.3 L1569.8 657.0 L1573.8 658.6 L1577.8 660.2 L1581.8 661.6 L1585.8 663.0 L1589.8 664.3 L1593.8 665.5 L1597.8 666.7 L1601.8 667.8 L1605.8 668.9 L1609.8 670.0 L1613.8 671.0 L1617.8 672.1 L1621.8 673.1 L1625.8 674.1 L1629.8 675.1 L1633.8 676.1 L1637.8 677.2 L1641.8 678.3 L1645.8 679.4 L1649.8 680.5 L1653.8 681.7 L1657.8 683.0 L1661.8 684.4 L1665.8 685.7" stroke="#6fb802" stroke-width="10.5" stroke-dasharray="24.4 22.1" stroke-dashoffset="2.7"/>
<path d="M357.8 995.9 L361.8 994.0 L365.8 991.9 L369.8 989.7 L373.8 987.4 L377.8 985.0 L381.8 982.5 L385.8 979.8 L389.8 977.0 L393.8 974.1 L397.8 971.1 L401.8 968.0 L405.8 964.8 L409.8 961.5 L413.8 958.0 L417.8 954.5 L421.8 950.8 L425.8 947.1 L429.8 943.3 L433.8 939.4 L437.8 935.3 L441.8 931.2 L445.8 927.0 L449.8 922.8 L453.8 918.4 L457.8 914.0 L461.8 909.5 L465.8 904.9 L469.8 900.2 L473.8 895.5 L477.8 890.6 L481.8 885.7 L485.8 880.7 L489.8 875.5 L493.8 870.2 L497.8 864.7 L501.8 859.1 L505.8 853.2 L509.8 847.2 L513.8 840.9 L517.8 834.4 L521.8 827.6 L525.8 820.5 L529.8 813.2 L533.8 805.6 L537.8 797.6 L541.8 789.4 L545.8 780.7 L549.8 771.8 L553.8 762.4 L557.8 752.7 L561.8 742.7 L565.8 732.4 L569.8 721.9 L573.8 711.3 L577.8 700.9 L581.8 690.9 L585.8 681.2 L589.8 672.0 L593.8 663.1 L597.8 654.5 L601.8 646.1 L605.8 637.9 L609.8 629.9 L613.8 621.9 L617.8 614.1 L621.8 606.3 L625.8 598.5 L629.8 590.7 L633.8 582.8 L637.8 574.8 L641.8 566.7 L645.8 558.5 L649.8 550.2 L653.8 541.8 L657.8 533.2 L661.8 524.6 L665.8 516.0 L669.8 507.3 L673.8 498.5 L677.8 489.8 L681.8 481.0 L685.8 472.2 L689.8 463.4 L693.8 454.7 L697.8 445.9 L701.8 437.3 L705.8 428.7 L709.8 420.1 L713.8 411.7 L717.8 403.3 L721.8 395.1 L725.8 387.0 L729.8 379.0 L733.8 371.2 L737.8 363.5 L741.8 356.1 L745.8 348.7 L749.8 341.6 L753.8 334.6 L757.8 327.9 L761.8 321.2 L765.8 314.8 L769.8 308.5 L773.8 302.5 L777.8 296.5 L781.8 290.8 L785.8 285.2 L789.8 279.8 L793.8 274.6 L797.8 269.6 L801.8 264.7 L805.8 260.0 L809.8 255.5 L813.8 251.1 L817.8 246.9 L821.8 242.9 L825.8 239.1 L829.8 235.4 L833.8 231.9 L837.8 228.5 L841.8 225.4 L845.8 222.4 L849.8 219.6 L853.8 216.9 L857.8 214.4 L861.8 212.1 L865.8 210.0 L869.8 208.0 L873.8 206.2 L877.8 204.5 L881.8 203.1 L885.8 201.8 L889.8 200.6 L893.8 199.7 L897.8 198.8 L901.8 198.2 L905.8 197.7 L909.8 197.4 L913.8 197.3 L917.8 197.3 L921.8 197.4 L925.8 197.7 L929.8 198.2 L933.8 198.7 L937.8 199.5 L941.8 200.3 L945.8 201.3 L949.8 202.4 L953.8 203.6 L957.8 205.0 L961.8 206.5 L965.8 208.1 L969.8 209.8 L973.8 211.6 L977.8 213.5 L981.8 215.5 L985.8 217.6 L989.8 219.8 L993.8 222.1 L997.8 224.5 L1001.8 227.0 L1005.8 229.5 L1009.8 232.2 L1013.8 234.9 L1017.8 237.7 L1021.8 240.5 L1025.8 243.4 L1029.8 246.4 L1033.8 249.5 L1037.8 252.5 L1041.8 255.7 L1045.8 258.9 L1049.8 262.1 L1053.8 265.4 L1057.8 268.7 L1061.8 272.1 L1065.8 275.5 L1069.8 278.9 L1073.8 282.4 L1077.8 285.8 L1081.8 289.3 L1085.8 292.8 L1089.8 296.4 L1093.8 299.9 L1097.8 303.4 L1101.8 307.0 L1105.8 310.5 L1109.8 314.1 L1113.8 317.6 L1117.8 321.2 L1121.8 324.7 L1125.8 328.3 L1129.8 331.9 L1133.8 335.4 L1137.8 339.0 L1141.8 342.5 L1145.8 346.1 L1149.8 349.7 L1153.8 353.2 L1157.8 356.8 L1161.8 360.3 L1165.8 363.9 L1169.8 367.4 L1173.8 370.9 L1177.8 374.5 L1181.8 378.0 L1185.8 381.5 L1189.8 385.0 L1193.8 388.5 L1197.8 392.0 L1201.8 395.5 L1205.8 399.0 L1209.8 402.4 L1213.8 405.9 L1217.8 409.3 L1221.8 412.8 L1225.8 416.2 L1229.8 419.6 L1233.8 423.0 L1237.8 426.4 L1241.8 429.7 L1245.8 433.1 L1249.8 436.4 L1253.8 439.7 L1257.8 443.0 L1261.8 446.3 L1265.8 449.6 L1269.8 452.8 L1273.8 456.1 L1277.8 459.3 L1281.8 462.5 L1285.8 465.7 L1289.8 468.8 L1293.8 472.0 L1297.8 475.1 L1301.8 478.3 L1305.8 481.4 L1309.8 484.4 L1313.8 487.5 L1317.8 490.6 L1321.8 493.6 L1325.8 496.7 L1329.8 499.7 L1333.8 502.7 L1337.8 505.7 L1341.8 508.6 L1345.8 511.6 L1349.8 514.6 L1353.8 517.5 L1357.8 520.4 L1361.8 523.4 L1365.8 526.3 L1369.8 529.2 L1373.8 532.1 L1377.8 534.9 L1381.8 537.8 L1385.8 540.7 L1389.8 543.5 L1393.8 546.4 L1397.8 549.2 L1401.8 552.0 L1405.8 554.8 L1409.8 557.6 L1413.8 560.4 L1417.8 563.2 L1421.8 566.0 L1425.8 568.8 L1429.8 571.6 L1433.8 574.4 L1437.8 577.1 L1441.8 579.9 L1445.8 582.6 L1449.8 585.4 L1453.8 588.1 L1457.8 590.9 L1461.8 593.6 L1465.8 596.3 L1469.8 599.1 L1473.8 601.8 L1477.8 604.5 L1481.8 607.2 L1485.8 609.8 L1489.8 612.5 L1493.8 615.1 L1497.8 617.7 L1501.8 620.3 L1505.8 622.8 L1509.8 625.3 L1513.8 627.8 L1517.8 630.2 L1521.8 632.6 L1525.8 634.9 L1529.8 637.2 L1533.8 639.5 L1537.8 641.7 L1541.8 643.8 L1545.8 645.9 L1549.8 647.9 L1553.8 649.9 L1557.8 651.7 L1561.8 653.6 L1565.8 655.3 L1569.8 657.0 L1573.8 658.6 L1577.8 660.2 L1581.8 661.6 L1585.8 663.0 L1589.8 664.3 L1593.8 665.5 L1597.8 666.7 L1601.8 667.8 L1605.8 668.9 L1609.8 670.0 L1613.8 671.0 L1617.8 672.1 L1621.8 673.1 L1625.8 674.1 L1629.8 675.1 L1633.8 676.1 L1637.8 677.2 L1641.8 678.3 L1645.8 679.4 L1649.8 680.5 L1653.8 681.7 L1657.8 683.0 L1661.8 684.4 L1665.8 685.7" stroke="#6fb802" stroke-width="6.5" stroke-linecap="round" stroke-dasharray="22 24.5" stroke-dashoffset="1.5"/>
<path d="M357.8 990.5 L361.8 988.8 L365.8 987.0 L369.8 985.2 L373.8 983.3 L377.8 981.4 L381.8 979.4 L385.8 977.3 L389.8 975.2 L393.8 973.0 L397.8 970.7 L401.8 968.3 L405.8 965.9 L409.8 963.4 L413.8 960.8 L417.8 958.1 L421.8 955.3 L425.8 952.4 L429.8 949.5 L433.8 946.4 L437.8 943.2 L441.8 939.9 L445.8 936.5 L449.8 933.0 L453.8 929.4 L457.8 925.7 L461.8 921.8 L465.8 917.8 L469.8 913.7 L473.8 909.5 L477.8 905.1 L481.8 900.6 L485.8 895.9 L489.8 891.1 L493.8 886.2 L497.8 881.1 L501.8 875.8 L505.8 870.4 L509.8 864.8 L513.8 859.1 L517.8 853.2 L521.8 847.2 L525.8 840.9 L529.8 834.5 L533.8 828.0 L537.8 821.2 L541.8 814.3 L545.8 807.2 L549.8 799.9 L553.8 792.5 L557.8 784.9 L561.8 777.2 L565.8 769.4 L569.8 761.5 L573.8 753.6 L577.8 745.5 L581.8 737.4 L585.8 729.3 L589.8 721.1 L593.8 713.0 L597.8 704.8 L601.8 696.6 L605.8 688.5 L609.8 680.3 L613.8 672.2 L617.8 664.1 L621.8 656.0 L625.8 648.0 L629.8 639.9 L633.8 631.9 L637.8 623.9 L641.8 616.0 L645.8 608.0 L649.8 600.2 L653.8 592.3 L657.8 584.5 L661.8 576.7 L665.8 569.0 L669.8 561.3 L673.8 553.7 L677.8 546.2 L681.8 538.7 L685.8 531.2 L689.8 523.9 L693.8 516.6 L697.8 509.4 L701.8 502.2 L705.8 495.1 L709.8 488.2 L713.8 481.3 L717.8 474.5 L721.8 467.7 L725.8 461.1 L729.8 454.6 L733.8 448.2 L737.8 441.9 L741.8 435.7 L745.8 429.6 L749.8 423.6 L753.8 417.8 L757.8 412.0 L761.8 406.4 L765.8 400.9 L769.8 395.5 L773.8 390.3 L777.8 385.2 L781.8 380.2 L785.8 375.3 L789.8 370.6 L793.8 366.0 L797.8 361.6 L801.8 357.2 L805.8 353.1 L809.8 349.0 L813.8 345.1 L817.8 341.3 L821.8 337.7 L825.8 334.2 L829.8 330.9 L833.8 327.7 L837.8 324.6 L841.8 321.7 L845.8 319.0 L849.8 316.4 L853.8 313.9 L857.8 311.6 L861.8 309.5 L865.8 307.5 L869.8 305.6 L873.8 304.0 L877.8 302.4 L881.8 301.1 L885.8 299.9 L889.8 298.9 L893.8 298.0 L897.8 297.3 L901.8 296.7 L905.8 296.3 L909.8 296.1 L913.8 296.0 L917.8 296.1 L921.8 296.3 L925.8 296.6 L929.8 297.1 L933.8 297.6 L937.8 298.4 L941.8 299.2 L945.8 300.2 L949.8 301.3 L953.8 302.4 L957.8 303.7 L961.8 305.2 L965.8 306.7 L969.8 308.3 L973.8 310.0 L977.8 311.8 L981.8 313.6 L985.8 315.6 L989.8 317.6 L993.8 319.8 L997.8 322.0 L1001.8 324.2 L1005.8 326.5 L1009.8 328.9 L1013.8 331.4 L1017.8 333.9 L1021.8 336.5 L1025.8 339.1 L1029.8 341.7 L1033.8 344.4 L1037.8 347.1 L1041.8 349.9 L1045.8 352.7 L1049.8 355.5 L1053.8 358.4 L1057.8 361.2 L1061.8 364.1 L1065.8 367.0 L1069.8 369.9 L1073.8 372.8 L1077.8 375.7 L1081.8 378.7 L1085.8 381.6 L1089.8 384.5 L1093.8 387.4 L1097.8 390.2 L1101.8 393.1 L1105.8 395.9 L1109.8 398.8 L1113.8 401.6 L1117.8 404.4 L1121.8 407.2 L1125.8 410.0 L1129.8 412.8 L1133.8 415.6 L1137.8 418.4 L1141.8 421.2 L1145.8 423.9 L1149.8 426.7 L1153.8 429.4 L1157.8 432.1 L1161.8 434.8 L1165.8 437.5 L1169.8 440.3 L1173.8 443.0 L1177.8 445.6 L1181.8 448.3 L1185.8 451.0 L1189.8 453.7 L1193.8 456.4 L1197.8 459.0 L1201.8 461.7 L1205.8 464.3 L1209.8 467.0 L1213.8 469.6 L1217.8 472.3 L1221.8 474.9 L1225.8 477.5 L1229.8 480.2 L1233.8 482.8 L1237.8 485.4 L1241.8 488.0 L1245.8 490.6 L1249.8 493.3 L1253.8 495.9 L1257.8 498.5 L1261.8 501.1 L1265.8 503.7 L1269.8 506.3 L1273.8 508.9 L1277.8 511.5 L1281.8 514.1 L1285.8 516.7 L1289.8 519.3 L1293.8 522.0 L1297.8 524.6 L1301.8 527.2 L1305.8 529.8 L1309.8 532.4 L1313.8 535.0 L1317.8 537.6 L1321.8 540.2 L1325.8 542.8 L1329.8 545.4 L1333.8 548.1 L1337.8 550.7 L1341.8 553.3 L1345.8 555.9 L1349.8 558.5 L1353.8 561.1 L1357.8 563.7 L1361.8 566.3 L1365.8 568.9 L1369.8 571.5 L1373.8 574.1 L1377.8 576.6 L1381.8 579.2 L1385.8 581.8 L1389.8 584.4 L1393.8 587.0 L1397.8 589.6 L1401.8 592.1 L1405.8 594.7 L1409.8 597.3 L1413.8 599.8 L1417.8 602.4 L1421.8 604.9 L1425.8 607.5 L1429.8 610.0 L1433.8 612.6 L1437.8 615.1 L1441.8 617.7 L1445.8 620.2 L1449.8 622.7 L1453.8 625.3 L1457.8 627.8 L1461.8 630.3 L1465.8 632.8 L1469.8 635.4 L1473.8 637.9 L1477.8 640.4 L1481.8 642.9 L1485.8 645.4 L1489.8 647.9 L1493.8 650.4 L1497.8 652.9 L1501.8 655.4 L1505.8 657.9 L1509.8 660.3 L1513.8 662.8 L1517.8 665.2 L1521.8 667.6 L1525.8 670.0 L1529.8 672.3 L1533.8 674.7 L1537.8 676.9 L1541.8 679.2 L1545.8 681.4 L1549.8 683.6 L1553.8 685.7 L1557.8 687.8 L1561.8 689.9 L1565.8 691.9 L1569.8 693.9 L1573.8 695.8 L1577.8 697.6 L1581.8 699.4 L1585.8 701.1 L1589.8 702.8 L1593.8 704.4 L1597.8 706.0 L1601.8 707.4 L1605.8 708.8 L1609.8 710.2 L1613.8 711.4 L1617.8 712.6 L1621.8 713.7 L1625.8 714.7 L1629.8 715.6 L1633.8 716.5 L1637.8 717.2 L1641.8 717.9 L1645.8 718.4 L1649.8 718.9 L1653.8 719.2 L1657.8 719.6 L1661.8 719.9 L1665.8 720.3" stroke="#505050" stroke-width="10.5" stroke-dasharray="24.4 22.1" stroke-dashoffset="2.7"/>
<path d="M357.8 990.5 L361.8 988.8 L365.8 987.0 L369.8 985.2 L373.8 983.3 L377.8 981.4 L381.8 979.4 L385.8 977.3 L389.8 975.2 L393.8 973.0 L397.8 970.7 L401.8 968.3 L405.8 965.9 L409.8 963.4 L413.8 960.8 L417.8 958.1 L421.8 955.3 L425.8 952.4 L429.8 949.5 L433.8 946.4 L437.8 943.2 L441.8 939.9 L445.8 936.5 L449.8 933.0 L453.8 929.4 L457.8 925.7 L461.8 921.8 L465.8 917.8 L469.8 913.7 L473.8 909.5 L477.8 905.1 L481.8 900.6 L485.8 895.9 L489.8 891.1 L493.8 886.2 L497.8 881.1 L501.8 875.8 L505.8 870.4 L509.8 864.8 L513.8 859.1 L517.8 853.2 L521.8 847.2 L525.8 840.9 L529.8 834.5 L533.8 828.0 L537.8 821.2 L541.8 814.3 L545.8 807.2 L549.8 799.9 L553.8 792.5 L557.8 784.9 L561.8 777.2 L565.8 769.4 L569.8 761.5 L573.8 753.6 L577.8 745.5 L581.8 737.4 L585.8 729.3 L589.8 721.1 L593.8 713.0 L597.8 704.8 L601.8 696.6 L605.8 688.5 L609.8 680.3 L613.8 672.2 L617.8 664.1 L621.8 656.0 L625.8 648.0 L629.8 639.9 L633.8 631.9 L637.8 623.9 L641.8 616.0 L645.8 608.0 L649.8 600.2 L653.8 592.3 L657.8 584.5 L661.8 576.7 L665.8 569.0 L669.8 561.3 L673.8 553.7 L677.8 546.2 L681.8 538.7 L685.8 531.2 L689.8 523.9 L693.8 516.6 L697.8 509.4 L701.8 502.2 L705.8 495.1 L709.8 488.2 L713.8 481.3 L717.8 474.5 L721.8 467.7 L725.8 461.1 L729.8 454.6 L733.8 448.2 L737.8 441.9 L741.8 435.7 L745.8 429.6 L749.8 423.6 L753.8 417.8 L757.8 412.0 L761.8 406.4 L765.8 400.9 L769.8 395.5 L773.8 390.3 L777.8 385.2 L781.8 380.2 L785.8 375.3 L789.8 370.6 L793.8 366.0 L797.8 361.6 L801.8 357.2 L805.8 353.1 L809.8 349.0 L813.8 345.1 L817.8 341.3 L821.8 337.7 L825.8 334.2 L829.8 330.9 L833.8 327.7 L837.8 324.6 L841.8 321.7 L845.8 319.0 L849.8 316.4 L853.8 313.9 L857.8 311.6 L861.8 309.5 L865.8 307.5 L869.8 305.6 L873.8 304.0 L877.8 302.4 L881.8 301.1 L885.8 299.9 L889.8 298.9 L893.8 298.0 L897.8 297.3 L901.8 296.7 L905.8 296.3 L909.8 296.1 L913.8 296.0 L917.8 296.1 L921.8 296.3 L925.8 296.6 L929.8 297.1 L933.8 297.6 L937.8 298.4 L941.8 299.2 L945.8 300.2 L949.8 301.3 L953.8 302.4 L957.8 303.7 L961.8 305.2 L965.8 306.7 L969.8 308.3 L973.8 310.0 L977.8 311.8 L981.8 313.6 L985.8 315.6 L989.8 317.6 L993.8 319.8 L997.8 322.0 L1001.8 324.2 L1005.8 326.5 L1009.8 328.9 L1013.8 331.4 L1017.8 333.9 L1021.8 336.5 L1025.8 339.1 L1029.8 341.7 L1033.8 344.4 L1037.8 347.1 L1041.8 349.9 L1045.8 352.7 L1049.8 355.5 L1053.8 358.4 L1057.8 361.2 L1061.8 364.1 L1065.8 367.0 L1069.8 369.9 L1073.8 372.8 L1077.8 375.7 L1081.8 378.7 L1085.8 381.6 L1089.8 384.5 L1093.8 387.4 L1097.8 390.2 L1101.8 393.1 L1105.8 395.9 L1109.8 398.8 L1113.8 401.6 L1117.8 404.4 L1121.8 407.2 L1125.8 410.0 L1129.8 412.8 L1133.8 415.6 L1137.8 418.4 L1141.8 421.2 L1145.8 423.9 L1149.8 426.7 L1153.8 429.4 L1157.8 432.1 L1161.8 434.8 L1165.8 437.5 L1169.8 440.3 L1173.8 443.0 L1177.8 445.6 L1181.8 448.3 L1185.8 451.0 L1189.8 453.7 L1193.8 456.4 L1197.8 459.0 L1201.8 461.7 L1205.8 464.3 L1209.8 467.0 L1213.8 469.6 L1217.8 472.3 L1221.8 474.9 L1225.8 477.5 L1229.8 480.2 L1233.8 482.8 L1237.8 485.4 L1241.8 488.0 L1245.8 490.6 L1249.8 493.3 L1253.8 495.9 L1257.8 498.5 L1261.8 501.1 L1265.8 503.7 L1269.8 506.3 L1273.8 508.9 L1277.8 511.5 L1281.8 514.1 L1285.8 516.7 L1289.8 519.3 L1293.8 522.0 L1297.8 524.6 L1301.8 527.2 L1305.8 529.8 L1309.8 532.4 L1313.8 535.0 L1317.8 537.6 L1321.8 540.2 L1325.8 542.8 L1329.8 545.4 L1333.8 548.1 L1337.8 550.7 L1341.8 553.3 L1345.8 555.9 L1349.8 558.5 L1353.8 561.1 L1357.8 563.7 L1361.8 566.3 L1365.8 568.9 L1369.8 571.5 L1373.8 574.1 L1377.8 576.6 L1381.8 579.2 L1385.8 581.8 L1389.8 584.4 L1393.8 587.0 L1397.8 589.6 L1401.8 592.1 L1405.8 594.7 L1409.8 597.3 L1413.8 599.8 L1417.8 602.4 L1421.8 604.9 L1425.8 607.5 L1429.8 610.0 L1433.8 612.6 L1437.8 615.1 L1441.8 617.7 L1445.8 620.2 L1449.8 622.7 L1453.8 625.3 L1457.8 627.8 L1461.8 630.3 L1465.8 632.8 L1469.8 635.4 L1473.8 637.9 L1477.8 640.4 L1481.8 642.9 L1485.8 645.4 L1489.8 647.9 L1493.8 650.4 L1497.8 652.9 L1501.8 655.4 L1505.8 657.9 L1509.8 660.3 L1513.8 662.8 L1517.8 665.2 L1521.8 667.6 L1525.8 670.0 L1529.8 672.3 L1533.8 674.7 L1537.8 676.9 L1541.8 679.2 L1545.8 681.4 L1549.8 683.6 L1553.8 685.7 L1557.8 687.8 L1561.8 689.9 L1565.8 691.9 L1569.8 693.9 L1573.8 695.8 L1577.8 697.6 L1581.8 699.4 L1585.8 701.1 L1589.8 702.8 L1593.8 704.4 L1597.8 706.0 L1601.8 707.4 L1605.8 708.8 L1609.8 710.2 L1613.8 711.4 L1617.8 712.6 L1621.8 713.7 L1625.8 714.7 L1629.8 715.6 L1633.8 716.5 L1637.8 717.2 L1641.8 717.9 L1645.8 718.4 L1649.8 718.9 L1653.8 719.2 L1657.8 719.6 L1661.8 719.9 L1665.8 720.3" stroke="#505050" stroke-width="6.5" stroke-linecap="round" stroke-dasharray="22 24.5" stroke-dashoffset="1.5"/>
</g>
<text class="b" x="787" y="1237.5" font-size="67" textLength="558" lengthAdjust="spacingAndGlyphs">Wavelength (nm)</text>
<g transform="translate(160 968) rotate(-90)"><text class="b" x="0" y="0" font-size="70" textLength="667" lengthAdjust="spacingAndGlyphs">Emission (CPS) x 10</text><text class="b" x="667.5" y="-29.3" font-size="51.5" textLength="26" lengthAdjust="spacingAndGlyphs">4</text></g>
<text class="b" x="15.8" y="122.9" font-size="116.3" textLength="138.6" lengthAdjust="spacingAndGlyphs" fill="#000">(<tspan dy="4.1">a</tspan><tspan dy="-4.1">)</tspan></text>
<text x="902.5" y="105.6" font-size="68.5" fill="#ff7f0a" text-anchor="middle">640</text>
<text x="369.6" y="88.7" font-size="45.5" fill="#222" textLength="303.5" lengthAdjust="spacingAndGlyphs">Excitation (nm)</text>
<path d="M386.0 126.8 h24" stroke="#505050" stroke-width="11" fill="none"/>
<path d="M387.0 126.8 h22" stroke="#505050" stroke-width="6.5" stroke-linecap="round" fill="none"/>
<path d="M433.7 126.8 h24" stroke="#505050" stroke-width="11" fill="none"/>
<path d="M434.7 126.8 h22" stroke="#505050" stroke-width="6.5" stroke-linecap="round" fill="none"/>
<text class="lg" x="480.5" y="139.6" textLength="62.7" lengthAdjust="spacingAndGlyphs">900</text>
<path d="M386.0 172.0 h24" stroke="#f03c3e" stroke-width="11" fill="none"/>
<path d="M387.0 172.0 h22" stroke="#f03c3e" stroke-width="6.5" stroke-linecap="round" fill="none"/>
<path d="M433.7 172.0 h24" stroke="#f03c3e" stroke-width="11" fill="none"/>
<path d="M434.7 172.0 h22" stroke="#f03c3e" stroke-width="6.5" stroke-linecap="round" fill="none"/>
<text class="lg" x="480.5" y="184.8" textLength="62.7" lengthAdjust="spacingAndGlyphs">920</text>
<path d="M386.0 217.2 h24" stroke="#1a6fdf" stroke-width="11" fill="none"/>
<path d="M387.0 217.2 h22" stroke="#1a6fdf" stroke-width="6.5" stroke-linecap="round" fill="none"/>
<path d="M433.7 217.2 h24" stroke="#1a6fdf" stroke-width="11" fill="none"/>
<path d="M434.7 217.2 h22" stroke="#1a6fdf" stroke-width="6.5" stroke-linecap="round" fill="none"/>
<text class="lg" x="480.5" y="230.0" textLength="62.7" lengthAdjust="spacingAndGlyphs">940</text>
<path d="M386.0 262.4 h24" stroke="#37ad6b" stroke-width="11" fill="none"/>
<path d="M387.0 262.4 h22" stroke="#37ad6b" stroke-width="6.5" stroke-linecap="round" fill="none"/>
<path d="M433.7 262.4 h24" stroke="#37ad6b" stroke-width="11" fill="none"/>
<path d="M434.7 262.4 h22" stroke="#37ad6b" stroke-width="6.5" stroke-linecap="round" fill="none"/>
<text class="lg" x="480.5" y="275.2" textLength="62.7" lengthAdjust="spacingAndGlyphs">960</text>
<path d="M386.0 307.6 h24" stroke="#b177de" stroke-width="11" fill="none"/>
<path d="M387.0 307.6 h22" stroke="#b177de" stroke-width="6.5" stroke-linecap="round" fill="none"/>
<path d="M433.7 307.6 h24" stroke="#b177de" stroke-width="11" fill="none"/>
<path d="M434.7 307.6 h22" stroke="#b177de" stroke-width="6.5" stroke-linecap="round" fill="none"/>
<text class="lg" x="480.5" y="320.4" textLength="62.7" lengthAdjust="spacingAndGlyphs">980</text>
<path d="M386.0 352.8 h24" stroke="#cc9900" stroke-width="11" fill="none"/>
<path d="M387.0 352.8 h22" stroke="#cc9900" stroke-width="6.5" stroke-linecap="round" fill="none"/>
<path d="M433.7 352.8 h24" stroke="#cc9900" stroke-width="11" fill="none"/>
<path d="M434.7 352.8 h22" stroke="#cc9900" stroke-width="6.5" stroke-linecap="round" fill="none"/>
<text class="lg" x="480.5" y="365.6" textLength="83.6" lengthAdjust="spacingAndGlyphs">1000</text>
<path d="M386.0 398.0 h24" stroke="#00cbcc" stroke-width="11" fill="none"/>
<path d="M387.0 398.0 h22" stroke="#00cbcc" stroke-width="6.5" stroke-linecap="round" fill="none"/>
<path d="M433.7 398.0 h24" stroke="#00cbcc" stroke-width="11" fill="none"/>
<path d="M434.7 398.0 h22" stroke="#00cbcc" stroke-width="6.5" stroke-linecap="round" fill="none"/>
<text class="lg" x="480.5" y="410.8" textLength="83.6" lengthAdjust="spacingAndGlyphs">1020</text>
<path d="M386.0 443.2 h24" stroke="#7d4e4e" stroke-width="11" fill="none"/>
<path d="M387.0 443.2 h22" stroke="#7d4e4e" stroke-width="6.5" stroke-linecap="round" fill="none"/>
<path d="M433.7 443.2 h24" stroke="#7d4e4e" stroke-width="11" fill="none"/>
<path d="M434.7 443.2 h22" stroke="#7d4e4e" stroke-width="6.5" stroke-linecap="round" fill="none"/>
<text class="lg" x="480.5" y="456.0" textLength="83.6" lengthAdjust="spacingAndGlyphs">1040</text>
<path d="M386.0 488.4 h24" stroke="#8e8e00" stroke-width="11" fill="none"/>
<path d="M387.0 488.4 h22" stroke="#8e8e00" stroke-width="6.5" stroke-linecap="round" fill="none"/>
<path d="M433.7 488.4 h24" stroke="#8e8e00" stroke-width="11" fill="none"/>
<path d="M434.7 488.4 h22" stroke="#8e8e00" stroke-width="6.5" stroke-linecap="round" fill="none"/>
<text class="lg" x="480.5" y="501.2" textLength="83.6" lengthAdjust="spacingAndGlyphs">1060</text>
<path d="M391 533.6 H472.5" stroke="#fb6501" stroke-width="15" stroke-linecap="round" fill="none"/>
<text class="lg" x="480.5" y="546.4" textLength="83.6" lengthAdjust="spacingAndGlyphs">1080</text>
<path d="M386.0 578.8 h24" stroke="#6699cc" stroke-width="11" fill="none"/>
<path d="M387.0 578.8 h22" stroke="#6699cc" stroke-width="6.5" stroke-linecap="round" fill="none"/>
<path d="M433.7 578.8 h24" stroke="#6699cc" stroke-width="11" fill="none"/>
<path d="M434.7 578.8 h22" stroke="#6699cc" stroke-width="6.5" stroke-linecap="round" fill="none"/>
<text class="lg" x="480.5" y="591.6" textLength="83.6" lengthAdjust="spacingAndGlyphs">1100</text>
<path d="M386.0 624.0 h24" stroke="#6fb802" stroke-width="11" fill="none"/>
<path d="M387.0 624.0 h22" stroke="#6fb802" stroke-width="6.5" stroke-linecap="round" fill="none"/>
<path d="M433.7 624.0 h24" stroke="#6fb802" stroke-width="11" fill="none"/>
<path d="M434.7 624.0 h22" stroke="#6fb802" stroke-width="6.5" stroke-linecap="round" fill="none"/>
<text class="lg" x="480.5" y="636.8" textLength="83.6" lengthAdjust="spacingAndGlyphs">1120</text>
<path d="M386.0 669.2 h24" stroke="#505050" stroke-width="11" fill="none"/>
<path d="M387.0 669.2 h22" stroke="#505050" stroke-width="6.5" stroke-linecap="round" fill="none"/>
<path d="M433.7 669.2 h24" stroke="#505050" stroke-width="11" fill="none"/>
<path d="M434.7 669.2 h22" stroke="#505050" stroke-width="6.5" stroke-linecap="round" fill="none"/>
<text class="lg" x="480.5" y="682.0" textLength="83.6" lengthAdjust="spacingAndGlyphs">1140</text>
<path d="M565.8 2104.1 L607.8 2006.9" stroke="#000" stroke-width="7" stroke-linecap="round" fill="none"/>
<path d="M654.5 1916.6 L688.4 1856.0" stroke="#000" stroke-width="7" stroke-linecap="round" fill="none"/>
<path d="M832.5 1736.0 L850.2 1715.4" stroke="#000" stroke-width="7" stroke-linecap="round" fill="none"/>
<path d="M915.7 1637.6 L935.2 1611.6" stroke="#000" stroke-width="7" stroke-linecap="round" fill="none"/>
<path d="M1006.0 1539.6 L1014.7 1532.3" stroke="#000" stroke-width="7" stroke-linecap="round" fill="none"/>
<path d="M1095.2 1470.8 L1097.2 1469.3" stroke="#000" stroke-width="7" stroke-linecap="round" fill="none"/>
<path d="M1419.7 1530.8 L1444.6 1566.1" stroke="#000" stroke-width="7" stroke-linecap="round" fill="none"/>
<path d="M459.3 2149.9 L503.3 2193.9 L459.3 2237.9 L415.3 2193.9 Z" fill="#ff7f00"/>
<path d="M544.0 2104.9 L588.0 2148.9 L544.0 2192.9 L500.0 2148.9 Z" fill="#ff7f00"/>
<path d="M628.6 1916.1 L672.6 1960.1 L628.6 2004.1 L584.6 1960.1 Z" fill="#ff7f00"/>
<path d="M713.3 1767.6 L757.3 1811.6 L713.3 1855.6 L669.3 1811.6 Z" fill="#ff7f00"/>
<path d="M798.0 1730.4 L842.0 1774.4 L798.0 1818.4 L754.0 1774.4 Z" fill="#ff7f00"/>
<path d="M882.7 1633.0 L926.7 1677.0 L882.7 1721.0 L838.7 1677.0 Z" fill="#ff7f00"/>
<path d="M967.3 1529.6 L1011.3 1573.6 L967.3 1617.6 L923.3 1573.6 Z" fill="#ff7f00"/>
<path d="M1052.0 1455.7 L1096.0 1499.7 L1052.0 1543.7 L1008.0 1499.7 Z" fill="#ff7f00"/>
<path d="M1136.7 1396.0 L1180.7 1440.0 L1136.7 1484.0 L1092.7 1440.0 Z" fill="#ff7f00"/>
<path d="M1221.3 1357.7 L1265.3 1401.7 L1221.3 1445.7 L1177.3 1401.7 Z" fill="#ff7f00"/>
<path d="M1306.0 1397.0 L1350.0 1441.0 L1306.0 1485.0 L1262.0 1441.0 Z" fill="#ff7f00"/>
<path d="M1390.7 1446.4 L1434.7 1490.4 L1390.7 1534.4 L1346.7 1490.4 Z" fill="#ff7f00"/>
<path d="M1475.4 1564.3 L1519.4 1608.3 L1475.4 1652.3 L1431.4 1608.3 Z" fill="#ff7f00"/>
<rect x="274.7" y="1399.5" width="1.3" height="8" fill="#c4c4c4"/>
<path class="ax" d="M355.1 1325.5 V2374.9"/>
<path class="ax" d="M333.8 2366.4 H1625.7"/>
<text class="tkb" x="317.8" y="2384.0" text-anchor="end" textLength="93" lengthAdjust="spacingAndGlyphs">1.0</text>
<path class="ax" d="M333.8 2121.8 H355.1"/>
<text class="tkb" x="317.8" y="2139.3" text-anchor="end" textLength="93" lengthAdjust="spacingAndGlyphs">2.0</text>
<path class="ax" d="M333.8 1877.1 H355.1"/>
<text class="tkb" x="317.8" y="1894.7" text-anchor="end" textLength="93" lengthAdjust="spacingAndGlyphs">3.0</text>
<path class="ax" d="M333.8 1632.5 H355.1"/>
<text class="tkb" x="317.8" y="1650.0" text-anchor="end" textLength="93" lengthAdjust="spacingAndGlyphs">4.0</text>
<path class="ax" d="M333.8 1387.8 H355.1"/>
<text class="tkb" x="317.8" y="1405.4" text-anchor="end" textLength="37.2" lengthAdjust="spacingAndGlyphs">0</text>
<path class="ax" d="M344.5 2244.1 H355.1"/>
<path class="ax" d="M344.5 1999.4 H355.1"/>
<path class="ax" d="M344.5 1754.8 H355.1"/>
<path class="ax" d="M344.5 1510.1 H355.1"/>
<path class="ax" d="M459.3 2366.4 V2385.9"/>
<text class="tkb" x="458.8" y="2451" text-anchor="middle" textLength="107.6" lengthAdjust="spacingAndGlyphs">900</text>
<path class="ax" d="M671.0 2366.4 V2385.9"/>
<text class="tkb" x="670.5" y="2451" text-anchor="middle" textLength="107.6" lengthAdjust="spacingAndGlyphs">950</text>
<path class="ax" d="M882.7 2366.4 V2385.9"/>
<text class="tkb" x="882.2" y="2451" text-anchor="middle" textLength="140.5" lengthAdjust="spacingAndGlyphs">1000</text>
<path class="ax" d="M1094.3 2366.4 V2385.9"/>
<text class="tkb" x="1093.8" y="2451" text-anchor="middle" textLength="140.5" lengthAdjust="spacingAndGlyphs">1050</text>
<path class="ax" d="M1306.0 2366.4 V2385.9"/>
<text class="tkb" x="1305.5" y="2451" text-anchor="middle" textLength="140.5" lengthAdjust="spacingAndGlyphs">1100</text>
<path class="ax" d="M1517.7 2366.4 V2385.9"/>
<text class="tkb" x="1517.2" y="2451" text-anchor="middle" textLength="140.5" lengthAdjust="spacingAndGlyphs">1150</text>
<path class="ax" d="M565.1 2366.4 V2375.9"/>
<path class="ax" d="M776.8 2366.4 V2375.9"/>
<path class="ax" d="M988.5 2366.4 V2375.9"/>
<path class="ax" d="M1200.2 2366.4 V2375.9"/>
<path class="ax" d="M1411.9 2366.4 V2375.9"/>
<path class="ax" d="M1623.5 2366.4 V2375.9"/>
<text class="b" x="731" y="2537.8" font-size="61.6" textLength="516" lengthAdjust="spacingAndGlyphs">Wavelength (nm)</text>
<g transform="translate(159.2 2294) rotate(-90)"><text class="b" x="0" y="0" font-size="68" textLength="573.5" lengthAdjust="spacingAndGlyphs">Emission Intensity</text><text class="b" x="594" y="0" font-size="68" textLength="126.7" lengthAdjust="spacingAndGlyphs">x 10</text><text x="719" y="-24.4" font-size="38" fill="#111">4</text></g>
<text class="b" x="66.3" y="1388.8" font-size="116" textLength="143" lengthAdjust="spacingAndGlyphs" fill="#000">(b)</text>
</svg>
</body>
</html>
